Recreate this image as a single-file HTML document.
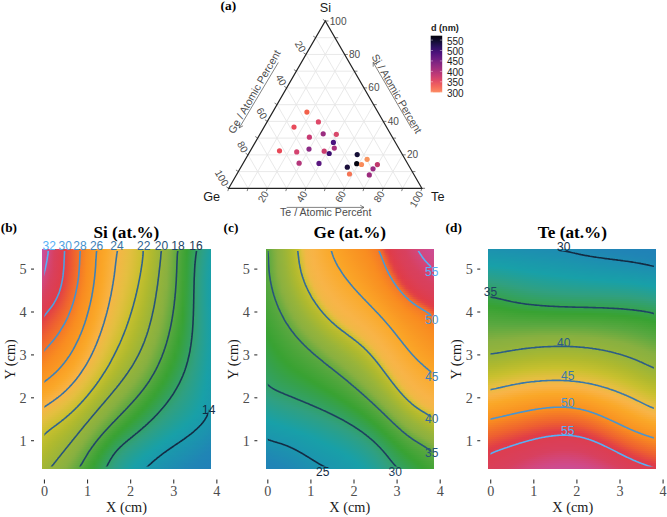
<!DOCTYPE html>
<html><head><meta charset="utf-8"><style>
html,body{margin:0;padding:0;background:#fff}
body{width:667px;height:517px;position:relative;overflow:hidden;font-family:"Liberation Sans",sans-serif}
.hm{position:absolute;overflow:hidden}
.hm div{position:absolute;left:0;right:0}
svg{position:absolute;left:0;top:0}
.tk{font-family:"Liberation Serif",serif;font-size:14.2px;fill:#4d4d4d}
.ax{font-family:"Liberation Serif",serif;font-size:14.3px;fill:#1a1a1a}
.ti{font-family:"Liberation Serif",serif;font-size:17.2px;font-weight:bold;fill:#000}
.pl{font-family:"Liberation Serif",serif;font-size:13.3px;font-weight:bold;fill:#000}
</style></head><body>
<div class="hm" style="left:42.20px;top:249.0px;width:168.60px;height:219.50px"><div style="top:0.00px;height:2.60px;background:linear-gradient(90deg,#c850a0,#ce4b8e,#d34678,#d84160,#db3f56,#de3d4d,#e34344,#e95339,#ef622f,#f26f2a,#f57c26,#f88921,#f99121,#f99723,#fa9e25,#faa327,#faa92a,#f9ad37,#f8b242,#f5b547,#efb944,#e9bc42,#e3bf40,#dbbf3a,#d2c034,#c8c02e,#bebd2e,#b4ba2e,#a9b831,#9eb537,#95b33b,#8db13e,#80af40,#6aab40,#56a73e,#47a538,#38a232,#36a149,#33a15f,#31a075,#2ca087,#23a095,#1ba0a3)"></div><div style="top:2.00px;height:2.60px;background:linear-gradient(90deg,#c8509f,#ce4b8d,#d34677,#d8405f,#db3f56,#de3d4d,#e34343,#e95339,#ef632f,#f2702a,#f57c26,#f88921,#f99121,#f99823,#fa9e25,#faa427,#faa92b,#f9ae38,#f8b243,#f5b647,#efb944,#e9bc42,#e3bf3f,#dabf3a,#d1c034,#c8c02e,#bebd2e,#b3ba2e,#a9b831,#9eb537,#95b33b,#8db13e,#7fae40,#69ab40,#55a73e,#46a438,#38a233,#36a14a,#33a160,#31a076,#2ba088,#23a096,#1aa0a4)"></div><div style="top:3.99px;height:2.60px;background:linear-gradient(90deg,#c9509e,#cf4b8b,#d34676,#d8405e,#db3e56,#de3d4d,#e34443,#e95438,#ef632f,#f2702a,#f57d25,#f88a21,#f99122,#f99823,#fa9e25,#faa427,#faaa2c,#f9ae38,#f8b244,#f4b646,#eeb944,#e9bc42,#e2bf3f,#dabf3a,#d1c034,#c7c02e,#bebd2e,#b3ba2e,#a8b831,#9eb537,#94b33b,#8cb13e,#7eae40,#68aa40,#54a73e,#45a437,#38a234,#35a14c,#33a162,#31a078,#2ba089,#22a097,#1aa0a5)"></div><div style="top:5.99px;height:2.60px;background:linear-gradient(90deg,#c94f9d,#cf4a8a,#d44574,#d8405e,#db3e55,#de3d4d,#e34443,#e95438,#ef632f,#f2702a,#f57d25,#f88a21,#f99222,#f99824,#fa9f25,#faa527,#faaa2d,#f9ae39,#f8b345,#f4b646,#eeba44,#e8bd42,#e2bf3f,#dabf39,#d1c034,#c7c02e,#bdbd2e,#b3ba2e,#a8b732,#9db537,#94b33c,#8cb13e,#7dae40,#67aa40,#54a73d,#45a437,#38a236,#35a14d,#33a163,#31a079,#2aa08a,#22a098,#19a0a6)"></div><div style="top:7.98px;height:2.60px;background:linear-gradient(90deg,#ca4f9b,#d04a88,#d44573,#d8405d,#db3e55,#de3d4c,#e34443,#e95438,#ef632f,#f2712a,#f57e25,#f98a21,#f99222,#f99924,#fa9f25,#faa527,#faaa2e,#f9af3a,#f8b345,#f3b746,#edba44,#e8bd42,#e2bf3e,#d9bf39,#d0c033,#c7c02e,#bdbd2e,#b2ba2e,#a7b732,#9db538,#94b33c,#8cb13f,#7dae40,#67aa40,#53a73d,#44a437,#38a237,#35a14e,#33a165,#31a07a,#2aa08b,#21a099,#19a0a7)"></div><div style="top:9.98px;height:2.60px;background:linear-gradient(90deg,#ca4e99,#d04a87,#d44571,#d8405d,#db3e55,#df3d4c,#e34442,#e95438,#ef642f,#f2712a,#f57e25,#f98b21,#f99222,#f99924,#fa9f25,#faa527,#faaa2e,#f9af3b,#f8b346,#f3b746,#edba44,#e7bd41,#e1bf3e,#d9bf39,#d0c033,#c6c02e,#bcbd2e,#b2ba2e,#a7b732,#9cb538,#93b33c,#8bb13f,#7cae40,#66aa40,#53a73d,#44a437,#37a237,#35a14f,#33a166,#30a07c,#29a08c,#20a09a,#18a0a8)"></div><div style="top:11.97px;height:2.60px;background:linear-gradient(90deg,#cb4e97,#d14985,#d54470,#d9405c,#dc3e54,#df3d4c,#e34542,#ea5538,#ef642f,#f2712a,#f67e25,#f98b20,#f99222,#f99924,#fa9f26,#faa527,#faab2f,#f9af3b,#f8b347,#f3b746,#edba43,#e7bd41,#e0bf3e,#d8bf38,#cfc033,#c6bf2e,#bcbd2e,#b1ba2e,#a6b733,#9bb538,#93b33c,#8bb13f,#7bae40,#65aa40,#53a73d,#43a437,#37a238,#35a150,#33a167,#30a07d,#29a08c,#20a09b,#18a0a8)"></div><div style="top:13.97px;height:2.60px;background:linear-gradient(90deg,#cc4d95,#d14983,#d5446e,#d9405c,#dc3e54,#df3d4c,#e44542,#ea5537,#ef642e,#f2712a,#f67e25,#f98b20,#f99222,#f99924,#fa9f26,#faa627,#faab30,#f9af3c,#f8b447,#f2b746,#ecba43,#e7be41,#e0bf3d,#d8bf38,#cfc032,#c5bf2e,#bbbc2e,#b0b92e,#a6b733,#9bb538,#92b33c,#8bb13f,#7bae40,#65aa40,#52a73d,#43a436,#37a239,#35a151,#32a168,#30a07e,#28a08d,#20a09b,#18a0a8)"></div><div style="top:15.96px;height:2.60px;background:linear-gradient(90deg,#cc4d93,#d14881,#d5436c,#d9405c,#dc3e54,#df3d4b,#e44542,#ea5537,#ef642e,#f2722a,#f67f25,#f98c20,#f99322,#f99924,#faa026,#faa627,#f9ab30,#f9b03c,#f8b448,#f2b746,#ecbb43,#e6be41,#dfbf3d,#d7bf38,#cec032,#c4bf2e,#babc2e,#b0b92e,#a5b733,#9ab439,#92b33c,#8bb13f,#7aae40,#65aa40,#52a73d,#43a436,#37a239,#35a151,#32a168,#30a07f,#28a08e,#1fa09c,#189fa8)"></div><div style="top:17.96px;height:2.60px;background:linear-gradient(90deg,#cd4c91,#d2487f,#d6436b,#d93f5b,#dc3e53,#df3d4b,#e44641,#ea5637,#ef652e,#f37229,#f67f25,#f98c20,#f99322,#f99924,#faa026,#faa627,#f9ab31,#f9b03d,#f8b448,#f1b845,#ecbb43,#e6be41,#dfbf3d,#d6bf37,#cdc031,#c4bf2e,#babc2e,#afb92e,#a4b734,#9ab439,#92b23c,#8ab13f,#79ad40,#64aa40,#52a73d,#42a436,#37a23a,#35a152,#32a169,#30a07f,#27a08e,#1fa09d,#189fa8)"></div><div style="top:19.95px;height:2.60px;background:linear-gradient(90deg,#ce4c8f,#d2477d,#d64369,#d93f5b,#dc3e53,#df3c4b,#e44641,#ea5636,#ef652e,#f37229,#f68025,#f98c20,#f99322,#f99a24,#faa026,#faa628,#f9ac31,#f9b03e,#f7b448,#f1b845,#ebbb43,#e5be41,#debf3c,#d6c037,#ccc031,#c3bf2e,#b9bc2e,#aeb92e,#a4b734,#99b439,#91b23c,#8ab13f,#79ad40,#64aa40,#52a73d,#42a436,#37a23b,#35a153,#32a16a,#30a080,#27a08f,#1fa09d,#189fa9)"></div><div style="top:21.95px;height:2.60px;background:linear-gradient(90deg,#ce4b8d,#d3477a,#d64267,#d93f5a,#dc3e52,#df3c4a,#e44741,#eb5736,#ef662e,#f37329,#f68024,#f98c20,#f99322,#f99a24,#faa026,#faa728,#f9ac32,#f9b03e,#f7b548,#f1b845,#ebbb43,#e5be40,#ddbf3c,#d5c036,#ccc030,#c2be2e,#b8bc2e,#adb92f,#a3b634,#98b43a,#91b23d,#8ab03f,#78ad40,#63aa40,#51a63c,#42a436,#37a23b,#35a153,#32a16b,#30a081,#27a08f,#1ea09e,#189fa9)"></div><div style="top:23.95px;height:2.60px;background:linear-gradient(90deg,#cf4b8a,#d34678,#d74265,#da3f59,#dc3e52,#df3c4a,#e54840,#eb5835,#f0662e,#f37429,#f68124,#f98d20,#f99422,#fa9a24,#faa126,#faa728,#f9ac33,#f9b13f,#f7b547,#f0b845,#eabc43,#e5bf40,#ddbf3b,#d4c036,#cbc030,#c1be2e,#b7bb2e,#adb82f,#a2b635,#98b43a,#91b23d,#89b03f,#77ad40,#63aa40,#51a63c,#41a436,#37a23b,#35a154,#32a16b,#2fa081,#27a090,#1ea09e,#189fa9)"></div><div style="top:25.94px;height:2.60px;background:linear-gradient(90deg,#d04a88,#d34676,#d74163,#da3f59,#dd3e51,#e03c49,#e5493f,#eb5935,#f0672d,#f37429,#f68124,#f98d20,#f99422,#fa9b24,#faa126,#faa728,#f9ac33,#f9b140,#f6b547,#f0b945,#eabc42,#e4bf40,#dcbf3b,#d3c035,#cac02f,#c0be2e,#b6bb2e,#acb830,#a2b635,#97b43a,#90b23d,#89b040,#77ad40,#62a940,#51a63c,#41a436,#37a23c,#34a154,#32a16c,#2fa081,#26a090,#1ea09e,#189fa9)"></div><div style="top:27.94px;height:2.60px;background:linear-gradient(90deg,#d14985,#d44573,#d84160,#da3f58,#dd3e51,#e03c49,#e54a3f,#ec5a34,#f0682d,#f37528,#f78224,#f98e20,#f99422,#fa9b24,#faa126,#faa828,#f9ad34,#f8b140,#f6b547,#efb945,#e9bc42,#e3bf40,#dbbf3a,#d2c035,#c9c02f,#c0be2e,#b6bb2e,#abb830,#a1b635,#97b43a,#90b23d,#89b040,#76ad40,#62a940,#50a63c,#41a436,#37a23c,#34a155,#32a16c,#2fa082,#26a090,#1ea09f,#189ea9)"></div><div style="top:29.93px;height:2.60px;background:linear-gradient(90deg,#d14982,#d54470,#d8405e,#da3f57,#dd3d50,#e03c48,#e64b3e,#ec5b33,#f0692d,#f37628,#f78323,#f98e21,#f99522,#fa9b24,#faa226,#faa828,#f9ad35,#f8b141,#f5b647,#efb944,#e9bc42,#e3bf3f,#dabf3a,#d2c034,#c8c02e,#bfbd2e,#b5bb2e,#aab830,#a0b636,#97b43b,#8fb23d,#88b040,#75ad40,#61a940,#50a63c,#41a436,#37a23d,#34a155,#32a16c,#2fa082,#26a091,#1da09f,#189ea9)"></div><div style="top:31.93px;height:2.60px;background:linear-gradient(90deg,#d2487f,#d5446d,#d8405d,#db3f56,#dd3d4f,#e03d47,#e64c3d,#ec5c33,#f06a2c,#f47728,#f78423,#f98e21,#f99523,#fa9c24,#faa226,#faa829,#f9ad36,#f8b242,#f5b647,#eeb944,#e8bd42,#e2bf3f,#d9bf39,#d1c034,#c7c02e,#bebd2e,#b4ba2e,#aab831,#9fb636,#96b43b,#8fb23d,#88b040,#75ad40,#60a940,#50a63c,#40a335,#37a23d,#34a155,#32a06d,#2fa082,#26a091,#1da09f,#199ea9)"></div><div style="top:33.92px;height:2.60px;background:linear-gradient(90deg,#d2477b,#d6436a,#d9405c,#db3e55,#de3d4e,#e13f46,#e74e3c,#ed5d32,#f16b2c,#f47827,#f78523,#f98f21,#f99623,#fa9c25,#faa326,#faa92a,#f9ae37,#f8b243,#f4b646,#eeba44,#e8bd41,#e1bf3e,#d9bf39,#d0c033,#c6c02e,#bdbd2e,#b3ba2e,#a9b831,#9fb537,#96b33b,#8fb23d,#88b040,#74ac40,#60a940,#4fa63c,#40a335,#37a23e,#34a156,#32a06d,#2fa082,#26a091,#1da09f,#199ea9)"></div><div style="top:35.92px;height:2.60px;background:linear-gradient(90deg,#d34678,#d64267,#d93f5b,#dc3e54,#de3d4d,#e24045,#e74f3b,#ee5f31,#f16c2c,#f47927,#f78622,#f98f21,#f99623,#fa9d25,#faa327,#faa92b,#f9ae38,#f8b244,#f4b646,#edba44,#e7bd41,#e0bf3d,#d8bf38,#cfc032,#c5bf2e,#bcbd2e,#b2ba2e,#a8b732,#9eb537,#95b33b,#8eb23e,#87b040,#73ac40,#5fa940,#4fa63b,#40a335,#37a23e,#34a156,#32a06d,#2fa082,#26a091,#1da09f,#199ea9)"></div><div style="top:37.91px;height:2.60px;background:linear-gradient(90deg,#d44574,#d74163,#da3f5a,#dc3e53,#de3d4c,#e24244,#e8513a,#ee6030,#f16d2b,#f57a26,#f88722,#f99021,#f99723,#fa9d25,#faa327,#faa92c,#f9ae39,#f8b345,#f3b746,#edba43,#e7be41,#dfbf3d,#d7bf37,#cec032,#c4bf2e,#bbbc2e,#b1ba2e,#a7b732,#9db537,#95b33b,#8eb13e,#86b040,#72ac40,#5ea940,#4ea63b,#3fa335,#37a23f,#34a157,#32a06e,#2ea083,#26a091,#1da09f,#199ea9)"></div><div style="top:39.91px;height:2.60px;background:linear-gradient(90deg,#d5446f,#d8405f,#da3f58,#dc3e52,#df3d4b,#e34443,#e95339,#ee622f,#f26f2b,#f57b26,#f88822,#f99021,#f99723,#fa9e25,#faa427,#faaa2d,#f9af3a,#f8b346,#f2b746,#ecbb43,#e6be41,#debf3c,#d6c037,#cdc031,#c3bf2e,#babc2e,#b0b92e,#a6b733,#9cb538,#94b33b,#8eb13e,#85af40,#71ac40,#5ea940,#4ea63b,#3fa335,#37a23f,#34a157,#32a06e,#2ea083,#26a091,#1da09f,#199ea9)"></div><div style="top:41.90px;height:2.60px;background:linear-gradient(90deg,#d6436b,#d8405d,#db3f57,#dd3e51,#df3c4a,#e44641,#ea5537,#ef632f,#f2702a,#f57d26,#f88921,#f99121,#f99823,#fa9e25,#faa427,#faaa2e,#f9af3b,#f8b447,#f2b745,#ebbb43,#e5be40,#ddbf3c,#d5c036,#cbc030,#c2be2e,#b9bc2e,#afb92e,#a5b733,#9cb538,#94b33c,#8db13e,#83af40,#70ac40,#5da840,#4da63b,#3ea335,#37a240,#34a157,#32a06e,#2ea083,#26a091,#1da09f,#199ea9)"></div><div style="top:43.90px;height:2.60px;background:linear-gradient(90deg,#d64266,#d9405b,#db3e56,#dd3d4f,#e03c49,#e54940,#eb5736,#ef652e,#f2722a,#f57e25,#f98a21,#f99222,#f99824,#fa9f25,#faa527,#faab2f,#f9b03c,#f8b448,#f1b845,#ebbb43,#e5bf40,#dcbf3b,#d4c035,#cac030,#c1be2e,#b8bc2e,#aeb92e,#a5b733,#9bb538,#93b33c,#8db13e,#82af40,#6fac40,#5ca840,#4da63b,#3ea334,#37a240,#34a158,#32a06e,#2ea083,#26a091,#1da09f,#199ea9)"></div><div style="top:45.90px;height:2.60px;background:linear-gradient(90deg,#d74162,#da3f5a,#dc3e54,#de3d4e,#e13e47,#e64b3e,#eb5934,#f0672e,#f37329,#f67f25,#f98b20,#f99222,#f99924,#fa9f26,#faa627,#f9ab30,#f9b03d,#f7b448,#f0b845,#eabc42,#e4bf40,#dbbf3a,#d2c035,#c9c02f,#c0be2e,#b7bb2e,#adb92f,#a4b734,#9ab439,#93b33c,#8cb13e,#81af40,#6eac40,#5ba840,#4ca63a,#3ea334,#36a241,#34a158,#32a06e,#2ea083,#26a091,#1da09f,#199ea9)"></div><div style="top:47.89px;height:2.60px;background:linear-gradient(90deg,#d8405d,#da3f58,#dc3e52,#de3d4c,#e24045,#e74e3c,#ec5c33,#f0692d,#f37528,#f68124,#f98c20,#f99322,#f99924,#faa026,#faa627,#f9ac31,#f9b03e,#f6b547,#f0b945,#e9bc42,#e3bf3f,#dabf3a,#d1c034,#c8c02e,#bfbe2e,#b6bb2e,#acb82f,#a3b634,#99b439,#92b33c,#8cb13f,#80af40,#6dab40,#5aa840,#4ca53a,#3da334,#36a241,#34a158,#32a06f,#2ea083,#26a091,#1da09f,#199ea9)"></div><div style="top:49.89px;height:2.60px;background:linear-gradient(90deg,#d9405c,#db3f56,#dd3e51,#df3c4b,#e34343,#e8503a,#ed5e31,#f16a2c,#f47628,#f78224,#f98d20,#f99422,#fa9a24,#faa126,#faa728,#f9ac33,#f9b140,#f6b547,#efb944,#e8bd42,#e2bf3e,#d9bf39,#d0c033,#c7c02e,#bebd2e,#b5bb2e,#abb830,#a2b635,#98b43a,#92b23c,#8bb13f,#7fae40,#6cab40,#59a840,#4ba53a,#3da334,#36a242,#34a159,#32a06f,#2ea083,#26a091,#1da09f,#189ea9)"></div><div style="top:51.88px;height:2.60px;background:linear-gradient(90deg,#da3f5a,#dc3e54,#de3d4f,#e03c49,#e44641,#e95339,#ee6130,#f16c2c,#f47827,#f78423,#f98e21,#f99422,#fa9b24,#faa126,#faa728,#f9ad34,#f8b141,#f5b647,#eeb944,#e8bd41,#e0bf3e,#d8bf38,#cfc032,#c6bf2e,#bdbd2e,#b4ba2e,#aab830,#a1b635,#98b43a,#91b23d,#8bb13f,#7eae40,#6bab40,#59a83f,#4aa53a,#3ca334,#36a242,#34a159,#32a06f,#2ea083,#26a091,#1da09f,#189ea9)"></div><div style="top:53.88px;height:2.60px;background:linear-gradient(90deg,#da3f58,#dc3e52,#de3d4d,#e13e47,#e54a3f,#ea5637,#ef632f,#f26e2b,#f47a27,#f78522,#f98f21,#f99523,#fa9c24,#faa226,#faa828,#f9ad36,#f8b242,#f4b646,#edba44,#e7bd41,#dfbf3d,#d7bf37,#cec032,#c5bf2e,#bcbd2e,#b3ba2e,#a9b831,#a0b636,#97b43a,#91b23d,#8ab13f,#7cae40,#6aab40,#58a83f,#4aa539,#3ca333,#36a243,#34a159,#32a06f,#2ea083,#26a091,#1da09f,#189ea9)"></div><div style="top:55.87px;height:2.60px;background:linear-gradient(90deg,#db3e55,#dd3d50,#df3c4b,#e24244,#e74d3d,#eb5935,#ef652e,#f2702a,#f57c26,#f88722,#f99021,#f99623,#fa9c25,#faa326,#faa92a,#f9ae37,#f8b244,#f3b746,#ecba43,#e6be41,#debf3c,#d5c037,#ccc031,#c4bf2e,#bbbc2e,#b1ba2e,#a8b832,#9fb636,#97b43b,#90b23d,#8ab03f,#7bae40,#68ab40,#57a73f,#49a539,#3ba333,#36a244,#34a15a,#32a06f,#2ea083,#26a091,#1da09f,#189ea9)"></div><div style="top:57.87px;height:2.60px;background:linear-gradient(90deg,#dc3e53,#de3d4e,#e03c49,#e44542,#e8503b,#ed5c32,#f0672d,#f37229,#f57d25,#f88921,#f99021,#f99723,#fa9d25,#faa327,#faa92b,#f9ae39,#f8b345,#f2b746,#ecbb43,#e5be40,#ddbf3b,#d4c036,#cbc030,#c2be2e,#b9bc2e,#b0b92e,#a7b732,#9eb537,#96b33b,#90b23d,#89b040,#79ad40,#67aa40,#56a73e,#48a539,#3aa233,#36a244,#34a15a,#32a06f,#2ea083,#26a091,#1ea09f,#189fa9)"></div><div style="top:59.86px;height:2.60px;background:linear-gradient(90deg,#dd3e51,#df3d4c,#e13f46,#e54940,#e95438,#ee5f30,#f06a2c,#f37429,#f67f25,#f98a21,#f99122,#f99823,#fa9e25,#faa427,#faaa2d,#f9af3a,#f8b447,#f2b845,#ebbb43,#e4bf40,#dcbf3b,#d3c035,#cac02f,#c1be2e,#b8bc2e,#afb92e,#a6b733,#9db537,#95b33b,#8fb23d,#89b040,#78ad40,#66aa40,#55a73e,#48a538,#3aa233,#36a245,#34a15b,#32a070,#2ea083,#26a091,#1ea09f,#189fa9)"></div><div style="top:61.86px;height:2.60px;background:linear-gradient(90deg,#dd3d4f,#df3c4a,#e34244,#e64c3d,#ea5736,#ee622f,#f16c2c,#f47628,#f68124,#f98c20,#f99222,#f99824,#fa9f25,#faa527,#faaa2f,#f9af3c,#f8b448,#f1b845,#eabc42,#e3bf40,#dabf3a,#d1c034,#c8c02e,#c0be2e,#b7bb2e,#aeb92f,#a5b733,#9cb538,#95b33b,#8eb23e,#88b040,#76ad40,#64aa40,#54a73e,#47a538,#39a233,#36a146,#34a15b,#32a070,#2ea083,#26a091,#1ea09e,#189fa9)"></div><div style="top:63.85px;height:2.60px;background:linear-gradient(90deg,#de3d4d,#e03d48,#e44641,#e8503b,#ec5a34,#ef642e,#f26e2b,#f47827,#f78323,#f98d20,#f99322,#f99924,#fa9f26,#faa627,#f9ab30,#f9b03d,#f7b548,#f0b945,#e9bc42,#e2bf3f,#d9bf39,#d0c033,#c7c02e,#bfbd2e,#b6bb2e,#adb92f,#a4b734,#9bb538,#94b33b,#8eb13e,#87b040,#75ad40,#63aa40,#53a73d,#46a438,#39a232,#36a146,#34a15b,#32a070,#2ea083,#26a091,#1ea09e,#189fa9)"></div><div style="top:65.85px;height:2.60px;background:linear-gradient(90deg,#df3d4b,#e24045,#e54a3f,#e95338,#ed5e32,#f0672d,#f2712a,#f57b26,#f78523,#f98e21,#f99422,#fa9a24,#faa026,#faa628,#f9ac32,#f9b13f,#f6b547,#efb944,#e8bd42,#e1bf3e,#d8bf38,#cfc032,#c6bf2e,#bdbd2e,#b4bb2e,#acb830,#a3b634,#9ab439,#93b33c,#8db13e,#85af40,#73ac40,#61a940,#52a73d,#45a437,#38a232,#36a147,#34a15c,#32a070,#2ea083,#26a091,#1ea09e,#189fa9)"></div><div style="top:67.85px;height:2.60px;background:linear-gradient(90deg,#e03c49,#e34443,#e74d3d,#ea5736,#ee6130,#f0692d,#f37329,#f57d26,#f88722,#f98f21,#f99523,#fa9b24,#faa126,#faa728,#f9ac34,#f8b141,#f5b647,#eeba44,#e7bd41,#dfbf3d,#d6bf37,#cdc031,#c4bf2e,#bcbd2e,#b3ba2e,#aab830,#a2b635,#99b439,#93b33c,#8db13e,#83af40,#72ac40,#60a940,#51a63c,#44a437,#38a233,#36a148,#34a15d,#32a071,#2ea083,#26a091,#1ea09e,#189fa9)"></div><div style="top:69.84px;height:2.60px;background:linear-gradient(90deg,#e13e47,#e44740,#e8513a,#ec5a34,#ef632f,#f16c2c,#f37528,#f67f25,#f88921,#f99021,#f99623,#fa9c25,#faa226,#faa828,#f9ad36,#f8b243,#f4b646,#edba43,#e6be41,#debf3c,#d5c036,#ccc030,#c3bf2e,#bbbc2e,#b2ba2e,#a9b831,#a1b635,#98b43a,#92b23c,#8cb13f,#81af40,#70ac40,#5ea940,#50a63c,#43a437,#38a234,#36a149,#34a15d,#32a071,#2ea083,#26a091,#1ea09e,#189fa9)"></div><div style="top:71.84px;height:2.60px;background:linear-gradient(90deg,#e24244,#e64b3e,#e95438,#ed5d32,#ef662e,#f26e2b,#f47727,#f68124,#f98b20,#f99121,#f99723,#fa9d25,#faa327,#faa92a,#f9ae38,#f8b345,#f3b746,#ecbb43,#e5be40,#dcbf3b,#d3c035,#cac02f,#c2be2e,#b9bc2e,#b0b92e,#a8b732,#a0b636,#97b43a,#91b23d,#8bb13f,#80af40,#6eac40,#5da840,#4fa63c,#43a436,#38a235,#36a14a,#34a15e,#31a072,#2ea083,#26a091,#1ea09e,#189fa8)"></div><div style="top:73.83px;height:2.60px;background:linear-gradient(90deg,#e44542,#e74e3c,#eb5736,#ee6130,#f0682d,#f2712a,#f47a27,#f78323,#f98d20,#f99222,#f99823,#fa9e25,#faa427,#faaa2c,#f9af3a,#f8b346,#f2b845,#ebbb43,#e4bf40,#dbbf3a,#d2c034,#c8c02e,#c0be2e,#b8bb2e,#afb92e,#a7b732,#9eb537,#97b43b,#90b23d,#8ab13f,#7eae40,#6cab40,#5ba840,#4ea63b,#42a436,#38a237,#35a14b,#33a15e,#31a072,#2ea084,#26a091,#1ea09e,#189fa8)"></div><div style="top:75.83px;height:2.60px;background:linear-gradient(90deg,#e54940,#e8523a,#ec5b34,#ef632f,#f16b2c,#f37329,#f57c26,#f78522,#f98e20,#f99322,#f99924,#fa9f25,#faa527,#faaa2f,#f9af3c,#f8b448,#f0b845,#e9bc42,#e2bf3f,#d9bf39,#d0c033,#c7c02e,#bfbd2e,#b6bb2e,#aeb92f,#a6b733,#9db537,#96b33b,#90b23d,#8ab03f,#7cae40,#6aab40,#5aa840,#4da63b,#41a436,#37a238,#35a14c,#33a15f,#31a072,#2ea084,#26a091,#1ea09e,#189fa8)"></div><div style="top:77.82px;height:2.60px;background:linear-gradient(90deg,#e64c3d,#ea5537,#ed5e31,#ef662e,#f16e2b,#f37628,#f67e25,#f88822,#f98f21,#f99422,#fa9a24,#faa026,#faa627,#f9ab31,#f9b03e,#f7b547,#efb944,#e8bd42,#e1bf3e,#d7bf38,#cec032,#c6bf2e,#bdbd2e,#b5bb2e,#acb82f,#a4b734,#9cb538,#95b33b,#8fb23d,#89b040,#7aad40,#69ab40,#58a83f,#4ca63a,#40a335,#37a239,#35a14d,#33a160,#31a073,#2ea084,#26a091,#1ea09e,#189fa8)"></div><div style="top:79.82px;height:2.60px;background:linear-gradient(90deg,#e8503b,#eb5935,#ee6130,#f0692d,#f2702a,#f47827,#f68124,#f88a21,#f99021,#f99623,#fa9b24,#faa126,#faa728,#f9ac33,#f9b140,#f5b547,#eeb944,#e7bd41,#dfbf3d,#d6c037,#cdc031,#c4bf2e,#bcbd2e,#b3ba2e,#abb830,#a3b634,#9bb539,#94b33b,#8eb23e,#88b040,#77ad40,#67aa40,#57a73f,#4ba53a,#3fa335,#37a23a,#35a14e,#33a161,#31a074,#2da084,#26a091,#1ea09e,#189fa8)"></div><div style="top:81.81px;height:2.60px;background:linear-gradient(90deg,#e95338,#ec5c33,#ef642f,#f16b2c,#f37329,#f57b26,#f78323,#f98c20,#f99122,#f99723,#fa9c25,#faa226,#faa828,#f9ad35,#f8b242,#f4b646,#edba44,#e6be41,#ddbf3c,#d4c036,#cbc030,#c2be2e,#babc2e,#b2ba2e,#aab831,#a2b635,#99b439,#93b33c,#8db13e,#86b040,#75ad40,#65aa40,#56a73e,#4aa539,#3ea334,#37a23c,#35a14f,#33a162,#31a074,#2da085,#26a091,#1ea09e,#189fa8)"></div><div style="top:83.81px;height:2.60px;background:linear-gradient(90deg,#ea5736,#ee6030,#f0672e,#f16e2b,#f37528,#f57d25,#f78622,#f98d20,#f99222,#f99823,#fa9d25,#faa327,#faa92a,#f9ae38,#f8b344,#f3b746,#ecbb43,#e5bf40,#dcbf3b,#d2c035,#c9c02f,#c1be2e,#b9bc2e,#b0b92e,#a8b832,#a0b636,#98b43a,#92b33c,#8cb13e,#84af40,#73ac40,#63a940,#54a73e,#48a539,#3da334,#37a23d,#35a150,#33a162,#31a075,#2da085,#25a092,#1ea09e,#189fa8)"></div><div style="top:85.80px;height:2.60px;background:linear-gradient(90deg,#ec5b34,#ef632f,#f06a2d,#f2712a,#f47827,#f68024,#f88821,#f98f21,#f99422,#f99924,#fa9f25,#faa427,#faaa2d,#f9af3a,#f8b346,#f1b845,#eabc43,#e3bf40,#dabf39,#d1c033,#c7c02e,#bfbe2e,#b7bb2e,#afb92e,#a7b732,#9fb536,#97b43a,#91b23d,#8cb13f,#81af40,#71ac40,#60a940,#53a73d,#47a538,#3ca333,#37a23f,#35a151,#33a163,#31a076,#2da085,#25a092,#1ea09e,#189fa8)"></div><div style="top:87.80px;height:2.60px;background:linear-gradient(90deg,#ed5e31,#ef662e,#f16c2b,#f37329,#f57b26,#f78224,#f98a21,#f99021,#f99523,#fa9a24,#faa026,#faa627,#faab2f,#f9b03c,#f8b448,#f0b845,#e9bc42,#e1bf3e,#d8bf38,#cfc032,#c6bf2e,#bebd2e,#b5bb2e,#adb92f,#a5b733,#9db537,#96b43b,#90b23d,#8bb13f,#7fae40,#6eac40,#5ea940,#51a63c,#46a438,#3aa233,#37a240,#35a152,#33a164,#31a076,#2da086,#25a092,#1ea09e,#189fa8)"></div><div style="top:89.80px;height:2.60px;background:linear-gradient(90deg,#ee622f,#f0682d,#f26f2a,#f47628,#f57d25,#f78523,#f98d20,#f99121,#f99623,#fa9b24,#faa126,#faa728,#f9ac32,#f9b13f,#f6b547,#efb944,#e8bd41,#dfbf3d,#d6bf37,#cdc031,#c4bf2e,#bcbd2e,#b4ba2e,#acb830,#a4b734,#9cb538,#95b33b,#8fb23d,#8ab03f,#7cae40,#6cab40,#5ca840,#50a63c,#45a437,#39a233,#36a242,#35a154,#33a165,#31a077,#2ca086,#25a092,#1ea09f,#189fa8)"></div><div style="top:91.79px;height:2.60px;background:linear-gradient(90deg,#ef652e,#f16b2c,#f37229,#f47927,#f68024,#f88722,#f98e21,#f99322,#f99723,#fa9d25,#faa226,#faa828,#f9ad35,#f8b141,#f5b647,#edba44,#e6be41,#debf3c,#d4c036,#cbc030,#c2be2e,#babc2e,#b2ba2e,#aab831,#a2b635,#9ab539,#94b33b,#8eb23e,#89b040,#7aae40,#6aab40,#5aa840,#4ea63b,#43a437,#38a232,#36a244,#34a155,#33a167,#31a078,#2ca087,#25a093,#1ea09f,#189fa8)"></div><div style="top:93.79px;height:2.60px;background:linear-gradient(90deg,#f0682d,#f26e2b,#f37528,#f57c26,#f78323,#f98a21,#f98f21,#f99422,#f99924,#fa9e25,#faa427,#faa92a,#f9ae37,#f8b244,#f3b746,#ecbb43,#e5bf40,#dcbf3b,#d2c034,#c9c02e,#c0be2e,#b8bc2e,#b0b92e,#a8b831,#a1b635,#99b43a,#93b33c,#8db13e,#87b040,#77ad40,#67aa40,#58a83f,#4da63b,#42a436,#38a234,#36a245,#34a157,#32a168,#31a079,#2ca087,#25a093,#1da09f,#189fa8)"></div><div style="top:95.78px;height:2.60px;background:linear-gradient(90deg,#f16b2c,#f2712a,#f47827,#f67f25,#f78522,#f98c20,#f99121,#f99523,#fa9a24,#fa9f26,#faa527,#faaa2d,#f9af3a,#f8b346,#f2b845,#eabc43,#e3bf3f,#d9bf39,#d0c033,#c7c02e,#bfbd2e,#b6bb2e,#aeb92e,#a7b732,#9fb636,#97b43a,#92b23c,#8cb13e,#84af40,#74ad40,#65aa40,#56a73f,#4ba53a,#40a335,#38a236,#36a147,#34a158,#32a169,#31a07a,#2ba088,#24a093,#1da09f,#189fa9)"></div><div style="top:97.78px;height:2.60px;background:linear-gradient(90deg,#f16e2b,#f37429,#f57b26,#f68124,#f88821,#f98e21,#f99222,#f99723,#fa9b24,#faa126,#faa627,#f9ab30,#f9b03d,#f7b448,#f0b845,#e9bc42,#e1bf3e,#d7bf38,#cec032,#c5bf2e,#bdbd2e,#b5bb2e,#adb82f,#a5b733,#9db537,#96b43b,#91b23d,#8bb13f,#81af40,#72ac40,#62a940,#55a73e,#4aa539,#3fa335,#37a238,#36a149,#34a15a,#32a16a,#31a07b,#2ba088,#24a094,#1da0a0,#189fa9)"></div><div style="top:99.77px;height:2.60px;background:linear-gradient(90deg,#f2712a,#f47728,#f57e25,#f78423,#f98b20,#f98f21,#f99322,#f99823,#fa9d25,#faa226,#faa728,#f9ac33,#f9b140,#f6b547,#eeb944,#e7bd41,#dfbf3d,#d5c036,#ccc030,#c3bf2e,#bbbc2e,#b3ba2e,#abb830,#a3b634,#9cb538,#95b33b,#90b23d,#8ab13f,#7eae40,#6fac40,#5fa940,#53a73d,#48a539,#3da334,#37a23a,#35a14b,#34a15b,#32a16c,#30a07c,#2ba089,#24a094,#1da0a0,#189fa9)"></div><div style="top:101.77px;height:2.60px;background:linear-gradient(90deg,#f37329,#f47a27,#f68024,#f88722,#f98d20,#f99121,#f99523,#f99924,#fa9e25,#faa327,#faa92a,#f9ad36,#f8b242,#f4b646,#edba43,#e6be41,#ddbf3b,#d3c035,#c9c02f,#c1be2e,#b9bc2e,#b1b92e,#a9b831,#a1b635,#9ab439,#94b33c,#8eb23e,#89b040,#7bae40,#6cab40,#5da840,#51a63c,#46a538,#3ca334,#37a23c,#35a14d,#34a15d,#32a06d,#30a07d,#2aa08a,#23a095,#1da0a0,#189fa9)"></div><div style="top:103.76px;height:2.60px;background:linear-gradient(90deg,#f47628,#f57d26,#f78323,#f88921,#f98e21,#f99222,#f99623,#fa9b24,#faa026,#faa527,#faaa2d,#f9ae39,#f8b345,#f2b746,#ebbb43,#e4bf40,#dabf3a,#d1c034,#c7c02e,#bfbd2e,#b7bb2e,#aeb92e,#a7b732,#9fb636,#98b43a,#93b33c,#8db13e,#88b040,#78ad40,#69ab40,#5aa840,#4fa63c,#45a437,#3aa233,#37a23e,#35a14f,#33a15f,#32a06f,#30a07f,#2aa08a,#23a096,#1ca0a1,#189fa9)"></div><div style="top:105.76px;height:2.60px;background:linear-gradient(90deg,#f47927,#f68025,#f78622,#f98c20,#f99021,#f99422,#f99823,#fa9c25,#faa126,#faa628,#f9ab30,#f9b03c,#f8b448,#f0b845,#e9bc42,#e2bf3f,#d8bf38,#cec032,#c5bf2e,#bdbd2e,#b4bb2e,#acb82f,#a5b733,#9db537,#97b43b,#91b23d,#8cb13e,#84af40,#75ad40,#66aa40,#58a83f,#4da63b,#43a437,#39a232,#36a241,#35a151,#33a160,#32a070,#30a080,#29a08b,#23a096,#1ca0a1,#189ea9)"></div><div style="top:107.75px;height:2.60px;background:linear-gradient(90deg,#f57c26,#f78223,#f88921,#f98e20,#f99122,#f99523,#f99924,#fa9e25,#faa326,#faa828,#f9ac33,#f9b13f,#f6b547,#efb944,#e8bd41,#dfbf3d,#d5c037,#ccc030,#c3bf2e,#bbbc2e,#b2ba2e,#aab830,#a3b634,#9bb538,#95b33b,#90b23d,#8bb13f,#81af40,#72ac40,#63aa40,#56a73e,#4ba53a,#41a436,#38a233,#36a243,#35a153,#33a162,#31a072,#2fa081,#29a08c,#22a097,#1ca0a2,#189ea9)"></div><div style="top:109.75px;height:2.60px;background:linear-gradient(90deg,#f67f25,#f78522,#f98b20,#f98f21,#f99322,#f99723,#fa9b24,#fa9f26,#faa427,#faa92b,#f9ae37,#f8b243,#f4b646,#edba44,#e6be41,#ddbf3b,#d3c035,#c9c02f,#c1be2e,#b8bc2e,#b0b92e,#a8b831,#a1b635,#99b439,#94b33c,#8fb23e,#89b03f,#7dae40,#6eac40,#60a940,#54a73d,#49a539,#3fa335,#38a236,#36a146,#34a155,#33a164,#31a074,#2fa082,#28a08d,#22a097,#1ba0a2,#199ea9)"></div><div style="top:111.75px;height:2.60px;background:linear-gradient(90deg,#f78224,#f88821,#f98d20,#f99121,#f99422,#f99824,#fa9c25,#faa126,#faa627,#faaa2f,#f9af3a,#f8b346,#f2b746,#ebbb43,#e4bf40,#dabf3a,#d0c033,#c7c02e,#bebd2e,#b6bb2e,#aeb92f,#a6b733,#9fb536,#98b43a,#92b33c,#8db13e,#88b040,#7aae40,#6bab40,#5da840,#52a73d,#47a538,#3ea334,#37a239,#36a148,#34a157,#33a166,#31a075,#2ea083,#28a08e,#22a098,#1ba0a3,#199ea9)"></div><div style="top:113.74px;height:2.60px;background:linear-gradient(90deg,#f78522,#f98b20,#f98f21,#f99222,#f99623,#f99a24,#fa9e25,#faa326,#faa728,#f9ac32,#f9b03e,#f7b448,#f0b845,#e9bc42,#e1bf3e,#d7bf38,#cec032,#c4bf2e,#bcbd2e,#b3ba2e,#abb830,#a4b734,#9db538,#96b43b,#91b23d,#8cb13f,#85af40,#76ad40,#68aa40,#5aa840,#4fa63c,#45a438,#3ca333,#37a23c,#35a14b,#34a15a,#32a168,#31a077,#2ea084,#27a08e,#21a099,#1ba0a3,#199ea9)"></div><div style="top:115.74px;height:2.60px;background:linear-gradient(90deg,#f88821,#f98d20,#f99121,#f99422,#f99823,#fa9c24,#faa026,#faa427,#faa92b,#f9ad36,#f8b141,#f5b647,#eeb944,#e7bd41,#dfbf3d,#d5c036,#cbc030,#c2be2e,#b9bc2e,#b1ba2e,#a9b831,#a2b635,#9ab439,#95b33b,#8fb23d,#8ab13f,#81af40,#72ac40,#64aa40,#57a83f,#4da63b,#43a437,#3aa233,#37a23e,#35a14d,#34a15c,#32a16a,#31a079,#2da085,#27a08f,#21a09a,#1aa0a4,#199ea9)"></div><div style="top:117.73px;height:2.60px;background:linear-gradient(90deg,#f98c20,#f98f21,#f99222,#f99623,#f99924,#fa9d25,#faa226,#faa627,#faaa2e,#f9af39,#f8b345,#f3b746,#ecbb43,#e5be40,#dcbf3b,#d2c034,#c8c02e,#bfbe2e,#b7bb2e,#aeb92e,#a7b732,#9fb636,#98b43a,#93b33c,#8eb13e,#89b040,#7dae40,#6fac40,#61a940,#55a73e,#4ba53a,#41a436,#38a233,#36a241,#35a150,#33a15e,#32a06d,#31a07b,#2ca086,#26a090,#20a09a,#1aa0a5,#199ea9)"></div><div style="top:119.73px;height:2.60px;background:linear-gradient(90deg,#f98e20,#f99121,#f99422,#f99823,#fa9b24,#fa9f25,#faa327,#faa828,#f9ac32,#f9b03d,#f8b448,#f1b845,#eabc42,#e3bf3f,#d9bf39,#cfc033,#c5bf2e,#bdbd2e,#b4ba2e,#acb830,#a4b734,#9db537,#96b43b,#91b23c,#8cb13e,#87b040,#79ad40,#6bab40,#5da940,#52a73d,#49a539,#3fa335,#38a236,#36a245,#35a153,#33a161,#32a06f,#30a07d,#2ca087,#26a091,#20a09b,#1aa0a5,#199da9)"></div><div style="top:121.72px;height:2.60px;background:linear-gradient(90deg,#f98f21,#f99322,#f99623,#f99924,#fa9d25,#faa126,#faa527,#faa92c,#f9ad36,#f8b141,#f6b547,#efb944,#e8bd42,#e0bf3d,#d6c037,#ccc031,#c3bf2e,#babc2e,#b1ba2e,#a9b831,#a2b635,#9ab539,#95b33b,#90b23d,#8bb13f,#83af40,#75ad40,#67aa40,#5aa840,#50a63c,#46a438,#3da334,#37a239,#36a148,#34a156,#33a164,#32a071,#30a07f,#2ba089,#25a092,#1fa09c,#19a0a6,#199da9)"></div><div style="top:123.72px;height:2.60px;background:linear-gradient(90deg,#f99122,#f99522,#f99823,#fa9b24,#fa9f25,#faa327,#faa728,#faab30,#f9af3a,#f8b345,#f3b746,#ecba43,#e6be41,#ddbf3b,#d3c035,#c9c02f,#c0be2e,#b7bb2e,#afb92e,#a7b732,#9fb636,#98b43a,#93b33c,#8eb23e,#89b03f,#7eae40,#71ac40,#63aa40,#57a73f,#4da63b,#44a437,#3aa233,#37a23d,#35a14b,#34a159,#33a166,#31a074,#30a081,#2aa08a,#24a093,#1fa09d,#19a0a7,#199da9)"></div><div style="top:125.71px;height:2.60px;background:linear-gradient(90deg,#f99322,#f99723,#f99a24,#fa9d25,#faa126,#faa527,#faa92a,#f9ac34,#f9b03e,#f8b448,#f1b845,#eabc42,#e3bf40,#dabf39,#d0c033,#c6bf2e,#bdbd2e,#b4ba2e,#acb830,#a4b734,#9db538,#96b43b,#91b23d,#8db13e,#87b040,#7aae40,#6dab40,#5fa940,#54a73e,#4ba53a,#41a436,#38a232,#37a240,#35a14e,#34a15c,#32a169,#31a076,#2fa082,#29a08b,#24a094,#1ea09e,#18a0a7,#199daa)"></div><div style="top:127.71px;height:2.60px;background:linear-gradient(90deg,#f99523,#f99924,#fa9c25,#fa9f25,#faa327,#faa728,#faaa2e,#f9ae38,#f8b242,#f5b647,#efb944,#e8bd42,#e0bf3d,#d6bf37,#ccc031,#c3bf2e,#babc2e,#b1ba2e,#a9b831,#a1b635,#9ab439,#94b33b,#90b23d,#8bb13f,#83af40,#76ad40,#68ab40,#5ba840,#51a63c,#48a539,#3fa335,#38a236,#36a244,#35a151,#33a15f,#32a16c,#31a078,#2ea083,#29a08c,#23a095,#1ea09f,#18a0a8,#199daa)"></div><div style="top:129.70px;height:2.60px;background:linear-gradient(90deg,#f99723,#fa9b24,#fa9e25,#faa126,#faa527,#faa929,#f9ac33,#f9b03c,#f8b346,#f3b746,#ecba43,#e6be41,#ddbf3b,#d3c035,#c9c02f,#c0be2e,#b7bb2e,#aeb92e,#a6b733,#9fb537,#98b43a,#93b33c,#8eb13e,#89b040,#7eae40,#71ac40,#64aa40,#58a83f,#4fa63b,#45a437,#3ca334,#37a239,#36a147,#34a155,#33a162,#32a06e,#31a07b,#2da085,#28a08e,#23a096,#1da09f,#18a0a8,#199caa)"></div><div style="top:131.70px;height:2.60px;background:linear-gradient(90deg,#f99924,#fa9d25,#faa026,#faa327,#faa728,#faaa2e,#f9ae37,#f8b141,#f6b547,#f0b845,#eabc42,#e3bf3f,#d9bf39,#d0c033,#c6bf2e,#bdbd2e,#b4ba2e,#abb830,#a3b634,#9cb538,#96b33b,#91b23d,#8cb13e,#87b040,#7aad40,#6dab40,#60a940,#55a73e,#4ca53a,#43a436,#3aa233,#37a23d,#35a14b,#34a158,#33a165,#32a071,#30a07d,#2ca086,#27a08f,#22a098,#1da0a0,#189fa8,#199caa)"></div><div style="top:133.70px;height:2.60px;background:linear-gradient(90deg,#fa9c24,#fa9f25,#faa226,#faa527,#faa92a,#f9ac33,#f9af3c,#f8b345,#f4b646,#eeba44,#e7bd41,#dfbf3d,#d6c037,#ccc031,#c3bf2e,#babc2e,#b1b92e,#a8b831,#a1b636,#99b439,#94b33c,#8fb23d,#8ab13f,#82af40,#75ad40,#68aa40,#5ca840,#52a73d,#49a539,#40a335,#38a234,#36a241,#35a14f,#34a15c,#32a168,#31a074,#30a080,#2ba088,#26a090,#21a099,#1ca0a1,#189fa8,#199caa)"></div><div style="top:135.69px;height:2.60px;background:linear-gradient(90deg,#fa9e25,#faa126,#faa427,#faa728,#faab2f,#f9ae37,#f9b140,#f7b448,#f1b845,#ebbb43,#e5bf40,#dcbf3b,#d2c035,#c8c02e,#bfbe2e,#b6bb2e,#adb92f,#a5b733,#9eb537,#97b43a,#92b23c,#8db13e,#89b040,#7dae40,#70ac40,#64aa40,#58a83f,#4fa63b,#46a438,#3da334,#37a238,#36a245,#35a152,#33a15f,#32a16b,#31a077,#2fa081,#2aa089,#26a091,#21a09a,#1ba0a2,#189fa9,#199caa)"></div><div style="top:137.69px;height:2.60px;background:linear-gradient(90deg,#faa026,#faa327,#faa627,#faa92c,#f9ac33,#f9af3c,#f8b344,#f5b647,#efb944,#e9bd42,#e2bf3e,#d8bf38,#cfc032,#c5bf2e,#bcbd2e,#b3ba2e,#aab830,#a2b635,#9bb539,#95b33b,#90b23d,#8bb13f,#84af40,#78ad40,#6bab40,#5fa940,#55a73e,#4ca53a,#43a436,#3aa233,#37a23c,#36a149,#34a156,#33a162,#32a06e,#31a079,#2ea083,#29a08b,#25a093,#20a09b,#1ba0a3,#189fa9,#199baa)"></div><div style="top:139.68px;height:2.60px;background:linear-gradient(90deg,#faa226,#faa527,#faa829,#f9ab30,#f9ae38,#f8b140,#f7b448,#f2b746,#ecbb43,#e6be41,#debf3c,#d5c036,#cbc030,#c2be2e,#b9bc2e,#afb92e,#a7b732,#9fb636,#98b43a,#93b33c,#8eb13e,#89b03f,#7fae40,#73ac40,#67aa40,#5aa840,#51a63c,#49a539,#40a335,#38a233,#37a241,#35a14e,#34a15a,#33a166,#32a071,#30a07c,#2da085,#29a08c,#24a094,#1fa09c,#1aa0a4,#189ea9,#199baa)"></div><div style="top:141.68px;height:2.60px;background:linear-gradient(90deg,#faa427,#faa728,#faaa2e,#f9ad35,#f9b03d,#f8b345,#f5b647,#efb944,#e9bc42,#e3bf3f,#dabf3a,#d1c034,#c7c02e,#bebd2e,#b5bb2e,#acb82f,#a4b734,#9cb538,#96b33b,#91b23d,#8cb13e,#87b040,#7aae40,#6eab40,#62a940,#57a73f,#4ea63b,#45a437,#3da334,#37a238,#36a245,#35a152,#34a15e,#32a169,#31a074,#30a07f,#2ca087,#28a08e,#23a095,#1fa09d,#1aa0a5,#199ea9,#1a9baa)"></div><div style="top:143.67px;height:2.60px;background:linear-gradient(90deg,#faa628,#faa92b,#f9ac33,#f9af3a,#f8b242,#f7b548,#f2b745,#ecba43,#e7be41,#dfbf3d,#d6bf37,#cdc031,#c4bf2e,#bbbc2e,#b1ba2e,#a9b831,#a1b635,#99b439,#94b33c,#8fb23d,#8ab13f,#81af40,#75ad40,#69ab40,#5da840,#53a73d,#4ba53a,#42a436,#3aa233,#37a23d,#36a149,#34a156,#33a162,#32a06d,#31a077,#2fa081,#2ba088,#27a08f,#22a097,#1ea09e,#19a0a6,#199ea9,#1a9bab)"></div><div style="top:145.67px;height:2.60px;background:linear-gradient(90deg,#faa829,#f9ab31,#f9ae38,#f9b13f,#f8b347,#f4b646,#efb944,#e9bc42,#e4bf40,#dbbf3a,#d2c035,#c9c02e,#c0be2e,#b7bb2e,#aeb92f,#a6b733,#9eb537,#97b43b,#91b23c,#8db13e,#88b040,#7cae40,#70ac40,#64aa40,#58a83f,#50a63c,#47a538,#3fa335,#38a234,#36a241,#35a14e,#34a15a,#33a165,#32a070,#31a07a,#2ea083,#2aa08a,#26a091,#22a098,#1da09f,#19a0a7,#199da9,#1a9aab)"></div><div style="top:147.66px;height:2.60px;background:linear-gradient(90deg,#faaa2e,#f9ad36,#f9b03d,#f8b244,#f6b547,#f1b845,#ecbb43,#e7be41,#e0bf3d,#d7bf38,#cec032,#c5bf2e,#bcbd2e,#b3ba2e,#aab830,#a2b635,#9ab439,#94b33b,#8fb23d,#8bb13f,#83af40,#77ad40,#6aab40,#5fa940,#55a73e,#4ca63a,#44a437,#3ca334,#37a239,#36a146,#35a152,#33a15e,#32a169,#31a074,#30a07e,#2da085,#29a08c,#25a092,#21a099,#1da0a0,#18a0a8,#199da9,#1a9aab)"></div><div style="top:149.66px;height:2.60px;background:linear-gradient(90deg,#f9ac33,#f9af3b,#f8b242,#f7b448,#f3b746,#eeb944,#e9bc42,#e4bf40,#dcbf3b,#d3c035,#cac02f,#c1be2e,#b8bc2e,#afb92e,#a7b732,#9fb536,#97b43a,#92b33c,#8db13e,#89b040,#7dae40,#71ac40,#65aa40,#5aa840,#51a63c,#49a539,#41a436,#38a232,#37a23e,#35a14b,#34a157,#33a162,#32a06d,#31a077,#30a080,#2ca087,#28a08d,#24a094,#20a09b,#1ca0a2,#18a0a8,#199daa,#1a9aab)"></div><div style="top:151.65px;height:2.60px;background:linear-gradient(90deg,#f9ae39,#f9b140,#f8b447,#f4b647,#f0b945,#ebbb43,#e6be41,#dfbf3d,#d7bf38,#cfc032,#c6bf2e,#bebd2e,#b5bb2e,#acb830,#a4b734,#9cb538,#95b33b,#90b23d,#8bb13f,#84af40,#78ad40,#6cab40,#60a940,#56a73e,#4ea63b,#45a437,#3da334,#38a237,#36a243,#35a14f,#34a15b,#33a166,#32a071,#31a07a,#2ea083,#2ba089,#27a08f,#23a096,#1fa09c,#1ba0a3,#189fa8,#199caa,#1a99ab)"></div><div style="top:153.65px;height:2.60px;background:linear-gradient(90deg,#f9b03e,#f8b345,#f6b547,#f1b845,#edba43,#e8bd42,#e3bf3f,#dbbf3a,#d3c035,#cbc030,#c2be2e,#babc2e,#b1ba2e,#a8b831,#a0b636,#98b43a,#93b33c,#8eb13e,#89b040,#7fae40,#72ac40,#66aa40,#5ba840,#52a73d,#4aa539,#42a436,#3aa233,#37a23c,#36a148,#35a154,#33a15f,#32a16a,#31a074,#30a07e,#2da085,#29a08b,#26a091,#22a097,#1ea09e,#1aa0a4,#189fa9,#199caa,#1a99ab)"></div><div style="top:155.65px;height:2.60px;background:linear-gradient(90deg,#f8b243,#f7b547,#f2b746,#eeb944,#eabc42,#e5be40,#debf3c,#d7bf38,#cfc032,#c7c02e,#bebd2e,#b6bb2e,#adb92f,#a5b733,#9db538,#96b33b,#91b23d,#8cb13f,#86b040,#79ad40,#6dab40,#61a940,#57a73f,#4ea63b,#46a538,#3ea335,#38a235,#36a241,#35a14d,#34a159,#33a164,#32a06e,#31a078,#2fa081,#2ca087,#28a08d,#25a093,#21a099,#1da09f,#19a0a6,#189ea9,#199caa,#1a99ac)"></div><div style="top:157.64px;height:2.60px;background:linear-gradient(90deg,#f8b448,#f4b646,#efb945,#ebbb43,#e7be41,#e1bf3e,#dabf3a,#d3c035,#cbc030,#c3bf2e,#bbbc2e,#b2ba2e,#aab831,#a1b635,#99b439,#94b33c,#8fb23e,#8ab03f,#80af40,#73ac40,#67aa40,#5ca840,#53a73d,#4ba53a,#43a436,#3ba233,#37a23a,#36a146,#35a152,#34a15d,#32a168,#31a072,#30a07c,#2ea083,#2aa089,#27a08f,#23a095,#20a09b,#1ca0a1,#19a0a7,#199ea9,#199baa,#1a98ac)"></div><div style="top:159.64px;height:2.60px;background:linear-gradient(90deg,#f5b647,#f1b845,#ecba43,#e8bd42,#e3bf40,#ddbf3b,#d6c037,#cec032,#c7c02e,#bfbd2e,#b7bb2e,#aeb92e,#a6b733,#9eb537,#97b43a,#91b23c,#8cb13e,#87b040,#7aae40,#6eab40,#62a940,#57a83f,#4fa63b,#47a538,#3fa335,#38a233,#37a240,#35a14c,#34a157,#33a162,#32a06d,#31a076,#30a080,#2da086,#29a08c,#26a091,#22a097,#1fa09c,#1ba0a2,#18a0a8,#199da9,#1a9bab,#1a98ac)"></div><div style="top:161.63px;height:2.60px;background:linear-gradient(90deg,#f2b746,#edba44,#e9bc42,#e5bf40,#dfbf3d,#d9bf39,#d2c034,#cac02f,#c3bf2e,#bbbc2e,#b3ba2e,#abb830,#a3b634,#9bb539,#94b33b,#8fb23d,#8ab13f,#81af40,#74ad40,#68aa40,#5ca840,#53a73d,#4ba53a,#43a437,#3ba333,#37a239,#36a245,#35a151,#34a15c,#33a167,#32a071,#31a07b,#2fa082,#2ba088,#28a08e,#24a093,#21a099,#1ea09e,#1aa0a4,#189fa8,#199da9,#1a9aab,#1b97ac)"></div><div style="top:163.63px;height:2.60px;background:linear-gradient(90deg,#efb944,#eabb43,#e6be41,#e1bf3e,#dbbf3a,#d4c036,#cdc032,#c6bf2e,#bfbd2e,#b7bb2e,#afb92e,#a7b732,#9fb636,#98b43a,#92b33c,#8db13e,#88b040,#7bae40,#6fac40,#63a940,#58a83f,#4fa63c,#47a538,#3fa335,#38a233,#37a23f,#35a14b,#34a156,#33a161,#32a16c,#31a075,#30a07f,#2da085,#29a08b,#26a090,#23a096,#20a09b,#1da0a0,#19a0a6,#189fa9,#199caa,#1a9aab,#1b97ac)"></div><div style="top:165.62px;height:2.60px;background:linear-gradient(90deg,#ecbb43,#e7bd41,#e3bf3f,#ddbf3b,#d7bf37,#d0c033,#c9c02f,#c2be2e,#bbbc2e,#b4ba2e,#acb830,#a4b734,#9cb538,#95b33b,#90b23d,#8bb13f,#83af40,#76ad40,#69ab40,#5da840,#53a73d,#4ba53a,#43a437,#3ba333,#37a239,#36a245,#35a150,#34a15b,#33a166,#32a070,#31a07a,#2fa082,#2ba088,#28a08e,#25a093,#22a098,#1ea09d,#1ba0a3,#18a0a8,#199ea9,#199caa,#1a99ab,#1b96ad)"></div><div style="top:167.62px;height:2.60px;background:linear-gradient(90deg,#e9bc42,#e4bf40,#debf3c,#d8bf39,#d2c035,#ccc031,#c5bf2e,#bfbd2e,#b8bb2e,#b0b92e,#a8b832,#a0b636,#99b43a,#93b33c,#8eb13e,#89b040,#7dae40,#70ac40,#63aa40,#58a83f,#4fa63c,#47a538,#3fa335,#38a233,#37a23f,#35a14b,#34a156,#33a161,#32a16b,#31a075,#30a07e,#2da085,#2aa08b,#26a090,#23a095,#20a09b,#1da0a0,#1aa0a5,#189fa8,#199da9,#199baa,#1a98ac,#1b96ad)"></div><div style="top:169.61px;height:2.60px;background:linear-gradient(90deg,#e6be41,#e0bf3e,#dabf3a,#d4c036,#cec032,#c8c02e,#c2be2e,#bbbc2e,#b4ba2e,#acb82f,#a5b733,#9db537,#96b43b,#91b23d,#8cb13f,#84af40,#77ad40,#6aab40,#5da940,#54a73d,#4ba53a,#43a437,#3ba333,#37a239,#36a245,#35a150,#34a15b,#33a166,#32a070,#31a07a,#2fa082,#2ba088,#28a08e,#25a093,#22a098,#1fa09d,#1ca0a2,#18a0a7,#189ea9,#199caa,#1a9aab,#1a98ac,#1b95ad)"></div><div style="top:171.61px;height:2.60px;background:linear-gradient(90deg,#e3bf3f,#dcbf3b,#d6c037,#d0c033,#cac02f,#c4bf2e,#bebd2e,#b7bb2e,#b0b92e,#a9b831,#a2b635,#9ab439,#94b33c,#8fb23d,#8ab03f,#7eae40,#71ac40,#64aa40,#58a83f,#4fa63c,#47a538,#3fa335,#38a233,#37a23f,#35a14b,#34a156,#33a161,#32a16b,#31a075,#30a07e,#2da085,#29a08b,#26a090,#23a096,#20a09b,#1da0a0,#1aa0a5,#189fa8,#199ea9,#199caa,#1a99ab,#1b97ac,#1c94ae)"></div><div style="top:173.60px;height:2.60px;background:linear-gradient(90deg,#dfbf3d,#d8bf38,#d2c034,#ccc031,#c6bf2e,#c1be2e,#babc2e,#b4ba2e,#adb92f,#a6b733,#9eb537,#97b43a,#92b23c,#8db13e,#86b040,#78ad40,#6bab40,#5ea940,#54a73d,#4ba53a,#43a436,#3ba233,#37a23a,#36a146,#35a151,#34a15c,#33a166,#32a070,#31a07a,#2fa082,#2ba088,#28a08e,#24a093,#21a099,#1ea09e,#1ba0a3,#18a0a7,#189ea9,#199daa,#1a9bab,#1a98ac,#1b96ad,#1c93ae)"></div><div style="top:175.60px;height:2.60px;background:linear-gradient(90deg,#dbbf3a,#d4c036,#cec032,#c8c02e,#c3be2e,#bdbd2e,#b7bb2e,#b0b92e,#aab831,#a3b634,#9bb538,#95b33b,#90b23d,#8ab13f,#80af40,#72ac40,#65aa40,#59a83f,#4fa63c,#47a538,#3ea335,#38a234,#37a240,#35a14c,#34a157,#33a162,#32a16c,#31a076,#30a07f,#2da086,#29a08c,#26a091,#23a096,#1fa09c,#1ca0a1,#1aa0a5,#189fa8,#199da9,#199caa,#1a9aab,#1b97ac,#1b95ad,#1c92af)"></div><div style="top:177.60px;height:2.60px;background:linear-gradient(90deg,#d7bf37,#d0c033,#cac02f,#c4bf2e,#bfbe2e,#babc2e,#b4ba2e,#adb92f,#a6b732,#9fb636,#98b43a,#93b33c,#8eb13e,#88b040,#7aae40,#6dab40,#5fa940,#54a73e,#4ba53a,#42a436,#3aa233,#37a23b,#36a147,#35a152,#34a15d,#33a167,#32a071,#31a07b,#2ea083,#2ba089,#27a08f,#24a094,#21a09a,#1ea09f,#1ba0a3,#18a0a8,#199ea9,#199caa,#1a9bab,#1a99ac,#1b96ad,#1c94ae,#1c91af)"></div><div style="top:179.59px;height:2.60px;background:linear-gradient(90deg,#d3c035,#ccc031,#c6bf2e,#c1be2e,#bcbd2e,#b6bb2e,#b0b92e,#aab831,#a3b634,#9cb538,#96b33b,#91b23d,#8bb13f,#83af40,#74ad40,#67aa40,#59a840,#50a63c,#47a538,#3ea334,#38a235,#36a242,#35a14d,#34a158,#33a163,#32a06d,#31a077,#30a080,#2ca087,#28a08d,#25a092,#22a098,#1fa09d,#1ca0a2,#19a0a7,#189fa9,#199da9,#199baa,#1a99ab,#1b97ac,#1b95ad,#1c93ae,#1d90b0)"></div><div style="top:181.59px;height:2.60px;background:linear-gradient(90deg,#cfc033,#c8c02e,#c3bf2e,#bebd2e,#b9bc2e,#b3ba2e,#adb92f,#a7b732,#a0b636,#99b439,#94b33c,#8fb23e,#89b040,#7dae40,#6eac40,#61a940,#55a73e,#4ba53a,#42a436,#3aa233,#37a23c,#36a148,#35a154,#33a15f,#32a169,#31a073,#30a07c,#2ea084,#2aa08a,#26a090,#23a096,#20a09b,#1da0a0,#1aa0a5,#189fa8,#199ea9,#199caa,#1a9aab,#1a98ac,#1b96ad,#1c94ae,#1c92af,#1d8fb0)"></div><div style="top:183.58px;height:2.60px;background:linear-gradient(90deg,#ccc030,#c5bf2e,#c0be2e,#bbbc2e,#b5bb2e,#b0b92e,#aab831,#a4b734,#9db537,#97b43a,#92b23c,#8cb13e,#86b040,#77ad40,#69ab40,#5ba840,#50a63c,#47a538,#3ea334,#38a236,#36a243,#35a14f,#34a15a,#33a165,#32a06f,#31a079,#2fa081,#2ba088,#28a08e,#24a093,#21a099,#1ea09e,#1ba0a3,#18a0a8,#199ea9,#199daa,#1a9baa,#1a99ab,#1b97ac,#1b95ad,#1c93ae,#1d91af,#1d8eb1)"></div><div style="top:185.58px;height:2.60px;background:linear-gradient(90deg,#c8c02e,#c2be2e,#bdbd2e,#b8bb2e,#b2ba2e,#adb92f,#a7b732,#a1b635,#9bb539,#95b33b,#90b23d,#8ab13f,#80af40,#71ac40,#63a940,#56a73e,#4ca63a,#42a436,#39a233,#37a23d,#36a14a,#34a156,#33a161,#32a16b,#31a075,#30a07e,#2da085,#29a08b,#26a091,#22a097,#1fa09c,#1ca0a2,#19a0a7,#189fa9,#199da9,#199baa,#1a9aab,#1a98ac,#1b96ad,#1c94ae,#1c92af,#1d8fb0,#1e8db1)"></div><div style="top:187.57px;height:2.60px;background:linear-gradient(90deg,#c6bf2e,#c0be2e,#babc2e,#b5bb2e,#afb92e,#aab831,#a5b733,#9eb537,#98b43a,#93b33c,#8eb13e,#88b040,#7aae40,#6bab40,#5da840,#52a73d,#48a538,#3ea335,#38a237,#36a244,#35a151,#34a15c,#33a167,#32a071,#31a07b,#2ea083,#2ba089,#27a08f,#23a095,#20a09b,#1da0a0,#1aa0a5,#189fa8,#199ea9,#199caa,#1a9aab,#1a99ac,#1b97ac,#1b95ad,#1c93ae,#1d91af,#1d8eb1,#1e8cb2)"></div><div style="top:189.57px;height:2.60px;background:linear-gradient(90deg,#c3bf2e,#bdbd2e,#b8bb2e,#b2ba2e,#adb92f,#a8b732,#a2b635,#9cb538,#96b33b,#91b23d,#8cb13f,#83af40,#74ad40,#65aa40,#58a83f,#4da63b,#43a437,#3aa233,#37a23e,#35a14b,#34a158,#33a163,#32a06d,#31a077,#30a081,#2ca087,#28a08d,#25a093,#21a099,#1ea09e,#1ba0a3,#18a0a8,#199ea9,#199caa,#1a9bab,#1a99ab,#1b97ac,#1b96ad,#1c94ae,#1c92af,#1d8fb0,#1e8db1,#1e8ab2)"></div><div style="top:191.56px;height:2.60px;background:linear-gradient(90deg,#c1be2e,#bbbc2e,#b5bb2e,#afb92e,#aab830,#a5b733,#9fb636,#99b439,#94b33c,#8fb23d,#8ab03f,#7eae40,#6fac40,#60a940,#53a73d,#49a539,#3fa335,#38a236,#36a245,#35a152,#33a15e,#32a169,#31a074,#30a07d,#2da085,#2aa08b,#26a091,#22a097,#1fa09c,#1ca0a2,#19a0a7,#189fa9,#199da9,#199baa,#1a9aab,#1a98ac,#1b96ad,#1b94ae,#1c92af,#1d90b0,#1d8eb1,#1e8cb2,#1f89b3)"></div><div style="top:193.56px;height:2.60px;background:linear-gradient(90deg,#bebd2e,#b8bc2e,#b2ba2e,#adb92f,#a8b732,#a2b635,#9db538,#97b43a,#92b33c,#8db13e,#87b040,#78ad40,#69ab40,#5aa840,#4fa63c,#45a437,#3ba333,#37a23d,#35a14b,#34a159,#33a165,#32a070,#31a07a,#2fa082,#2ba089,#27a08f,#24a095,#20a09a,#1da0a0,#1aa0a5,#189fa8,#199da9,#199caa,#1a9aab,#1a98ac,#1b97ac,#1b95ad,#1c93ae,#1c91af,#1d8fb0,#1e8db1,#1e8ab2,#1f88b4)"></div><div style="top:195.55px;height:2.60px;background:linear-gradient(90deg,#bcbd2e,#b6bb2e,#b0b92e,#abb830,#a6b733,#a0b636,#9ab439,#95b33b,#90b23d,#8bb13f,#82af40,#73ac40,#63aa40,#56a73e,#4ba53a,#41a436,#38a234,#36a243,#35a152,#33a15f,#32a16b,#31a076,#30a080,#2ca086,#29a08c,#25a092,#21a098,#1ea09e,#1ba0a3,#18a0a8,#199ea9,#199caa,#1a9aab,#1a99ab,#1b97ac,#1b95ad,#1c94ae,#1c92af,#1d90b0,#1d8eb1,#1e8cb2,#1f89b3,#2087b4)"></div><div style="top:197.55px;height:2.60px;background:linear-gradient(90deg,#b9bc2e,#b3ba2e,#aeb92f,#a8b831,#a3b634,#9eb537,#98b43a,#93b33c,#8eb23e,#89b040,#7dae40,#6dab40,#5ea940,#52a73d,#47a538,#3da334,#37a23a,#36a14a,#34a158,#33a165,#32a071,#30a07c,#2ea084,#2aa08a,#26a090,#23a096,#1fa09c,#1ca0a1,#19a0a7,#189fa9,#199daa,#199baa,#1a99ab,#1a98ac,#1b96ad,#1b94ae,#1c92af,#1d91af,#1d8fb0,#1e8db1,#1e8ab2,#1f88b4,#2085b5)"></div><div style="top:199.55px;height:2.60px;background:linear-gradient(90deg,#b7bb2e,#b1ba2e,#acb830,#a6b733,#a1b635,#9bb538,#96b43b,#91b23c,#8db13e,#87b040,#77ad40,#68aa40,#59a840,#4ea63b,#44a437,#39a233,#37a240,#35a150,#33a15e,#32a16b,#31a077,#30a081,#2ca087,#28a08e,#24a094,#21a09a,#1da09f,#1aa0a5,#189fa8,#199da9,#199baa,#1a9aab,#1a98ac,#1b96ad,#1b95ad,#1c93ae,#1c91af,#1d8fb0,#1e8db1,#1e8bb2,#1f89b3,#2087b4,#2085b5)"></div><div style="top:201.54px;height:2.60px;background:linear-gradient(90deg,#b5bb2e,#afb92e,#a9b831,#a4b734,#9fb537,#99b43a,#94b33b,#90b23d,#8bb13f,#81af40,#72ac40,#63aa40,#55a73e,#4ba53a,#40a335,#38a236,#36a146,#34a156,#33a164,#32a071,#30a07c,#2da084,#29a08b,#26a091,#22a097,#1ea09d,#1ba0a3,#18a0a8,#199ea9,#199caa,#1a9aab,#1a99ac,#1b97ac,#1b95ad,#1c93ae,#1c92af,#1d90b0,#1d8eb1,#1e8cb2,#1f8ab3,#1f88b4,#2085b5,#2084b6)"></div><div style="top:203.54px;height:2.60px;background:linear-gradient(90deg,#b3ba2e,#adb82f,#a7b732,#a2b635,#9cb538,#97b43a,#93b33c,#8eb13e,#89b040,#7cae40,#6dab40,#5ea940,#52a73d,#47a538,#3da334,#37a23b,#35a14c,#34a15b,#32a169,#31a076,#30a081,#2ba088,#27a08f,#23a095,#20a09b,#1ca0a1,#19a0a6,#189fa9,#199daa,#1a9baa,#1a99ab,#1b97ac,#1b96ad,#1c94ae,#1c92af,#1d90af,#1d8fb0,#1e8db1,#1e8bb2,#1f89b3,#2086b4,#2085b5,#2084b6)"></div><div style="top:205.53px;height:2.60px;background:linear-gradient(90deg,#b0b92e,#abb830,#a5b733,#a0b636,#9ab439,#95b33b,#91b23d,#8cb13e,#86b040,#78ad40,#69ab40,#5aa840,#4fa63b,#44a437,#39a233,#37a241,#35a151,#33a160,#32a06e,#31a07b,#2da084,#29a08b,#25a092,#21a098,#1ea09e,#1aa0a4,#189fa8,#199ea9,#199caa,#1a9aab,#1a98ac,#1b96ad,#1b94ae,#1c93ae,#1c91af,#1d8fb0,#1e8db1,#1e8bb2,#1f89b3,#1f87b4,#2085b5,#2084b6,#2083b6)"></div><div style="top:207.53px;height:2.60px;background:linear-gradient(90deg,#aeb92e,#a8b831,#a3b634,#9db537,#98b43a,#94b33c,#8fb23d,#8bb13f,#81af40,#73ac40,#64aa40,#56a73e,#4ba53a,#41a436,#38a235,#36a146,#34a156,#33a165,#31a073,#30a07f,#2ca087,#27a08f,#23a095,#1fa09c,#1ca0a1,#18a0a7,#199ea9,#199caa,#1a9aab,#1a99ac,#1b97ac,#1b95ad,#1c93ae,#1c91af,#1d90b0,#1d8eb1,#1e8cb2,#1e8ab2,#1f88b3,#2086b4,#2085b5,#2084b6,#2083b6)"></div><div style="top:209.52px;height:2.60px;background:linear-gradient(90deg,#acb830,#a6b733,#a1b635,#9bb538,#96b43b,#92b23c,#8eb13e,#89b040,#7dae40,#6eac40,#60a940,#53a73d,#48a539,#3ea334,#37a23a,#36a14a,#34a15a,#32a169,#31a077,#2ea083,#2aa08a,#25a092,#21a098,#1ea09f,#1aa0a5,#189fa8,#199da9,#199baa,#1a99ab,#1b97ac,#1b96ad,#1c94ae,#1c92af,#1d90b0,#1d8fb0,#1e8db1,#1e8bb2,#1f89b3,#1f87b4,#2085b5,#2084b6,#2083b6,#2182b7)"></div><div style="top:211.52px;height:2.60px;background:linear-gradient(90deg,#aab831,#a4b734,#9eb537,#99b43a,#95b33b,#90b23d,#8cb13f,#86b040,#78ad40,#6aab40,#5ba840,#50a63c,#45a437,#3ba233,#37a23e,#35a14f,#33a15e,#32a06d,#30a07b,#2da085,#28a08d,#24a095,#20a09b,#1ca0a2,#18a0a8,#199ea9,#199caa,#1a9aab,#1a98ac,#1b96ad,#1b94ae,#1c93ae,#1c91af,#1d8fb0,#1e8db1,#1e8bb2,#1f8ab3,#1f88b4,#2086b5,#2084b5,#2084b6,#2083b6,#2182b7)"></div><div style="top:213.51px;height:2.60px;background:linear-gradient(90deg,#a8b732,#a2b635,#9cb538,#97b43a,#93b33c,#8fb23d,#8ab13f,#81af40,#74ac40,#66aa40,#58a83f,#4da63b,#42a436,#38a232,#36a243,#35a153,#33a162,#32a071,#30a07f,#2ba088,#26a090,#22a098,#1ea09e,#1aa0a5,#189fa8,#199da9,#199baa,#1a99ab,#1b97ac,#1b95ad,#1c93ae,#1c91af,#1d90b0,#1d8eb1,#1e8cb2,#1e8ab2,#1f88b3,#2086b4,#2085b5,#2084b6,#2083b6,#2182b7,#2181b7)"></div><div style="top:215.51px;height:2.60px;background:linear-gradient(90deg,#a6b733,#a0b636,#9ab439,#95b33b,#91b23d,#8db13e,#89b040,#7dae40,#6fac40,#61a940,#55a73e,#4aa539,#3fa335,#38a237,#36a147,#34a157,#33a166,#31a075,#2fa082,#2aa08b,#25a093,#20a09a,#1ca0a1,#18a0a8,#199ea9,#199caa,#1a9aab,#1a98ac,#1b96ad,#1c94ae,#1c92af,#1d90b0,#1d8eb0,#1e8db1,#1e8bb2,#1f89b3,#1f87b4,#2085b5,#2084b5,#2083b6,#2083b6,#2182b7,#2181b8)"></div><div style="top:217.50px;height:2.60px;background:linear-gradient(90deg,#a4b734,#9eb537,#98b43a,#94b33c,#90b23d,#8bb13f,#85b040,#78ad40,#6bab40,#5da940,#52a73d,#47a538,#3da334,#37a23b,#35a14b,#34a15b,#32a16a,#31a079,#2da085,#28a08d,#23a096,#1fa09d,#1aa0a4,#189fa8,#199da9,#1a9baa,#1a99ab,#1b97ac,#1b95ad,#1c93ae,#1c91af,#1d8fb0,#1e8db1,#1e8bb2,#1f8ab3,#1f88b4,#2086b5,#2085b5,#2084b6,#2083b6,#2182b7,#2181b7,#2180b8)"></div></div><div class="hm" style="left:265.60px;top:249.0px;width:168.20px;height:219.50px"><div style="top:0.00px;height:2.60px;background:linear-gradient(90deg,#59a840,#68aa40,#7eae40,#8db13e,#95b33b,#9fb636,#abb830,#b7bb2e,#c4bf2e,#e5bf40,#f2b746,#f6b547,#f8b344,#f9b03e,#f9ae37,#f9ab31,#faa92b,#faa627,#faa226,#fa9f25,#fa9c24,#f99824,#f99523,#f99222,#f98f21,#f98c20,#f78622,#f68025,#f47927,#ef622f,#e34443,#df3c4b,#dd3e51,#da3f58,#d9405c,#d74162,#d6436b,#d44574,#d2477d,#d14983,#d04a89,#ce4c8e,#cc4d93)"></div><div style="top:2.00px;height:2.60px;background:linear-gradient(90deg,#58a83f,#67aa40,#7dae40,#8cb13f,#94b33b,#9eb537,#aab831,#b6bb2e,#c3bf2e,#e3bf3f,#f2b746,#f6b547,#f8b345,#f9b13f,#f9ae38,#f9ac32,#faa92c,#faa628,#faa327,#faa026,#fa9c25,#f99924,#f99623,#f99322,#f99021,#f98d20,#f88722,#f68124,#f57b26,#f0682d,#e44741,#e03c49,#dd3d50,#db3f57,#d93f5b,#d8405f,#d64369,#d44572,#d3477b,#d14882,#d04a87,#ce4b8d,#cd4c91)"></div><div style="top:3.99px;height:2.60px;background:linear-gradient(90deg,#58a83f,#66aa40,#7bae40,#8cb13f,#94b33c,#9eb537,#a9b831,#b6bb2e,#c2be2e,#e1bf3e,#f2b746,#f6b547,#f8b345,#f9b13f,#f9ae39,#f9ac32,#faaa2c,#faa728,#faa427,#faa026,#fa9d25,#f99a24,#f99723,#f99422,#f99121,#f98e20,#f88921,#f78323,#f57c26,#f16e2b,#e74e3c,#e03c48,#de3d4f,#db3e55,#d93f5a,#d8405e,#d64267,#d54470,#d34678,#d24880,#d04986,#cf4b8b,#ce4c8f)"></div><div style="top:5.99px;height:2.60px;background:linear-gradient(90deg,#57a83f,#65aa40,#7aae40,#8bb13f,#93b33c,#9db537,#a9b831,#b5bb2e,#c2be2e,#dfbf3d,#f2b845,#f5b547,#f8b346,#f8b140,#f9af3a,#f9ac33,#faaa2d,#faa828,#faa427,#faa126,#fa9e25,#fa9b24,#f99823,#f99522,#f99222,#f98e21,#f98a21,#f78423,#f57e25,#f37429,#ea5537,#e13f46,#de3d4d,#dc3e54,#da3f5a,#d8405d,#d74264,#d5446d,#d34676,#d2487e,#d14983,#d04a89,#ce4b8d)"></div><div style="top:7.98px;height:2.60px;background:linear-gradient(90deg,#57a73f,#64aa40,#7aae40,#8bb13f,#93b33c,#9cb538,#a8b832,#b4ba2e,#c1be2e,#dcbf3b,#f1b845,#f5b647,#f8b347,#f8b141,#f9af3b,#f9ad34,#faaa2e,#faa829,#faa527,#faa226,#fa9f25,#fa9c24,#f99824,#f99523,#f99222,#f98f21,#f98c20,#f78622,#f67f25,#f47827,#ec5c33,#e24145,#df3d4c,#dc3e53,#da3f59,#d9405c,#d74162,#d6436b,#d44573,#d2477b,#d14881,#d04a87,#cf4b8b)"></div><div style="top:9.98px;height:2.60px;background:linear-gradient(90deg,#57a73f,#64aa40,#79ad40,#8bb13f,#93b33c,#9cb538,#a8b732,#b4ba2e,#c0be2e,#dabf3a,#f1b845,#f5b647,#f8b447,#f8b242,#f9af3b,#f9ad35,#faab30,#faa92a,#faa627,#faa326,#fa9f26,#fa9c25,#f99924,#f99623,#f99322,#f99021,#f98d20,#f88722,#f68024,#f47a27,#ef622f,#e34343,#df3c4b,#dd3e51,#da3f58,#d9405b,#d84060,#d64268,#d44471,#d34679,#d2487f,#d14984,#d04a89)"></div><div style="top:11.97px;height:2.60px;background:linear-gradient(90deg,#57a73f,#63aa40,#79ad40,#8ab13f,#92b33c,#9bb538,#a7b732,#b3ba2e,#bfbe2e,#d8bf38,#f1b845,#f4b647,#f8b448,#f8b242,#f9b03c,#f9ad36,#f9ab31,#faa92b,#faa728,#faa327,#faa026,#fa9d25,#fa9a24,#f99723,#f99422,#f99121,#f98e20,#f88921,#f68224,#f57b26,#f0682d,#e44641,#e03c49,#dd3d50,#db3f56,#d93f5b,#d8405e,#d74266,#d5446e,#d44676,#d2477d,#d14982,#d04a87)"></div><div style="top:13.97px;height:2.60px;background:linear-gradient(90deg,#57a73f,#63aa40,#78ad40,#8ab13f,#92b23c,#9bb539,#a6b733,#b2ba2e,#bebd2e,#d5c036,#efb944,#f4b646,#f8b448,#f8b243,#f9b03e,#f9ae38,#f9ac32,#faaa2c,#faa728,#faa427,#faa126,#fa9e25,#fa9b24,#f99823,#f99523,#f99222,#f98e21,#f98a21,#f78323,#f57c26,#f16d2b,#e74d3d,#e03d48,#de3d4e,#db3e55,#da3f5a,#d8405d,#d74163,#d6436b,#d44573,#d3477a,#d2487f,#d14984)"></div><div style="top:15.96px;height:2.60px;background:linear-gradient(90deg,#56a73e,#62a940,#77ad40,#8ab03f,#92b23c,#9ab439,#a6b733,#b1ba2e,#bdbd2e,#d2c034,#edba44,#f4b646,#f7b548,#f8b344,#f9b03f,#f9ae39,#f9ac33,#faaa2e,#faa829,#faa527,#faa226,#fa9f25,#fa9c25,#f99924,#f99623,#f99322,#f98f21,#f98c20,#f78523,#f57e25,#f37329,#ea5538,#e13f46,#de3d4d,#dc3e53,#da3f59,#d9405c,#d84160,#d64268,#d54470,#d34676,#d2477d,#d14982)"></div><div style="top:17.96px;height:2.60px;background:linear-gradient(90deg,#56a73e,#62a940,#77ad40,#89b03f,#91b23d,#99b439,#a5b733,#b0b92e,#bcbd2e,#cfc032,#eabc43,#f3b746,#f7b547,#f8b345,#f9b140,#f9af3a,#f9ad34,#faab2f,#faa92a,#faa627,#faa327,#faa026,#fa9d25,#f99a24,#f99723,#f99422,#f99021,#f98d20,#f88622,#f67f25,#f47827,#ed5c32,#e24244,#df3d4b,#dd3e51,#da3f57,#d93f5b,#d8405e,#d74265,#d5436c,#d44573,#d3477a,#d2487f)"></div><div style="top:19.95px;height:2.60px;background:linear-gradient(90deg,#56a73e,#61a940,#76ad40,#89b040,#91b23d,#99b43a,#a4b734,#afb92e,#bbbc2e,#cbc030,#e8bd41,#f3b746,#f6b547,#f8b346,#f8b141,#f9af3b,#f9ad36,#f9ab31,#faa92c,#faa728,#faa427,#faa126,#fa9e25,#fa9b24,#f99823,#f99522,#f99121,#f98e20,#f88821,#f68124,#f47a27,#ef642f,#e34542,#df3c4a,#dd3d50,#db3e56,#d93f5a,#d8405d,#d74162,#d64369,#d54470,#d34676,#d2477c)"></div><div style="top:21.95px;height:2.60px;background:linear-gradient(90deg,#55a73e,#60a940,#75ad40,#89b040,#90b23d,#98b43a,#a3b634,#aeb92f,#babc2e,#c7c02e,#e5bf40,#f2b746,#f5b547,#f8b447,#f8b242,#f9b03d,#f9ae37,#f9ac32,#faaa2d,#faa828,#faa527,#faa226,#fa9f25,#fa9c25,#f99924,#f99623,#f99222,#f98f21,#f88a21,#f78323,#f57c26,#f16a2c,#e64b3e,#e03c48,#de3d4e,#dc3e54,#da3f59,#d9405c,#d8405f,#d64266,#d5436d,#d44573,#d34679)"></div><div style="top:23.95px;height:2.60px;background:linear-gradient(90deg,#55a73e,#5fa940,#73ac40,#88b040,#90b23d,#97b43a,#a2b635,#adb92f,#b8bc2e,#c4bf2e,#e1bf3e,#f1b845,#f5b647,#f8b448,#f8b243,#f9b03e,#f9ae39,#f9ac33,#faaa2f,#faa92a,#faa627,#faa327,#faa026,#fa9d25,#f99a24,#f99723,#f99322,#f99021,#f98c20,#f78523,#f57d25,#f2722a,#e95438,#e13f46,#de3d4c,#dc3e52,#da3f58,#d93f5b,#d8405d,#d74163,#d64369,#d5446f,#d34676)"></div><div style="top:25.94px;height:2.60px;background:linear-gradient(90deg,#55a73e,#5ea940,#72ac40,#87b040,#8fb23d,#96b43b,#a1b635,#acb830,#b7bb2e,#c2be2e,#dcbf3b,#f1b845,#f4b646,#f7b448,#f8b344,#f9b13f,#f9af3a,#f9ad35,#f9ab30,#faa92b,#faa728,#faa427,#faa126,#fa9e25,#fa9b24,#f99823,#f99422,#f99121,#f98d20,#f88722,#f67f25,#f47827,#ed5d32,#e34244,#df3c4a,#dd3d50,#db3e56,#da3f5a,#d9405c,#d8405f,#d74266,#d5436c,#d44572)"></div><div style="top:27.94px;height:2.60px;background:linear-gradient(90deg,#54a73e,#5da940,#70ac40,#85af40,#8eb23e,#96b33b,#9fb636,#aab831,#b5bb2e,#c0be2e,#d7bf38,#efb944,#f3b646,#f7b547,#f8b345,#f8b141,#f9af3c,#f9ad37,#f9ac32,#faaa2d,#faa829,#faa527,#faa226,#fa9f25,#fa9c25,#f99924,#f99523,#f99222,#f98e21,#f88921,#f68124,#f57a26,#ef652e,#e44641,#e03c48,#de3d4e,#dc3e53,#da3f59,#d93f5b,#d8405d,#d74162,#d64268,#d5446f)"></div><div style="top:29.93px;height:2.60px;background:linear-gradient(90deg,#53a73d,#5ca840,#6fac40,#83af40,#8eb13e,#95b33b,#9eb537,#a9b831,#b4ba2e,#bfbd2e,#d2c034,#ebbb43,#f3b746,#f6b547,#f8b346,#f8b242,#f9b03d,#f9ae38,#f9ac33,#faab2f,#faa92a,#faa628,#faa327,#faa026,#fa9d25,#f99a24,#f99723,#f99322,#f98f21,#f98b20,#f78423,#f57c26,#f16e2b,#e8503b,#e13f46,#df3d4c,#dd3e51,#db3f56,#da3f5a,#d9405c,#d8405f,#d74265,#d6436b)"></div><div style="top:31.93px;height:2.60px;background:linear-gradient(90deg,#53a73d,#5ba840,#6dab40,#81af40,#8db13e,#94b33b,#9db538,#a7b732,#b2ba2e,#bdbd2e,#cdc031,#e7bd41,#f2b746,#f5b647,#f8b448,#f8b243,#f9b03f,#f9af3a,#f9ad35,#f9ab30,#faaa2c,#faa828,#faa527,#faa226,#fa9e25,#fa9b24,#f99823,#f99422,#f99121,#f98d20,#f78622,#f67f25,#f47628,#ec5b33,#e24244,#df3c4a,#dd3d4f,#dc3e54,#da3f59,#d93f5b,#d8405d,#d74161,#d64267)"></div><div style="top:33.92px;height:2.60px;background:linear-gradient(90deg,#52a73d,#5aa840,#6bab40,#7fae40,#8cb13f,#93b33c,#9bb538,#a6b733,#b0b92e,#bbbc2e,#c7c02e,#e2bf3f,#f1b845,#f4b647,#f7b448,#f8b345,#f8b140,#f9af3b,#f9ae37,#f9ac32,#faaa2e,#faa929,#faa627,#faa327,#faa026,#fa9c25,#f99924,#f99523,#f99222,#f98e21,#f88821,#f68124,#f47a27,#ef652e,#e44741,#e03c48,#de3d4d,#dc3e52,#db3f56,#da3f5a,#d9405c,#d8405e,#d74163)"></div><div style="top:35.92px;height:2.60px;background:linear-gradient(90deg,#51a63c,#59a840,#69ab40,#7cae40,#8bb13f,#92b33c,#9ab439,#a4b734,#aeb92e,#b9bc2e,#c3bf2e,#dcbf3b,#f1b845,#f4b646,#f7b547,#f8b346,#f8b242,#f9b03d,#f9ae38,#f9ac34,#faab30,#faa92b,#faa728,#faa427,#faa126,#fa9e25,#fa9a24,#f99723,#f99322,#f98f21,#f98b20,#f78323,#f57c26,#f26e2b,#e95239,#e24045,#df3c4b,#dd3d50,#dc3e54,#da3f58,#d93f5a,#d9405d,#d84060)"></div><div style="top:37.91px;height:2.60px;background:linear-gradient(90deg,#51a63c,#58a83f,#66aa40,#7aae40,#8ab13f,#91b23d,#98b43a,#a2b635,#acb82f,#b7bb2e,#c1be2e,#d6bf37,#ecba43,#f3b746,#f6b547,#f8b447,#f8b243,#f9b13f,#f9af3a,#f9ad36,#f9ac31,#faaa2d,#faa829,#faa527,#faa226,#fa9f25,#fa9c24,#f99823,#f99422,#f99121,#f98d20,#f78622,#f67f25,#f47827,#ed5e31,#e34442,#e03c48,#de3d4d,#dd3e52,#db3e56,#da3f59,#d93f5b,#d8405d)"></div><div style="top:39.91px;height:2.60px;background:linear-gradient(90deg,#50a63c,#57a83f,#64aa40,#77ad40,#89b040,#90b23d,#97b43a,#a0b636,#aab830,#b4ba2e,#bfbd2e,#d0c033,#e8bd41,#f2b746,#f5b647,#f8b448,#f8b344,#f8b140,#f9af3c,#f9ae38,#f9ac33,#faab2f,#faa92b,#faa728,#faa427,#faa026,#fa9d25,#f99924,#f99623,#f99222,#f98e21,#f88921,#f68124,#f57b26,#f0692d,#e74e3c,#e14046,#df3c4b,#dd3d4f,#dc3e53,#db3f57,#da3f5a,#d9405c)"></div><div style="top:41.90px;height:2.60px;background:linear-gradient(90deg,#4fa63b,#56a73f,#61a940,#74ad40,#88b040,#8fb23d,#96b33b,#9eb537,#a8b832,#b2ba2e,#bcbd2e,#c9c02f,#e2bf3f,#f1b845,#f4b646,#f7b547,#f8b346,#f8b242,#f9b03e,#f9af39,#f9ad35,#f9ab31,#faaa2d,#faa828,#faa527,#faa226,#fa9e25,#fa9b24,#f99723,#f99322,#f99021,#f98b20,#f78423,#f57d25,#f37329,#ec5b33,#e34443,#e03c48,#de3d4c,#dd3e51,#db3e54,#da3f58,#d93f5a)"></div><div style="top:43.90px;height:2.60px;background:linear-gradient(90deg,#4ea63b,#55a73e,#5fa940,#71ac40,#85af40,#8eb13e,#94b33b,#9db538,#a6b733,#b0b92e,#babc2e,#c3bf2e,#dbbf3a,#efb944,#f3b746,#f6b547,#f8b447,#f8b244,#f9b140,#f9af3b,#f9ae37,#f9ac33,#faaa2f,#faa92a,#faa628,#faa327,#faa026,#fa9c25,#f99924,#f99523,#f99121,#f98d20,#f88722,#f68024,#f47a27,#f0672e,#e74d3c,#e24045,#df3c4a,#de3d4e,#dc3e52,#db3e56,#da3f59)"></div><div style="top:45.90px;height:2.60px;background:linear-gradient(90deg,#4da63b,#54a73e,#5da840,#6eac40,#81af40,#8cb13e,#93b33c,#9ab539,#a4b734,#adb92f,#b7bb2e,#c1be2e,#d4c036,#eabc42,#f2b746,#f5b647,#f7b448,#f8b345,#f8b141,#f9b03d,#f9ae39,#f9ad35,#f9ab31,#faaa2c,#faa828,#faa527,#faa126,#fa9e25,#fa9a24,#f99723,#f99322,#f98f21,#f88a21,#f78323,#f57c26,#f2722a,#ec5b33,#e34542,#e13d47,#df3d4b,#dd3d4f,#dc3e53,#db3f57)"></div><div style="top:47.89px;height:2.60px;background:linear-gradient(90deg,#4ca63a,#53a73d,#5ba840,#6bab40,#7eae40,#8bb13f,#92b23c,#98b43a,#a2b635,#abb830,#b5bb2e,#bebd2e,#cdc031,#e4bf40,#f1b845,#f4b646,#f6b547,#f8b347,#f8b243,#f9b13f,#f9af3b,#f9ae37,#f9ac33,#faaa2e,#faa92a,#faa627,#faa327,#fa9f26,#fa9c25,#f99823,#f99422,#f99021,#f98d20,#f88622,#f67f25,#f47927,#f0682d,#e8513a,#e24244,#e03c48,#df3d4c,#dd3d50,#dc3e54)"></div><div style="top:49.89px;height:2.60px;background:linear-gradient(90deg,#4ba53a,#52a73d,#5aa840,#68aa40,#7aae40,#8ab03f,#90b23d,#97b43a,#9fb636,#a9b831,#b2ba2e,#bbbc2e,#c6bf2e,#ddbf3b,#efb944,#f3b746,#f5b547,#f8b448,#f8b345,#f8b141,#f9b03d,#f9ae39,#f9ad35,#f9ab31,#faaa2c,#faa828,#faa427,#faa126,#fa9d25,#f99a24,#f99623,#f99222,#f98e21,#f88921,#f78323,#f57c26,#f37329,#ee6030,#e54a3f,#e24045,#e03c49,#de3d4d,#dd3e51)"></div><div style="top:51.88px;height:2.60px;background:linear-gradient(90deg,#4aa539,#51a63c,#58a83f,#65aa40,#77ad40,#88b040,#8fb23d,#95b33b,#9db537,#a6b733,#afb92e,#b9bc2e,#c2be2e,#d5c036,#e9bc42,#f2b746,#f4b647,#f7b548,#f8b346,#f8b243,#f9b13f,#f9af3b,#f9ae37,#f9ac33,#faaa2e,#faa92a,#faa627,#faa326,#fa9f25,#fa9b24,#f99823,#f99422,#f99021,#f98c20,#f78622,#f67f25,#f47a27,#f16c2c,#eb5935,#e44642,#e13f46,#df3c4a,#de3d4e)"></div><div style="top:53.88px;height:2.60px;background:linear-gradient(90deg,#49a539,#50a63c,#57a73f,#61a940,#73ac40,#85af40,#8db13e,#94b33c,#9bb539,#a4b734,#adb82f,#b6bb2e,#bfbd2e,#cdc031,#e3bf40,#f1b845,#f3b746,#f6b547,#f8b448,#f8b344,#f8b141,#f9b03d,#f9ae39,#f9ad35,#f9ab31,#faaa2c,#faa728,#faa427,#faa126,#fa9d25,#f99924,#f99523,#f99222,#f98e21,#f88921,#f78323,#f57d25,#f47827,#f0672e,#e95438,#e34442,#e13e47,#df3d4b)"></div><div style="top:55.87px;height:2.60px;background:linear-gradient(90deg,#48a538,#4fa63b,#56a73e,#5ea940,#6fac40,#81af40,#8cb13f,#92b33c,#98b43a,#a1b635,#aab831,#b3ba2e,#bcbd2e,#c5bf2e,#dbbf3a,#edba43,#f2b746,#f5b647,#f7b548,#f8b346,#f8b243,#f9b13f,#f9af3b,#f9ae37,#f9ac33,#faaa2e,#faa92a,#faa627,#faa226,#fa9f25,#fa9b24,#f99723,#f99322,#f99021,#f98c20,#f78622,#f68024,#f57b26,#f37329,#ef632f,#e8513a,#e34343,#e03c48)"></div><div style="top:57.87px;height:2.60px;background:linear-gradient(90deg,#47a538,#4da63b,#54a73e,#5ca840,#6bab40,#7dae40,#8ab13f,#90b23d,#96b43b,#9fb537,#a7b732,#b0b92e,#b9bc2e,#c1be2e,#d3c035,#e7be41,#f1b845,#f4b646,#f6b547,#f8b448,#f8b344,#f8b141,#f9b03d,#f9ae39,#f9ad35,#f9ab31,#faaa2c,#faa728,#faa427,#faa026,#fa9d25,#f99924,#f99523,#f99122,#f98e21,#f88921,#f78423,#f67f25,#f47a27,#f2702a,#ee6130,#e74d3c,#e24145)"></div><div style="top:59.86px;height:2.60px;background:linear-gradient(90deg,#45a438,#4ca63a,#53a73d,#5aa840,#67aa40,#78ad40,#89b040,#8fb23e,#95b33b,#9cb538,#a4b734,#adb92f,#b5bb2e,#bebd2e,#cac02f,#dfbf3d,#efb944,#f3b746,#f5b647,#f7b548,#f8b346,#f8b243,#f9b13f,#f9af3b,#f9ae37,#f9ac33,#faaa2e,#faa92a,#faa527,#faa226,#fa9e25,#fa9a24,#f99723,#f99322,#f99021,#f98c20,#f88722,#f68224,#f57d25,#f47927,#f16e2b,#ed5d32,#e44740)"></div><div style="top:61.86px;height:2.60px;background:linear-gradient(90deg,#44a437,#4ba53a,#52a73d,#58a83f,#63aa40,#74ad40,#85b040,#8db13e,#93b33c,#99b439,#a2b635,#aab831,#b2ba2e,#bbbc2e,#c3bf2e,#d6bf37,#e8bd42,#f1b845,#f4b646,#f6b547,#f8b448,#f8b345,#f8b241,#f9b03e,#f9af3a,#f9ad35,#f9ab31,#faa92c,#faa728,#faa427,#faa026,#fa9c25,#f99824,#f99523,#f99122,#f98e21,#f98a21,#f78523,#f68124,#f57c26,#f47827,#f16a2c,#ea5636)"></div><div style="top:63.85px;height:2.60px;background:linear-gradient(90deg,#43a437,#4aa539,#50a63c,#57a73f,#5fa940,#70ac40,#80af40,#8bb13f,#91b23d,#97b43a,#9fb537,#a7b732,#afb92e,#b7bb2e,#c0be2e,#cdc031,#e1bf3e,#efb944,#f3b746,#f5b647,#f7b547,#f8b447,#f8b243,#f9b140,#f9af3c,#f9ae38,#f9ac33,#faaa2e,#faa929,#faa527,#faa226,#fa9e25,#fa9a24,#f99723,#f99322,#f99021,#f98d20,#f88821,#f78423,#f67f25,#f57b26,#f37628,#ef642f)"></div><div style="top:65.85px;height:2.60px;background:linear-gradient(90deg,#42a436,#48a539,#4fa63b,#55a73e,#5ca840,#6bab40,#7cae40,#89b03f,#8fb23d,#95b33b,#9cb538,#a4b734,#acb830,#b4ba2e,#bcbd2e,#c4bf2e,#d8bf38,#e9bc42,#f1b845,#f3b646,#f6b547,#f8b448,#f8b345,#f8b242,#f9b03e,#f9af3a,#f9ad35,#f9ab31,#faa92c,#faa728,#faa327,#faa026,#fa9c25,#f99824,#f99523,#f99222,#f98f21,#f98b20,#f88722,#f78323,#f67e25,#f57a26,#f26f2b)"></div><div style="top:67.85px;height:2.60px;background:linear-gradient(90deg,#41a436,#47a538,#4da63b,#54a73d,#5aa840,#67aa40,#77ad40,#87b040,#8db13e,#93b33c,#99b43a,#a1b635,#a9b831,#b1b92e,#b9bc2e,#c0be2e,#cec032,#e1bf3e,#eeb944,#f2b746,#f4b647,#f6b547,#f8b447,#f8b244,#f8b140,#f9b03c,#f9ae38,#f9ac33,#faaa2e,#faa829,#faa527,#faa126,#fa9e25,#f99a24,#f99623,#f99322,#f99021,#f98d20,#f88a21,#f78622,#f68124,#f57d25,#f47827)"></div><div style="top:69.84px;height:2.60px;background:linear-gradient(90deg,#3fa335,#46a438,#4ca53a,#52a73d,#58a83f,#62a940,#72ac40,#82af40,#8bb13f,#91b23d,#96b43b,#9eb537,#a5b733,#adb92f,#b5bb2e,#bdbd2e,#c5bf2e,#d7bf38,#e8bd41,#f1b845,#f3b746,#f5b647,#f7b448,#f8b346,#f8b242,#f9b03f,#f9af3a,#f9ad35,#f9ab31,#faa92b,#faa628,#faa327,#fa9f25,#fa9c24,#f99823,#f99523,#f99222,#f98f21,#f98c20,#f88821,#f78423,#f68024,#f57b26)"></div><div style="top:71.84px;height:2.60px;background:linear-gradient(90deg,#3ea335,#44a437,#4aa53a,#50a63c,#57a73f,#5ea940,#6dab40,#7cae40,#89b03f,#8fb23d,#94b33b,#9ab539,#a2b635,#aab831,#b1ba2e,#b9bc2e,#c0be2e,#cdc031,#dfbf3d,#edba43,#f2b746,#f4b646,#f6b547,#f8b448,#f8b344,#f8b141,#f9b03c,#f9ae38,#f9ac33,#faaa2e,#faa828,#faa427,#faa126,#fa9d25,#f99a24,#f99623,#f99322,#f99121,#f98e21,#f98b20,#f88722,#f78224,#f57e25)"></div><div style="top:73.83px;height:2.60px;background:linear-gradient(90deg,#3da334,#43a436,#49a539,#4fa63b,#55a73e,#5ba840,#68aa40,#77ad40,#86b040,#8db13e,#92b33c,#97b43a,#9fb536,#a6b733,#aeb92f,#b5bb2e,#bdbd2e,#c4bf2e,#d5c036,#e5be41,#f1b845,#f3b746,#f5b647,#f7b548,#f8b346,#f8b243,#f9b13f,#f9af3a,#f9ad35,#f9ab30,#faa92b,#faa627,#faa226,#fa9f25,#fa9b24,#f99823,#f99523,#f99222,#f99021,#f98d20,#f88921,#f78523,#f68024)"></div><div style="top:75.83px;height:2.60px;background:linear-gradient(90deg,#3ca334,#42a436,#47a538,#4da63b,#53a73d,#59a840,#63aa40,#72ac40,#81af40,#8bb13f,#90b23d,#95b33b,#9cb538,#a3b634,#aab831,#b1ba2e,#b9bc2e,#c0be2e,#cac030,#dcbf3b,#eabc42,#f1b845,#f3b746,#f5b547,#f8b448,#f8b345,#f8b141,#f9b03c,#f9ae38,#f9ac32,#faaa2d,#faa828,#faa427,#faa026,#fa9d25,#f99a24,#f99723,#f99422,#f99121,#f98e21,#f98c20,#f88722,#f78323)"></div><div style="top:77.82px;height:2.60px;background:linear-gradient(90deg,#3aa233,#40a335,#46a438,#4ca53a,#51a63c,#57a73f,#5ea940,#6dab40,#7bae40,#89b040,#8eb13e,#93b33c,#98b43a,#9fb636,#a7b732,#aeb92f,#b5bb2e,#bcbd2e,#c3be2e,#d1c034,#e2bf3f,#eeba44,#f2b746,#f4b646,#f6b547,#f8b447,#f8b243,#f9b13f,#f9af3a,#f9ad35,#faab2f,#faa92a,#faa527,#faa226,#fa9e25,#fa9b24,#f99823,#f99523,#f99222,#f99021,#f98d20,#f88a21,#f78523)"></div><div style="top:79.82px;height:2.60px;background:linear-gradient(90deg,#39a233,#3fa335,#44a437,#4aa539,#50a63c,#55a73e,#5ba840,#67aa40,#75ad40,#84af40,#8cb13f,#91b23d,#96b33b,#9cb538,#a3b634,#aab831,#b1b92e,#b8bb2e,#bfbd2e,#c6c02e,#d7bf38,#e6be41,#f1b845,#f3b746,#f5b647,#f7b448,#f8b345,#f8b141,#f9b03c,#f9ae37,#f9ac32,#faaa2c,#faa728,#faa327,#faa026,#fa9d25,#f99924,#f99723,#f99422,#f99122,#f98f21,#f98c20,#f88822)"></div><div style="top:81.81px;height:2.60px;background:linear-gradient(90deg,#38a232,#3ea334,#43a437,#48a539,#4ea63b,#53a73d,#59a840,#62a940,#70ac40,#7eae40,#89b03f,#8eb23e,#93b33c,#98b43a,#9fb636,#a6b733,#adb92f,#b4ba2e,#babc2e,#c1be2e,#ccc031,#dcbf3b,#eabb43,#f2b845,#f4b646,#f6b547,#f8b447,#f8b243,#f9b03e,#f9ae39,#f9ac34,#faaa2e,#faa829,#faa527,#faa126,#fa9e25,#fa9b24,#f99823,#f99523,#f99322,#f99021,#f98d20,#f88a21)"></div><div style="top:83.81px;height:2.60px;background:linear-gradient(90deg,#38a234,#3ca334,#42a436,#47a538,#4ca63a,#52a73d,#57a73f,#5da940,#6aab40,#78ad40,#86b040,#8cb13e,#91b23d,#96b33b,#9cb538,#a3b635,#a9b831,#b0b92e,#b6bb2e,#bdbd2e,#c3bf2e,#d1c034,#e2bf3f,#efb944,#f2b746,#f5b647,#f7b448,#f8b345,#f8b141,#f9af3c,#f9ad36,#f9ab31,#faa92b,#faa627,#faa326,#fa9f26,#fa9c25,#f99924,#f99723,#f99422,#f99122,#f98f21,#f98c20)"></div><div style="top:85.80px;height:2.60px;background:linear-gradient(90deg,#38a236,#3ba233,#40a335,#45a437,#4aa53a,#50a63c,#55a73e,#5aa840,#64aa40,#72ac40,#7fae40,#8ab03f,#8fb23e,#93b33c,#98b43a,#9fb536,#a5b733,#acb830,#b2ba2e,#b9bc2e,#bfbd2e,#c6c02e,#d7bf38,#e7bd41,#f1b845,#f3b746,#f6b547,#f8b447,#f8b243,#f9b03e,#f9ae38,#f9ac33,#faaa2d,#faa828,#faa427,#faa126,#fa9e25,#fa9b24,#f99823,#f99523,#f99322,#f99021,#f98e20)"></div><div style="top:87.80px;height:2.60px;background:linear-gradient(90deg,#37a238,#39a233,#3fa335,#44a437,#49a539,#4ea63b,#53a73d,#58a83f,#5fa940,#6cab40,#79ad40,#86b040,#8cb13e,#91b23d,#95b33b,#9bb538,#a1b635,#a8b732,#aeb92f,#b4ba2e,#bbbc2e,#c1be2e,#ccc031,#ddbf3c,#ecbb43,#f2b746,#f5b647,#f7b448,#f8b345,#f8b140,#f9af3b,#f9ad35,#faab2f,#faa92a,#faa527,#faa226,#fa9f25,#fa9c25,#f99924,#f99723,#f99422,#f99122,#f98f21)"></div><div style="top:89.80px;height:2.60px;background:linear-gradient(90deg,#37a23a,#38a232,#3da334,#42a436,#47a538,#4ca63a,#51a63c,#56a73e,#5ba840,#66aa40,#73ac40,#80af40,#8ab03f,#8eb23e,#93b33c,#97b43a,#9eb537,#a4b734,#aab831,#b0b92e,#b6bb2e,#bdbd2e,#c3bf2e,#d2c035,#e4bf40,#f1b845,#f3b746,#f6b547,#f8b447,#f8b242,#f9b03d,#f9ae37,#f9ac31,#faa92c,#faa728,#faa327,#faa026,#fa9d25,#fa9b24,#f99823,#f99523,#f99322,#f99021)"></div><div style="top:91.79px;height:2.60px;background:linear-gradient(90deg,#37a23c,#38a234,#3ca334,#41a436,#45a438,#4aa539,#4fa63b,#54a73d,#59a83f,#60a940,#6cab40,#79ad40,#86b040,#8cb13f,#90b23d,#95b33b,#9ab439,#a0b636,#a6b733,#acb830,#b2ba2e,#b8bc2e,#bfbd2e,#c7c02e,#dabf39,#eabb43,#f2b746,#f5b647,#f8b448,#f8b344,#f9b13f,#f9ae39,#f9ac34,#faaa2e,#faa829,#faa527,#faa226,#fa9f25,#fa9c25,#f99924,#f99723,#f99422,#f99122)"></div><div style="top:93.79px;height:2.60px;background:linear-gradient(90deg,#37a23e,#38a236,#3aa233,#3fa335,#44a437,#48a539,#4da63b,#52a73d,#56a73f,#5ca840,#66aa40,#73ac40,#7fae40,#89b03f,#8eb13e,#92b33c,#97b43b,#9cb538,#a2b635,#a8b832,#aeb92e,#b4ba2e,#bbbc2e,#c1be2e,#cfc032,#e2bf3f,#f1b845,#f3b746,#f6b547,#f8b346,#f8b141,#f9af3c,#f9ad36,#f9ab30,#faa92b,#faa627,#faa327,#faa026,#fa9d25,#fa9a24,#f99823,#f99523,#f99322)"></div><div style="top:95.78px;height:2.60px;background:linear-gradient(90deg,#37a240,#37a238,#39a232,#3da334,#42a436,#47a538,#4ba53a,#50a63c,#54a73e,#59a840,#60a940,#6cab40,#79ad40,#85af40,#8bb13f,#90b23d,#94b33b,#98b43a,#9eb537,#a4b734,#aab830,#b0b92e,#b7bb2e,#bdbd2e,#c4bf2e,#d8bf38,#eabc42,#f2b746,#f5b647,#f8b448,#f8b243,#f9b03e,#f9ae38,#f9ac32,#faaa2d,#faa828,#faa427,#faa126,#fa9e25,#fa9c24,#f99924,#f99723,#f99422)"></div><div style="top:97.78px;height:2.60px;background:linear-gradient(90deg,#36a242,#37a23b,#38a233,#3ca334,#40a335,#45a437,#49a539,#4ea63b,#52a73d,#57a73f,#5ca840,#66aa40,#72ac40,#7eae40,#89b040,#8db13e,#91b23c,#96b33b,#9bb539,#a1b636,#a6b732,#acb82f,#b3ba2e,#b9bc2e,#c0be2e,#cdc031,#e2bf3f,#f1b845,#f4b646,#f7b548,#f8b345,#f9b140,#f9af3a,#f9ad34,#faab2f,#faa92a,#faa627,#faa326,#faa026,#fa9d25,#fa9a24,#f99823,#f99523)"></div><div style="top:99.77px;height:2.60px;background:linear-gradient(90deg,#36a244,#37a23d,#38a235,#3aa233,#3fa335,#43a437,#47a538,#4ca53a,#50a63c,#54a73e,#59a840,#5fa940,#6bab40,#77ad40,#83af40,#8bb13f,#8fb23d,#93b33c,#97b43a,#9db538,#a3b634,#a9b831,#afb92e,#b5bb2e,#bcbd2e,#c4bf2e,#d8bf38,#ebbb43,#f3b746,#f6b547,#f8b447,#f8b242,#f9b03c,#f9ad37,#f9ab31,#faa92c,#faa728,#faa427,#faa126,#fa9e25,#fa9c24,#f99924,#f99723)"></div><div style="top:101.77px;height:2.60px;background:linear-gradient(90deg,#36a146,#37a23f,#37a238,#39a232,#3da334,#41a436,#45a438,#4aa539,#4ea63b,#52a73d,#56a73f,#5ba840,#65aa40,#70ac40,#7cae40,#88b040,#8cb13e,#90b23d,#95b33b,#99b439,#9fb636,#a5b733,#abb830,#b1ba2e,#b8bc2e,#c0be2e,#cec032,#e4bf40,#f1b845,#f4b647,#f7b448,#f8b244,#f9b03f,#f9ae39,#f9ac33,#faaa2e,#faa829,#faa527,#faa226,#faa026,#fa9d25,#fa9b24,#f99823)"></div><div style="top:103.76px;height:2.60px;background:linear-gradient(90deg,#36a148,#36a241,#37a23a,#38a233,#3ba333,#40a335,#44a437,#48a538,#4ca53a,#50a63c,#54a73e,#58a83f,#5ea940,#6aab40,#75ad40,#81af40,#8ab03f,#8eb13e,#92b23c,#96b43b,#9bb538,#a1b635,#a7b732,#adb92f,#b4bb2e,#bcbd2e,#c4bf2e,#dabf3a,#eeba44,#f3b746,#f6b547,#f8b346,#f8b141,#f9af3b,#f9ad35,#faab30,#faa92b,#faa728,#faa427,#faa126,#fa9e25,#fa9c25,#f99924)"></div><div style="top:105.76px;height:2.60px;background:linear-gradient(90deg,#35a14a,#36a243,#37a23c,#38a236,#3aa233,#3ea334,#42a436,#46a438,#4aa539,#4ea63b,#52a73d,#56a73e,#5aa840,#63aa40,#6eac40,#7aae40,#86b040,#8bb13f,#8fb23d,#94b33c,#98b43a,#9eb537,#a4b734,#aab831,#b1b92e,#b8bc2e,#c0be2e,#d0c033,#e7bd41,#f2b746,#f5b647,#f8b448,#f8b243,#f9b03d,#f9ae37,#f9ac32,#faaa2d,#faa828,#faa527,#faa226,#faa026,#fa9d25,#fa9b24)"></div><div style="top:107.75px;height:2.60px;background:linear-gradient(90deg,#35a14c,#36a245,#37a23f,#37a238,#38a232,#3ca334,#40a335,#44a437,#47a538,#4ba53a,#4fa63c,#53a73d,#58a83f,#5da940,#67aa40,#73ac40,#7fae40,#89b040,#8db13e,#91b23d,#95b33b,#9ab439,#a0b636,#a6b732,#adb92f,#b4bb2e,#bcbd2e,#c6c02e,#debf3c,#f1b845,#f4b646,#f7b548,#f8b344,#f9b13f,#f9af3a,#f9ad34,#faab2f,#faa92a,#faa628,#faa427,#faa126,#fa9f25,#fa9c25)"></div><div style="top:109.75px;height:2.60px;background:linear-gradient(90deg,#35a14f,#36a148,#36a241,#37a23a,#38a234,#3aa233,#3ea334,#42a436,#45a437,#49a539,#4da63b,#51a63c,#55a73e,#5aa840,#61a940,#6cab40,#77ad40,#83af40,#8ab13f,#8eb23e,#93b33c,#97b43a,#9db538,#a3b634,#aab831,#b1b92e,#b9bc2e,#c1be2e,#d4c036,#ebbb43,#f3b746,#f6b547,#f8b346,#f8b141,#f9af3c,#f9ad36,#f9ab31,#faaa2c,#faa828,#faa527,#faa326,#faa026,#fa9e25)"></div><div style="top:111.75px;height:2.60px;background:linear-gradient(90deg,#35a151,#36a14a,#36a243,#37a23d,#37a237,#39a232,#3ca334,#40a335,#43a437,#47a538,#4ba53a,#4fa63b,#53a73d,#57a73f,#5ca840,#65aa40,#70ac40,#7cae40,#87b040,#8cb13f,#90b23d,#94b33b,#99b439,#9fb636,#a6b733,#adb92f,#b5bb2e,#bebd2e,#cbc030,#e4bf40,#f1b845,#f5b647,#f8b448,#f8b243,#f9b03e,#f9ae39,#f9ac33,#faab2f,#faa92a,#faa728,#faa427,#faa226,#fa9f25)"></div><div style="top:113.74px;height:2.60px;background:linear-gradient(90deg,#35a153,#35a14c,#36a146,#37a240,#37a23a,#38a234,#3aa233,#3ea334,#41a436,#45a437,#48a539,#4ca63a,#50a63c,#54a73e,#59a83f,#5ea940,#69ab40,#75ad40,#80af40,#89b03f,#8eb13e,#92b23c,#96b43b,#9cb538,#a3b634,#aab831,#b1ba2e,#babc2e,#c3bf2e,#dabf3a,#efb944,#f3b646,#f7b547,#f8b345,#f8b140,#f9af3b,#f9ad36,#f9ab31,#faaa2c,#faa828,#faa527,#faa327,#faa126)"></div><div style="top:115.74px;height:2.60px;background:linear-gradient(90deg,#34a155,#35a14e,#36a148,#36a242,#37a23c,#37a237,#38a232,#3ca333,#3fa335,#42a436,#46a438,#4aa539,#4ea63b,#52a73d,#56a73e,#5aa840,#62a940,#6eab40,#79ad40,#85af40,#8bb13f,#8fb23d,#94b33c,#98b43a,#9fb636,#a6b732,#aeb92f,#b6bb2e,#bfbe2e,#d0c033,#e8bd42,#f2b746,#f6b547,#f8b447,#f8b242,#f9b03d,#f9ae38,#f9ac33,#faaa2f,#faa92a,#faa728,#faa427,#faa226)"></div><div style="top:117.73px;height:2.60px;background:linear-gradient(90deg,#34a157,#35a151,#35a14a,#36a245,#37a23f,#37a23a,#38a235,#3aa233,#3da334,#40a335,#44a437,#47a538,#4ba53a,#4fa63b,#53a73d,#57a83f,#5ca840,#67aa40,#72ac40,#7eae40,#89b040,#8db13e,#91b23d,#96b33b,#9cb538,#a3b634,#abb830,#b3ba2e,#bcbd2e,#c7c02e,#e1bf3e,#f1b845,#f4b647,#f7b448,#f8b244,#f9b13f,#f9af3a,#f9ad35,#f9ab31,#faaa2d,#faa829,#faa627,#faa327)"></div><div style="top:119.73px;height:2.60px;background:linear-gradient(90deg,#34a159,#35a153,#35a14d,#36a147,#36a242,#37a23d,#37a238,#38a233,#3ba233,#3ea334,#41a436,#45a437,#48a539,#4ca63a,#50a63c,#55a73e,#59a840,#5fa940,#6bab40,#77ad40,#83af40,#8ab13f,#8fb23d,#93b33c,#98b43a,#a0b636,#a7b732,#afb92e,#b8bc2e,#c2be2e,#d7bf38,#edba44,#f3b746,#f6b547,#f8b346,#f8b141,#f9b03c,#f9ae38,#f9ac33,#faab2f,#faa92b,#faa728,#faa527)"></div><div style="top:121.72px;height:2.60px;background:linear-gradient(90deg,#34a15c,#34a155,#35a14f,#36a14a,#36a245,#37a240,#37a23b,#38a236,#38a232,#3ca333,#3fa335,#42a436,#46a438,#4aa539,#4ea63b,#52a73d,#56a73e,#5ba840,#64aa40,#6fac40,#7bae40,#88b040,#8cb13e,#91b23d,#96b33b,#9cb538,#a4b734,#acb830,#b5bb2e,#bebd2e,#cdc031,#e6be41,#f2b746,#f5b647,#f8b448,#f8b243,#f9b03f,#f9af3a,#f9ad35,#f9ab31,#faaa2d,#faa92a,#faa628)"></div><div style="top:123.72px;height:2.60px;background:linear-gradient(90deg,#33a15e,#34a158,#35a152,#35a14d,#36a148,#36a243,#37a23e,#37a23a,#38a235,#39a233,#3ca334,#40a335,#43a437,#47a538,#4ba53a,#4fa63b,#53a73d,#58a83f,#5da940,#68aa40,#74ad40,#81af40,#8ab03f,#8fb23e,#93b33c,#99b43a,#a0b636,#a8b831,#b1ba2e,#babc2e,#c4bf2e,#debf3c,#f1b845,#f4b646,#f7b548,#f8b345,#f8b141,#f9af3c,#f9ae37,#f9ac33,#faab2f,#faa92c,#faa828)"></div><div style="top:125.71px;height:2.60px;background:linear-gradient(90deg,#33a160,#34a15a,#34a155,#35a150,#35a14b,#36a146,#36a242,#37a23d,#37a239,#38a234,#3aa233,#3da334,#41a436,#44a437,#48a539,#4ca63a,#50a63c,#55a73e,#59a840,#61a940,#6dab40,#79ad40,#86b040,#8cb13e,#91b23d,#96b43b,#9db537,#a5b733,#adb92f,#b7bb2e,#c0be2e,#d4c036,#ebbb43,#f3b746,#f6b547,#f8b447,#f8b243,#f9b03e,#f9af3a,#f9ad36,#f9ac32,#faaa2e,#faa92a)"></div><div style="top:127.71px;height:2.60px;background:linear-gradient(90deg,#33a163,#34a15d,#34a157,#35a152,#35a14e,#36a14a,#36a245,#36a241,#37a23c,#37a238,#38a233,#3ba233,#3ea334,#42a436,#45a437,#49a539,#4da63b,#52a73d,#56a73e,#5ba840,#66aa40,#72ac40,#7fae40,#8ab03f,#8eb23e,#94b33c,#99b439,#a2b635,#aab831,#b3ba2e,#bdbd2e,#cac02f,#e4bf40,#f2b845,#f5b647,#f7b448,#f8b344,#f8b140,#f9af3c,#f9ae38,#f9ac34,#f9ab30,#faaa2c)"></div><div style="top:129.70px;height:2.60px;background:linear-gradient(90deg,#33a165,#33a15f,#34a15a,#34a155,#35a151,#35a14d,#36a149,#36a245,#37a240,#37a23c,#38a237,#38a232,#3ba333,#3fa335,#43a436,#46a538,#4aa53a,#4fa63b,#53a73d,#58a83f,#5ea940,#6bab40,#78ad40,#85b040,#8cb13f,#91b23d,#97b43b,#9eb537,#a6b732,#afb92e,#b9bc2e,#c3bf2e,#dbbf3a,#f0b945,#f3b746,#f6b547,#f8b346,#f8b242,#f9b03e,#f9af3a,#f9ad36,#f9ac32,#faaa2f)"></div><div style="top:131.70px;height:2.60px;background:linear-gradient(90deg,#32a168,#33a162,#34a15d,#34a159,#34a154,#35a150,#35a14c,#36a148,#36a244,#37a240,#37a23b,#38a236,#39a232,#3ca334,#40a335,#44a437,#48a538,#4ca53a,#50a63c,#55a73e,#5aa840,#63aa40,#70ac40,#7eae40,#89b03f,#8fb23e,#94b33b,#9ab539,#a3b634,#acb830,#b5bb2e,#bfbd2e,#d1c034,#e9bc42,#f2b746,#f5b647,#f8b448,#f8b344,#f8b140,#f9b03c,#f9ae38,#f9ad35,#f9ab31)"></div><div style="top:133.70px;height:2.60px;background:linear-gradient(90deg,#32a16b,#33a165,#33a160,#34a15c,#34a158,#35a154,#35a150,#35a14c,#36a148,#36a244,#37a23f,#37a23a,#38a235,#39a233,#3da334,#41a436,#45a437,#49a539,#4da63b,#52a73d,#57a73f,#5da840,#69ab40,#76ad40,#85af40,#8cb13f,#91b23c,#97b43a,#9fb636,#a8b832,#b1ba2e,#bbbc2e,#c7c02e,#e1bf3e,#f1b845,#f4b646,#f7b547,#f8b346,#f8b242,#f9b03f,#f9af3b,#f9ae37,#f9ac33)"></div><div style="top:135.69px;height:2.60px;background:linear-gradient(90deg,#32a06e,#32a168,#33a163,#33a15f,#34a15b,#34a158,#35a154,#35a150,#35a14c,#36a148,#36a243,#37a23f,#37a23a,#38a234,#3aa233,#3ea334,#42a436,#46a438,#4aa539,#4fa63b,#54a73d,#59a83f,#61a940,#6fac40,#7dae40,#89b03f,#8fb23d,#95b33b,#9cb538,#a4b734,#aeb92f,#b7bb2e,#c1be2e,#d6bf37,#ecbb43,#f3b746,#f5b547,#f8b448,#f8b344,#f8b141,#f9b03d,#f9ae39,#f9ad36)"></div><div style="top:137.69px;height:2.60px;background:linear-gradient(90deg,#31a072,#32a16c,#33a167,#33a163,#33a15f,#34a15b,#34a158,#35a154,#35a150,#35a14c,#36a148,#36a243,#37a23e,#37a239,#38a233,#3ba233,#3fa335,#43a436,#47a538,#4ca53a,#50a63c,#55a73e,#5ba840,#67aa40,#75ad40,#84af40,#8cb13e,#92b23c,#98b43a,#a1b635,#aab831,#b3ba2e,#bdbd2e,#ccc031,#e5bf40,#f1b845,#f4b646,#f7b547,#f8b346,#f8b243,#f9b13f,#f9af3b,#f9ae38)"></div><div style="top:139.68px;height:2.60px;background:linear-gradient(90deg,#31a076,#32a06f,#32a16a,#33a166,#33a163,#33a15f,#34a15c,#34a158,#34a154,#35a150,#35a14c,#36a147,#36a243,#37a23e,#37a238,#38a232,#3ba333,#3fa335,#44a437,#48a539,#4da63b,#52a73d,#58a83f,#5fa940,#6dab40,#7cae40,#89b03f,#8fb23d,#95b33b,#9db537,#a6b733,#afb92e,#b9bc2e,#c3bf2e,#dbbf3a,#eeb944,#f3b746,#f5b547,#f8b448,#f8b345,#f8b241,#f9b03e,#f9af3a)"></div><div style="top:141.68px;height:2.60px;background:linear-gradient(90deg,#31a07a,#31a074,#32a06f,#32a16a,#33a167,#33a163,#33a160,#34a15c,#34a158,#34a154,#35a150,#35a14c,#36a147,#36a242,#37a23d,#37a237,#38a232,#3ca334,#41a436,#45a437,#4aa539,#4fa63b,#54a73e,#5aa840,#65aa40,#74ad40,#84af40,#8cb13e,#92b33c,#99b43a,#a2b635,#abb830,#b5bb2e,#bfbd2e,#d0c033,#e7bd41,#f2b845,#f4b646,#f7b547,#f8b447,#f8b243,#f8b140,#f9b03d)"></div><div style="top:143.67px;height:2.60px;background:linear-gradient(90deg,#30a07e,#31a078,#31a073,#32a06f,#32a16b,#33a167,#33a164,#33a160,#34a15d,#34a159,#34a155,#35a150,#35a14c,#36a147,#36a242,#37a23c,#38a236,#39a232,#3da334,#42a436,#46a538,#4ca53a,#51a63c,#56a73f,#5da940,#6cab40,#7cae40,#8ab03f,#90b23d,#96b33b,#9eb537,#a7b732,#b1ba2e,#bbbc2e,#c5bf2e,#ddbf3c,#efb944,#f3b746,#f5b647,#f7b448,#f8b346,#f8b242,#f9b13f)"></div><div style="top:145.67px;height:2.60px;background:linear-gradient(90deg,#2fa081,#30a07c,#31a077,#31a073,#32a06f,#32a16c,#32a168,#33a165,#33a161,#34a15d,#34a159,#34a155,#35a150,#35a14c,#36a147,#36a241,#37a23b,#38a235,#3aa233,#3ea335,#43a437,#48a539,#4da63b,#53a73d,#59a840,#63aa40,#73ac40,#84af40,#8db13e,#93b33c,#9ab439,#a3b634,#adb92f,#b7bb2e,#c0be2e,#d2c034,#e7bd41,#f1b845,#f4b646,#f6b547,#f8b448,#f8b345,#f8b242)"></div><div style="top:147.66px;height:2.60px;background:linear-gradient(90deg,#2da085,#30a081,#30a07c,#31a078,#31a074,#32a070,#32a06d,#32a169,#33a165,#33a162,#34a15e,#34a159,#34a155,#35a150,#35a14c,#36a146,#37a241,#37a23b,#38a234,#3ba333,#40a335,#45a437,#4aa539,#4fa63c,#55a73e,#5ca840,#6bab40,#7bae40,#8ab03f,#90b23d,#96b43b,#9fb636,#a9b831,#b2ba2e,#bcbd2e,#c7c02e,#debf3c,#eeb944,#f2b746,#f5b647,#f7b548,#f8b447,#f8b244)"></div><div style="top:149.66px;height:2.60px;background:linear-gradient(90deg,#2ba088,#2ea084,#30a080,#30a07c,#31a079,#31a075,#32a071,#32a06e,#32a16a,#33a166,#33a162,#33a15e,#34a15a,#34a155,#35a150,#35a14b,#36a146,#37a240,#37a239,#38a232,#3ca334,#41a436,#46a538,#4ca63a,#52a73d,#58a83f,#62a940,#73ac40,#84af40,#8db13e,#93b33c,#9bb538,#a4b734,#aeb92f,#b7bb2e,#c1be2e,#d2c034,#e6be41,#f1b845,#f3b746,#f5b547,#f7b448,#f8b346)"></div><div style="top:151.65px;height:2.60px;background:linear-gradient(90deg,#2aa08b,#2ca087,#2ea084,#2fa081,#30a07d,#31a07a,#31a076,#31a072,#32a06f,#32a16b,#33a167,#33a163,#33a15e,#34a15a,#34a155,#35a150,#35a14b,#36a245,#37a23f,#37a238,#39a232,#3ea334,#43a436,#48a539,#4ea63b,#54a73e,#5ba840,#6aab40,#7bae40,#8ab03f,#90b23d,#97b43a,#a0b636,#a9b831,#b3ba2e,#bcbd2e,#c6bf2e,#dbbf3a,#ebbb43,#f2b746,#f4b646,#f6b547,#f8b448)"></div><div style="top:153.65px;height:2.60px;background:linear-gradient(90deg,#28a08e,#2aa08a,#2ca087,#2ea084,#2fa081,#30a07e,#31a07b,#31a077,#31a073,#32a070,#32a16b,#33a167,#33a163,#33a15f,#34a15a,#34a155,#35a150,#36a14a,#36a244,#37a23e,#38a236,#3aa233,#3fa335,#45a437,#4aa53a,#51a63c,#57a83f,#61a940,#72ac40,#85af40,#8db13e,#94b33c,#9cb538,#a5b733,#aeb92f,#b7bb2e,#c0be2e,#cfc032,#e2bf3f,#efb945,#f2b746,#f4b647,#f6b547)"></div><div style="top:155.65px;height:2.60px;background:linear-gradient(90deg,#26a091,#28a08e,#2aa08a,#2ba088,#2da085,#2fa082,#30a080,#30a07c,#31a078,#31a075,#32a071,#32a16c,#32a168,#33a164,#33a15f,#34a15a,#34a155,#35a150,#36a14a,#36a243,#37a23c,#38a234,#3ca333,#41a436,#47a538,#4da63b,#53a73d,#5aa840,#69ab40,#7bae40,#8ab13f,#91b23d,#97b43a,#a0b636,#aab831,#b2ba2e,#bbbc2e,#c3bf2e,#d6c037,#e6be41,#f1b845,#f3b746,#f5b647)"></div><div style="top:157.64px;height:2.60px;background:linear-gradient(90deg,#24a095,#26a091,#28a08e,#29a08b,#2ba088,#2da086,#2ea083,#30a081,#30a07d,#31a07a,#31a076,#31a071,#32a06d,#32a169,#33a164,#33a15f,#34a15a,#34a155,#35a14f,#36a149,#36a242,#37a23a,#38a232,#3da334,#43a437,#49a539,#50a63c,#56a73f,#60a940,#72ac40,#85af40,#8eb13e,#94b33b,#9cb538,#a5b733,#aeb92f,#b6bb2e,#bebd2e,#c9c02e,#dbbf3a,#e9bc42,#f1b845,#f3b746)"></div><div style="top:159.64px;height:2.60px;background:linear-gradient(90deg,#22a098,#24a094,#26a091,#27a08e,#29a08c,#2ba089,#2ca087,#2da084,#2fa082,#30a07f,#31a07b,#31a077,#31a072,#32a06e,#32a169,#33a164,#33a160,#34a15a,#34a154,#35a14e,#36a147,#37a240,#37a238,#3aa233,#3fa335,#45a437,#4ca53a,#53a73d,#5aa840,#69ab40,#7bae40,#8ab13f,#91b23d,#97b43a,#a0b636,#a9b831,#b1ba2e,#b9bc2e,#c1be2e,#cdc031,#debf3c,#ebbb43,#f1b845)"></div><div style="top:161.63px;height:2.60px;background:linear-gradient(90deg,#20a09b,#22a098,#24a095,#25a092,#27a08f,#28a08d,#2aa08a,#2ba088,#2da085,#2ea083,#30a080,#30a07c,#31a078,#31a073,#32a06f,#32a16a,#33a165,#33a15f,#34a15a,#35a154,#35a14d,#36a146,#37a23e,#38a236,#3ba333,#41a436,#48a539,#4fa63b,#56a73e,#5fa940,#72ac40,#85af40,#8eb13e,#94b33b,#9bb538,#a4b734,#acb82f,#b4ba2e,#bcbd2e,#c2be2e,#d0c033,#e0bf3e,#ecba43)"></div><div style="top:163.63px;height:2.60px;background:linear-gradient(90deg,#1ea09e,#20a09b,#22a098,#23a095,#25a093,#26a090,#28a08e,#29a08b,#2ba089,#2ca086,#2ea083,#30a081,#30a07d,#31a078,#31a074,#32a06f,#32a16a,#33a165,#33a15f,#34a159,#35a153,#35a14c,#36a244,#37a23c,#38a233,#3ea334,#44a437,#4ba53a,#52a73d,#59a840,#68aa40,#7bae40,#8ab13f,#91b23d,#97b43a,#9fb636,#a7b732,#afb92e,#b6bb2e,#bdbd2e,#c3bf2e,#d2c035,#e2bf3f)"></div><div style="top:165.62px;height:2.60px;background:linear-gradient(90deg,#1ca0a2,#1ea09e,#20a09b,#21a099,#23a096,#24a094,#26a091,#27a08f,#29a08c,#2aa08a,#2ca087,#2da084,#2fa081,#30a07e,#31a079,#31a074,#32a06f,#32a16a,#33a165,#33a15f,#34a158,#35a151,#36a14a,#36a242,#37a239,#3aa233,#40a335,#47a538,#4ea63b,#55a73e,#5fa940,#72ac40,#85af40,#8db13e,#94b33c,#9ab539,#a2b635,#aab831,#b1ba2e,#b8bb2e,#bebd2e,#c5bf2e,#d4c036)"></div><div style="top:167.62px;height:2.60px;background:linear-gradient(90deg,#1aa0a5,#1ca0a2,#1ea09f,#1fa09c,#21a09a,#22a097,#24a095,#25a092,#27a090,#28a08d,#2aa08b,#2ba088,#2da085,#2fa082,#30a07f,#31a07a,#31a075,#32a070,#32a16a,#33a164,#33a15e,#34a157,#35a150,#36a148,#37a23f,#38a235,#3ca334,#43a436,#4aa539,#51a63c,#59a840,#68aa40,#7bae40,#8ab03f,#90b23d,#96b43b,#9db537,#a5b733,#acb830,#b2ba2e,#b9bc2e,#bfbd2e,#c6c02e)"></div><div style="top:169.61px;height:2.60px;background:linear-gradient(90deg,#18a0a8,#1aa0a5,#1ba0a2,#1da0a0,#1fa09d,#20a09b,#21a098,#23a096,#24a093,#26a091,#28a08e,#29a08b,#2ba089,#2da086,#2ea083,#30a07f,#31a07a,#31a075,#32a070,#32a16a,#33a164,#34a15d,#34a156,#35a14e,#36a245,#37a23c,#38a232,#3fa335,#46a438,#4da63b,#55a73e,#5ea940,#71ac40,#84af40,#8db13e,#93b33c,#98b43a,#a0b636,#a7b732,#adb92f,#b3ba2e,#babc2e,#c0be2e)"></div><div style="top:171.61px;height:2.60px;background:linear-gradient(90deg,#189fa9,#18a0a8,#19a0a6,#1ba0a3,#1ca0a1,#1ea09e,#1fa09c,#21a099,#22a097,#24a094,#25a092,#27a08f,#29a08c,#2aa089,#2ca086,#2ea083,#30a080,#31a07b,#31a075,#32a06f,#32a169,#33a163,#34a15b,#35a154,#35a14b,#36a242,#37a238,#3ba333,#42a436,#49a539,#51a63c,#59a840,#67aa40,#7aae40,#89b040,#8fb23d,#95b33b,#9bb539,#a2b635,#a8b732,#aeb92f,#b4ba2e,#babc2e)"></div><div style="top:173.60px;height:2.60px;background:linear-gradient(90deg,#199da9,#189fa9,#18a0a8,#19a0a7,#1aa0a4,#1ca0a2,#1da09f,#1fa09d,#20a09a,#22a098,#23a095,#25a092,#27a090,#28a08d,#2aa08a,#2ca087,#2ea083,#30a080,#31a07b,#31a075,#32a06f,#32a168,#33a161,#34a15a,#35a151,#36a148,#37a23e,#38a234,#3ea334,#45a438,#4da63b,#55a73e,#5ea940,#70ac40,#82af40,#8cb13f,#91b23d,#96b43b,#9cb538,#a3b634,#a9b831,#afb92e,#b5bb2e)"></div><div style="top:175.60px;height:2.60px;background:linear-gradient(90deg,#199caa,#199da9,#189ea9,#189fa8,#18a0a8,#1aa0a5,#1ba0a3,#1da0a0,#1ea09e,#20a09b,#21a099,#23a096,#25a093,#26a090,#28a08d,#2aa08a,#2ca087,#2ea084,#30a080,#31a07b,#31a074,#32a06e,#33a167,#33a15f,#34a157,#35a14e,#36a244,#37a23a,#3aa233,#41a436,#49a539,#51a63c,#59a83f,#66aa40,#78ad40,#88b040,#8eb13e,#93b33c,#97b43a,#9eb537,#a4b734,#aab831,#afb92e)"></div><div style="top:177.60px;height:2.60px;background:linear-gradient(90deg,#199baa,#199caa,#199da9,#199ea9,#189fa9,#18a0a8,#19a0a6,#1aa0a4,#1ca0a1,#1da09f,#1fa09c,#21a099,#22a097,#24a094,#26a091,#28a08e,#2aa08b,#2ca087,#2ea084,#30a080,#31a07a,#31a074,#32a16c,#33a165,#34a15d,#34a154,#35a14b,#37a240,#38a235,#3da334,#45a437,#4da63b,#54a73e,#5da840,#6eab40,#7fae40,#8ab13f,#8fb23d,#94b33c,#98b43a,#9fb537,#a4b733,#aab830)"></div><div style="top:179.59px;height:2.60px;background:linear-gradient(90deg,#1a9aab,#199baa,#199caa,#199daa,#199ea9,#189ea9,#189fa8,#18a0a8,#1aa0a5,#1ba0a2,#1da0a0,#1fa09d,#20a09a,#22a097,#24a094,#26a091,#28a08e,#2aa08b,#2ca087,#2ea084,#30a080,#31a079,#31a072,#32a16b,#33a163,#34a15a,#35a151,#36a146,#37a23b,#39a233,#41a436,#49a539,#50a63c,#58a83f,#64aa40,#75ad40,#84af40,#8cb13f,#90b23d,#95b33b,#99b439,#9fb636,#a5b733)"></div><div style="top:181.59px;height:2.60px;background:linear-gradient(90deg,#1a99ab,#1a9aab,#1a9bab,#199caa,#199caa,#199da9,#199ea9,#189fa9,#18a0a8,#19a0a6,#1ba0a3,#1da0a0,#1ea09d,#20a09a,#22a098,#24a095,#26a091,#27a08e,#29a08b,#2ca087,#2ea083,#30a07f,#31a078,#32a071,#32a168,#33a160,#34a157,#35a14d,#36a242,#38a236,#3da334,#45a437,#4ca63a,#54a73d,#5ca840,#6bab40,#7aae40,#88b040,#8db13e,#91b23d,#95b33b,#9ab439,#a0b636)"></div><div style="top:183.58px;height:2.60px;background:linear-gradient(90deg,#1b98ac,#1a99ac,#1a99ab,#1a9aab,#199baa,#199caa,#199daa,#199ea9,#189fa9,#18a0a8,#19a0a6,#1ba0a4,#1ca0a1,#1ea09e,#20a09b,#22a098,#24a095,#25a092,#27a08e,#2aa08b,#2ca087,#2ea083,#30a07e,#31a076,#32a06e,#33a166,#34a15d,#35a153,#36a148,#37a23c,#39a232,#41a436,#48a539,#50a63c,#57a73f,#61a940,#70ac40,#7eae40,#89b040,#8eb13e,#92b23c,#96b33b,#9bb538)"></div><div style="top:185.58px;height:2.60px;background:linear-gradient(90deg,#1b96ad,#1b97ac,#1a98ac,#1a99ab,#1a9aab,#1a9bab,#199caa,#199caa,#199da9,#189ea9,#189fa8,#19a0a7,#1aa0a4,#1ca0a1,#1ea09e,#20a09b,#22a098,#23a095,#25a092,#27a08e,#2aa08b,#2ca086,#2fa082,#30a07c,#31a074,#32a16b,#33a162,#34a159,#35a14e,#36a242,#38a237,#3da334,#44a437,#4ca53a,#53a73d,#5aa840,#66aa40,#74ad40,#81af40,#8ab03f,#8eb23e,#92b33c,#97b43a)"></div><div style="top:187.57px;height:2.60px;background:linear-gradient(90deg,#1b95ad,#1b96ad,#1b97ac,#1a98ac,#1a99ac,#1a99ab,#1a9aab,#199baa,#199caa,#199da9,#199ea9,#189fa8,#19a0a7,#1aa0a4,#1ca0a1,#1ea09e,#20a09b,#21a098,#23a095,#25a092,#28a08e,#2aa08a,#2da086,#30a081,#31a07a,#32a071,#32a168,#33a15e,#35a154,#36a149,#37a23d,#39a232,#40a335,#48a539,#4fa63b,#56a73e,#5da840,#6aab40,#77ad40,#83af40,#8bb13f,#8fb23d,#93b33c)"></div><div style="top:189.57px;height:2.60px;background:linear-gradient(90deg,#1c94ae,#1b95ad,#1b96ad,#1b97ad,#1b97ac,#1a98ac,#1a99ab,#1a9aab,#199baa,#199caa,#199da9,#199ea9,#189fa8,#18a0a7,#1aa0a4,#1ca0a1,#1ea09e,#20a09b,#21a098,#23a095,#26a091,#28a08d,#2ba089,#2da084,#30a07f,#31a077,#32a06e,#33a164,#34a15a,#35a14e,#36a243,#38a237,#3da334,#44a437,#4ba53a,#52a73d,#58a83f,#60a940,#6dab40,#79ad40,#85af40,#8bb13f,#90b23d)"></div><div style="top:191.56px;height:2.60px;background:linear-gradient(90deg,#1c92af,#1c94ae,#1b95ae,#1b95ad,#1b96ad,#1b97ac,#1a98ac,#1a99ab,#1a9aab,#1a9baa,#199caa,#199da9,#199ea9,#189fa8,#18a0a7,#1aa0a4,#1ca0a1,#1ea09e,#20a09b,#22a098,#24a095,#26a091,#28a08d,#2ba088,#2ea083,#30a07c,#31a073,#32a169,#33a15f,#34a154,#36a149,#37a23d,#39a232,#40a335,#47a538,#4ea63b,#54a73d,#5aa840,#63aa40,#6fac40,#7bae40,#87b040,#8cb13e)"></div><div style="top:193.56px;height:2.60px;background:linear-gradient(90deg,#1d91af,#1c92af,#1c93ae,#1c94ae,#1b95ad,#1b96ad,#1b97ad,#1a98ac,#1a99ac,#1a9aab,#1a9baa,#199caa,#199da9,#199ea9,#189fa8,#18a0a7,#1aa0a4,#1ca0a1,#1ea09e,#20a09b,#22a098,#24a094,#27a090,#29a08b,#2ca086,#2fa081,#31a078,#32a06f,#33a164,#34a15a,#35a14e,#36a243,#38a237,#3ca334,#43a437,#4aa539,#50a63c,#56a73e,#5ba840,#65aa40,#71ac40,#7dae40,#89b040)"></div><div style="top:195.55px;height:2.60px;background:linear-gradient(90deg,#1d8fb0,#1d91af,#1c92af,#1c92af,#1c93ae,#1b94ae,#1b95ad,#1b96ad,#1b98ac,#1a99ac,#1a9aab,#1a9baa,#199caa,#199da9,#199ea9,#189fa8,#18a0a7,#1aa0a4,#1ca0a1,#1ea09e,#20a09b,#22a097,#25a093,#27a08f,#2aa08a,#2da084,#30a07e,#31a074,#32a16a,#33a15f,#35a154,#36a148,#37a23d,#39a232,#3fa335,#46a438,#4ca63a,#52a73d,#57a73f,#5ca840,#67aa40,#74ac40,#81af40)"></div><div style="top:197.55px;height:2.60px;background:linear-gradient(90deg,#1d8eb1,#1d8fb0,#1d90b0,#1c91af,#1c92af,#1c93ae,#1b94ae,#1b95ad,#1b96ad,#1a98ac,#1a99ab,#1a9aab,#199baa,#199caa,#199da9,#199ea9,#189fa8,#18a0a7,#1aa0a4,#1ca0a1,#1ea09e,#20a09a,#23a096,#25a092,#28a08d,#2ba088,#2fa082,#31a079,#32a06f,#33a164,#34a159,#35a14e,#36a242,#38a237,#3ca334,#42a436,#48a539,#4ea63b,#53a73d,#58a83f,#5ea940,#6bab40,#78ad40)"></div><div style="top:199.55px;height:2.60px;background:linear-gradient(90deg,#1e8cb2,#1d8db1,#1d8fb0,#1d90b0,#1d91af,#1c92af,#1c93ae,#1c94ae,#1b95ad,#1b97ad,#1a98ac,#1a99ab,#1a9aab,#199baa,#199caa,#199da9,#199ea9,#189fa8,#18a0a7,#1aa0a4,#1ca0a1,#1fa09d,#21a099,#24a095,#26a090,#2aa08b,#2da085,#30a07e,#31a074,#32a169,#33a15e,#35a153,#36a148,#37a23c,#38a232,#3ea335,#44a437,#4aa539,#4fa63b,#54a73e,#59a840,#62a940,#6fac40)"></div><div style="top:201.54px;height:2.60px;background:linear-gradient(90deg,#1e8bb2,#1e8cb2,#1e8db1,#1d8eb1,#1d8fb0,#1d90b0,#1c92af,#1c93ae,#1b94ae,#1b95ad,#1b97ac,#1a98ac,#1a99ab,#1a9aab,#199baa,#199caa,#199da9,#199ea9,#189fa8,#19a0a7,#1ba0a4,#1da0a0,#1fa09c,#22a098,#25a093,#28a08e,#2ba088,#2fa082,#31a079,#32a06e,#33a163,#34a158,#35a14d,#36a242,#37a237,#3ba333,#41a436,#46a538,#4ba53a,#50a63c,#55a73e,#5ba840,#66aa40)"></div><div style="top:203.54px;height:2.60px;background:linear-gradient(90deg,#1f89b3,#1e8ab2,#1e8cb2,#1e8db1,#1d8eb1,#1d8fb0,#1d90b0,#1c92af,#1c93ae,#1b94ae,#1b96ad,#1b97ac,#1a98ac,#1a99ab,#1a9aab,#199baa,#199caa,#199da9,#199ea9,#189fa8,#19a0a6,#1ba0a3,#1da09f,#20a09b,#23a096,#26a091,#29a08b,#2da085,#30a07d,#31a073,#32a168,#34a15d,#35a152,#36a147,#37a23d,#38a233,#3da334,#43a436,#48a539,#4da63b,#52a73d,#57a83f,#5ea940)"></div><div style="top:205.53px;height:2.60px;background:linear-gradient(90deg,#1f88b4,#1f89b3,#1e8ab2,#1e8bb2,#1e8db1,#1d8eb1,#1d8fb0,#1d90b0,#1c92af,#1c93ae,#1b95ad,#1b96ad,#1b97ac,#1a98ac,#1a99ab,#1a9aab,#199baa,#199caa,#199da9,#189ea9,#18a0a8,#19a0a6,#1ca0a2,#1ea09e,#21a099,#24a094,#28a08e,#2ba088,#2fa081,#31a077,#32a16c,#33a161,#34a156,#35a14c,#36a242,#37a238,#3aa233,#3fa335,#44a437,#4aa539,#4fa63b,#54a73e,#5aa840)"></div><div style="top:207.53px;height:2.60px;background:linear-gradient(90deg,#2086b4,#1f88b4,#1f89b3,#1f8ab3,#1e8bb2,#1e8cb1,#1d8eb1,#1d8fb0,#1d90af,#1c92af,#1c93ae,#1b95ad,#1b96ad,#1b97ac,#1a98ac,#1a99ab,#1a9aab,#199baa,#199caa,#199da9,#189fa9,#18a0a8,#1aa0a4,#1da0a0,#1fa09c,#22a097,#26a091,#29a08b,#2da084,#30a07c,#32a071,#33a166,#34a15b,#35a151,#36a147,#37a23d,#38a234,#3ca334,#41a436,#46a538,#4ba53a,#51a63c,#56a73e)"></div><div style="top:209.52px;height:2.60px;background:linear-gradient(90deg,#2085b5,#2086b4,#1f87b4,#1f89b3,#1f8ab3,#1e8bb2,#1e8cb1,#1d8eb1,#1d8fb0,#1d91af,#1c92af,#1c94ae,#1b95ad,#1b96ad,#1b97ac,#1a98ac,#1a99ab,#1a9aab,#199baa,#199daa,#199ea9,#189fa9,#19a0a7,#1ba0a3,#1ea09e,#21a099,#24a094,#28a08e,#2ca087,#30a080,#31a075,#32a16a,#33a15f,#34a155,#35a14c,#36a243,#37a23a,#39a232,#3ea334,#43a437,#48a539,#4ea63b,#53a73d)"></div><div style="top:211.52px;height:2.60px;background:linear-gradient(90deg,#2084b5,#2085b5,#2086b5,#1f87b4,#1f89b3,#1f8ab3,#1e8bb2,#1e8db1,#1d8eb1,#1d8fb0,#1c91af,#1c93ae,#1c94ae,#1b95ad,#1b96ad,#1b97ac,#1a98ac,#1a99ab,#1a9aab,#199caa,#199daa,#199ea9,#189fa8,#19a0a6,#1ca0a1,#1fa09c,#23a096,#26a090,#2aa08a,#2ea083,#31a07a,#32a06e,#33a164,#34a15a,#35a151,#36a148,#37a23f,#38a236,#3ba233,#40a335,#45a437,#4aa53a,#50a63c)"></div><div style="top:213.51px;height:2.60px;background:linear-gradient(90deg,#2084b6,#2084b5,#2085b5,#2086b5,#1f87b4,#1f89b3,#1f8ab3,#1e8bb2,#1e8db1,#1d8eb1,#1d90b0,#1c91af,#1c93ae,#1b94ae,#1b95ad,#1b96ad,#1b97ac,#1a98ac,#1a9aab,#1a9bab,#199caa,#199da9,#189ea9,#18a0a8,#1ba0a4,#1ea09f,#21a099,#24a093,#28a08d,#2da086,#30a07e,#31a073,#32a168,#33a15f,#34a155,#35a14c,#36a244,#37a23b,#38a233,#3da334,#42a436,#47a538,#4da63b)"></div><div style="top:215.51px;height:2.60px;background:linear-gradient(90deg,#2083b6,#2084b6,#2084b5,#2085b5,#2086b5,#1f87b4,#1f89b3,#1f8ab3,#1e8cb2,#1e8db1,#1d8fb0,#1d90b0,#1c92af,#1c93ae,#1b94ae,#1b96ad,#1b97ad,#1b98ac,#1a99ac,#1a9aab,#1a9baa,#199caa,#199ea9,#189fa8,#19a0a6,#1ca0a1,#1fa09c,#23a096,#27a08f,#2ba089,#2fa081,#31a077,#32a06d,#33a163,#34a15a,#35a151,#36a149,#37a240,#37a238,#3aa233,#3fa335,#44a437,#4aa539)"></div><div style="top:217.50px;height:2.60px;background:linear-gradient(90deg,#2083b6,#2083b6,#2084b6,#2084b5,#2085b5,#2086b5,#1f87b4,#1f89b3,#1e8ab2,#1e8cb2,#1e8db1,#1d8fb0,#1d90b0,#1c92af,#1c93ae,#1b95ae,#1b96ad,#1b97ad,#1a98ac,#1a99ab,#1a9aab,#199baa,#199daa,#199ea9,#18a0a8,#1ba0a4,#1ea09e,#21a099,#25a092,#29a08b,#2da084,#30a07c,#31a071,#33a167,#33a15f,#34a156,#35a14d,#36a245,#37a23c,#38a234,#3ca334,#41a436,#47a538)"></div></div><div class="hm" style="left:488.30px;top:249.0px;width:168.00px;height:219.50px"><div style="top:0.00px;height:2.60px;background:linear-gradient(90deg,#1c92af,#1c92af,#1c92af,#1c91af,#1c91af,#1d91af,#1d90b0,#1d90b0,#1d90b0,#1d8fb0,#1d8fb0,#1d8eb1,#1d8eb1,#1d8eb1,#1e8db1,#1e8db1,#1e8cb1,#1e8cb2,#1e8cb2,#1e8bb2,#1e8ab2,#1f8ab3,#1f89b3,#1f88b3,#1f87b4,#1f87b4,#2086b4,#2086b5,#2085b5,#2085b5,#2085b5,#2084b5,#2084b6,#2084b6,#2084b6,#2083b6,#2083b6,#2083b6,#2083b6,#2182b7,#2182b7,#2182b7,#2181b7)"></div><div style="top:2.00px;height:2.60px;background:linear-gradient(90deg,#1c94ae,#1c94ae,#1c94ae,#1c93ae,#1c93ae,#1c92af,#1c92af,#1c92af,#1c91af,#1d91af,#1d90b0,#1d90b0,#1d90b0,#1d8fb0,#1d8fb0,#1d8eb0,#1d8eb1,#1d8eb1,#1e8db1,#1e8db1,#1e8cb2,#1e8bb2,#1e8bb2,#1f8ab3,#1f89b3,#1f88b3,#1f88b4,#1f87b4,#1f87b4,#2086b4,#2086b5,#2085b5,#2085b5,#2085b5,#2084b5,#2084b6,#2084b6,#2084b6,#2083b6,#2083b6,#2083b6,#2182b7,#2182b7)"></div><div style="top:3.99px;height:2.60px;background:linear-gradient(90deg,#1b96ad,#1b96ad,#1b95ad,#1b95ad,#1b95ae,#1c94ae,#1c94ae,#1c93ae,#1c93ae,#1c92af,#1c92af,#1c92af,#1c91af,#1c91af,#1d90af,#1d90b0,#1d90b0,#1d8fb0,#1d8fb0,#1d8eb1,#1d8eb1,#1e8db1,#1e8cb2,#1e8cb2,#1e8bb2,#1e8ab2,#1f8ab3,#1f89b3,#1f89b3,#1f88b4,#1f87b4,#1f87b4,#2086b4,#2086b5,#2085b5,#2085b5,#2085b5,#2084b5,#2084b6,#2084b6,#2084b6,#2083b6,#2083b6)"></div><div style="top:5.99px;height:2.60px;background:linear-gradient(90deg,#1a98ac,#1b97ac,#1b97ac,#1b97ac,#1b96ad,#1b96ad,#1b95ad,#1b95ad,#1b95ae,#1c94ae,#1c94ae,#1c93ae,#1c93ae,#1c92af,#1c92af,#1c92af,#1c91af,#1c91af,#1d90b0,#1d90b0,#1d8fb0,#1d8fb0,#1d8eb1,#1e8db1,#1e8db1,#1e8cb2,#1e8bb2,#1e8bb2,#1e8ab2,#1f8ab3,#1f89b3,#1f89b3,#1f88b3,#1f88b4,#1f87b4,#2087b4,#2086b5,#2085b5,#2085b5,#2085b5,#2084b5,#2084b6,#2084b6)"></div><div style="top:7.98px;height:2.60px;background:linear-gradient(90deg,#1a99ab,#1a99ab,#1a99ab,#1a98ac,#1a98ac,#1a98ac,#1b97ac,#1b97ac,#1b96ad,#1b96ad,#1b95ad,#1b95ad,#1b94ae,#1c94ae,#1c94ae,#1c93ae,#1c93ae,#1c92af,#1c92af,#1c91af,#1c91af,#1d90b0,#1d90b0,#1d8fb0,#1d8eb1,#1d8eb1,#1e8db1,#1e8db1,#1e8cb2,#1e8cb2,#1e8bb2,#1e8bb2,#1e8ab3,#1f8ab3,#1f89b3,#1f89b3,#1f88b4,#1f87b4,#2087b4,#2086b5,#2085b5,#2085b5,#2084b5)"></div><div style="top:9.98px;height:2.60px;background:linear-gradient(90deg,#199baa,#1a9baa,#1a9bab,#1a9aab,#1a9aab,#1a99ab,#1a99ab,#1a98ac,#1a98ac,#1b97ac,#1b97ac,#1b96ad,#1b96ad,#1b96ad,#1b95ad,#1b95ad,#1b94ae,#1c94ae,#1c94ae,#1c93ae,#1c93ae,#1c92af,#1c91af,#1d91af,#1d90b0,#1d8fb0,#1d8fb0,#1d8eb1,#1d8eb1,#1e8db1,#1e8db1,#1e8cb1,#1e8cb2,#1e8cb2,#1e8bb2,#1e8ab2,#1f8ab3,#1f89b3,#1f88b3,#1f88b4,#1f87b4,#2086b4,#2085b5)"></div><div style="top:11.97px;height:2.60px;background:linear-gradient(90deg,#199da9,#199daa,#199caa,#199caa,#199baa,#199baa,#1a9bab,#1a9aab,#1a9aab,#1a99ab,#1a99ac,#1a98ac,#1a98ac,#1b97ac,#1b97ac,#1b96ad,#1b96ad,#1b96ad,#1b95ad,#1b95ad,#1c94ae,#1c93ae,#1c93ae,#1c92af,#1c92af,#1c91af,#1d91af,#1d90b0,#1d90b0,#1d8fb0,#1d8fb0,#1d8eb1,#1d8eb1,#1e8db1,#1e8db1,#1e8cb1,#1e8cb2,#1e8bb2,#1e8ab2,#1f8ab3,#1f89b3,#1f88b4,#1f87b4)"></div><div style="top:13.97px;height:2.60px;background:linear-gradient(90deg,#189fa9,#189ea9,#199ea9,#199ea9,#199da9,#199daa,#199caa,#199caa,#199baa,#1a9bab,#1a9aab,#1a9aab,#1a99ab,#1a99ab,#1a98ac,#1a98ac,#1b98ac,#1b97ac,#1b97ac,#1b96ad,#1b96ad,#1b95ad,#1b95ae,#1c94ae,#1c93ae,#1c93ae,#1c92af,#1c92af,#1c91af,#1c91af,#1d91af,#1d90b0,#1d90b0,#1d8fb0,#1d8fb0,#1d8eb1,#1d8eb1,#1e8db1,#1e8cb1,#1e8cb2,#1e8bb2,#1f8ab3,#1f89b3)"></div><div style="top:15.96px;height:2.60px;background:linear-gradient(90deg,#19a0a7,#18a0a8,#18a0a8,#189fa8,#189fa9,#189ea9,#199ea9,#199da9,#199daa,#199caa,#199caa,#199baa,#1a9baa,#1a9aab,#1a9aab,#1a9aab,#1a99ab,#1a99ac,#1a98ac,#1a98ac,#1b97ac,#1b97ac,#1b96ad,#1b96ad,#1b95ad,#1b95ae,#1c94ae,#1c94ae,#1c93ae,#1c93ae,#1c92af,#1c92af,#1c92af,#1c91af,#1d91af,#1d90b0,#1d90b0,#1d8fb0,#1d8eb1,#1d8eb1,#1e8db1,#1e8cb2,#1e8bb2)"></div><div style="top:17.96px;height:2.60px;background:linear-gradient(90deg,#1ca0a2,#1ba0a3,#1ba0a4,#1aa0a5,#19a0a6,#18a0a8,#18a0a8,#189fa9,#189ea9,#199ea9,#199da9,#199daa,#199caa,#199caa,#199baa,#199baa,#1a9bab,#1a9aab,#1a9aab,#1a99ab,#1a99ab,#1a98ac,#1a98ac,#1b97ac,#1b97ac,#1b96ad,#1b96ad,#1b95ad,#1b95ad,#1b95ad,#1b94ae,#1c94ae,#1c93ae,#1c93ae,#1c93ae,#1c92af,#1c92af,#1c91af,#1d90b0,#1d90b0,#1d8fb0,#1d8eb1,#1e8db1)"></div><div style="top:19.95px;height:2.60px;background:linear-gradient(90deg,#1fa09d,#1ea09e,#1da09f,#1da0a0,#1ca0a2,#1ba0a3,#1aa0a5,#19a0a6,#18a0a8,#189fa8,#189fa9,#189ea9,#199ea9,#199da9,#199da9,#199daa,#199caa,#199caa,#199baa,#1a9baa,#1a9aab,#1a9aab,#1a99ab,#1a99ab,#1a98ac,#1a98ac,#1a98ac,#1b97ac,#1b97ac,#1b96ad,#1b96ad,#1b96ad,#1b95ad,#1b95ad,#1b94ae,#1c94ae,#1c93ae,#1c93ae,#1c92af,#1c91af,#1d91af,#1d90b0,#1d8fb0)"></div><div style="top:21.95px;height:2.60px;background:linear-gradient(90deg,#22a098,#21a099,#20a09a,#20a09b,#1fa09d,#1ea09e,#1da0a0,#1ca0a2,#1ba0a3,#1aa0a5,#19a0a7,#18a0a8,#18a0a8,#189fa8,#189fa9,#199ea9,#199ea9,#199da9,#199da9,#199caa,#199caa,#199caa,#199baa,#1a9bab,#1a9aab,#1a9aab,#1a99ab,#1a99ab,#1a99ac,#1a98ac,#1a98ac,#1a98ac,#1b97ac,#1b97ac,#1b96ad,#1b96ad,#1b95ad,#1b95ad,#1c94ae,#1c93ae,#1c93ae,#1c92af,#1c91af)"></div><div style="top:23.95px;height:2.60px;background:linear-gradient(90deg,#25a093,#24a094,#23a095,#22a097,#21a098,#21a09a,#1fa09c,#1ea09d,#1da09f,#1ca0a1,#1ca0a2,#1ba0a4,#1aa0a5,#19a0a6,#18a0a8,#18a0a8,#189fa8,#189fa9,#189ea9,#199ea9,#199ea9,#199da9,#199daa,#199caa,#199caa,#199baa,#199baa,#1a9bab,#1a9aab,#1a9aab,#1a9aab,#1a99ab,#1a99ab,#1a99ac,#1a98ac,#1a98ac,#1b97ac,#1b97ac,#1b96ad,#1b95ad,#1b95ad,#1c94ae,#1c93ae)"></div><div style="top:25.94px;height:2.60px;background:linear-gradient(90deg,#27a08e,#27a08f,#26a090,#25a092,#24a093,#23a095,#22a097,#21a099,#20a09a,#1fa09c,#1ea09e,#1da09f,#1ca0a1,#1ca0a2,#1ba0a3,#1aa0a4,#19a0a6,#19a0a7,#18a0a8,#18a0a8,#189fa8,#189fa9,#189ea9,#199ea9,#199ea9,#199da9,#199da9,#199daa,#199caa,#199caa,#199caa,#199baa,#199baa,#1a9bab,#1a9aab,#1a9aab,#1a99ab,#1a99ac,#1a98ac,#1b97ac,#1b97ad,#1b96ad,#1b95ad)"></div><div style="top:27.94px;height:2.60px;background:linear-gradient(90deg,#2aa089,#2aa08a,#29a08c,#28a08d,#27a08f,#26a091,#25a092,#24a094,#23a096,#22a098,#21a099,#20a09b,#1fa09c,#1ea09e,#1da09f,#1da0a0,#1ca0a1,#1ba0a2,#1ba0a3,#1aa0a5,#19a0a6,#19a0a7,#18a0a8,#18a0a8,#189fa8,#189fa8,#189fa9,#189ea9,#199ea9,#199ea9,#199da9,#199da9,#199daa,#199daa,#199caa,#199caa,#199baa,#1a9bab,#1a9aab,#1a99ab,#1a99ac,#1a98ac,#1b97ac)"></div><div style="top:29.93px;height:2.60px;background:linear-gradient(90deg,#2da084,#2da085,#2ca087,#2ba088,#2aa08a,#29a08c,#28a08e,#27a090,#26a091,#24a093,#23a095,#23a096,#22a098,#21a099,#20a09a,#1fa09c,#1fa09d,#1ea09e,#1da09f,#1da0a0,#1ca0a1,#1ca0a2,#1ba0a3,#1aa0a4,#1aa0a5,#19a0a6,#19a0a7,#18a0a8,#18a0a8,#18a0a8,#189fa8,#189fa8,#189fa9,#189ea9,#199ea9,#199ea9,#199da9,#199daa,#199caa,#199baa,#1a9bab,#1a9aab,#1a99ab)"></div><div style="top:31.93px;height:2.60px;background:linear-gradient(90deg,#30a07f,#30a081,#2fa082,#2ea084,#2da085,#2ca087,#2aa089,#29a08b,#28a08d,#27a08f,#26a090,#25a092,#24a093,#24a095,#23a096,#22a097,#21a098,#21a099,#20a09a,#1fa09c,#1fa09c,#1ea09d,#1ea09e,#1da09f,#1da0a0,#1ca0a1,#1ca0a2,#1ba0a2,#1ba0a3,#1ba0a4,#1aa0a5,#1aa0a5,#19a0a6,#19a0a7,#18a0a8,#18a0a8,#189fa8,#189fa9,#199ea9,#199da9,#199daa,#199caa,#199baa)"></div><div style="top:33.92px;height:2.60px;background:linear-gradient(90deg,#31a079,#31a07a,#30a07c,#30a07e,#30a081,#2ea083,#2da085,#2ca087,#2ba089,#2aa08a,#29a08c,#28a08e,#27a08f,#26a090,#25a092,#25a093,#24a094,#23a095,#23a096,#22a097,#22a098,#21a099,#21a09a,#20a09a,#20a09b,#1fa09c,#1fa09d,#1ea09d,#1ea09e,#1ea09f,#1da09f,#1da0a0,#1ca0a1,#1ca0a2,#1ba0a3,#1ba0a4,#1aa0a5,#19a0a6,#18a0a8,#189fa8,#189fa9,#199ea9,#199da9)"></div><div style="top:35.92px;height:2.60px;background:linear-gradient(90deg,#31a072,#31a073,#31a075,#31a078,#31a07b,#30a07d,#30a080,#2fa082,#2ea084,#2ca086,#2ba088,#2ba089,#2aa08b,#29a08c,#28a08d,#27a08e,#27a08f,#26a090,#26a091,#25a092,#25a093,#24a094,#24a095,#23a095,#23a096,#22a097,#22a097,#22a098,#21a099,#21a099,#20a09a,#20a09b,#20a09b,#1fa09c,#1fa09d,#1ea09e,#1da09f,#1ca0a1,#1ba0a2,#1aa0a4,#19a0a6,#18a0a8,#189fa8)"></div><div style="top:37.91px;height:2.60px;background:linear-gradient(90deg,#32a16b,#32a16c,#32a06e,#32a071,#31a074,#31a077,#31a07a,#30a07d,#30a080,#2fa081,#2ea083,#2da085,#2ca086,#2ca087,#2ba089,#2aa08a,#2aa08b,#29a08c,#28a08d,#28a08e,#27a08e,#27a08f,#27a090,#26a090,#26a091,#25a092,#25a092,#25a093,#24a093,#24a094,#24a095,#23a095,#23a096,#22a097,#22a098,#21a099,#21a09a,#20a09b,#1fa09d,#1ea09e,#1da0a0,#1ba0a2,#1aa0a5)"></div><div style="top:39.91px;height:2.60px;background:linear-gradient(90deg,#33a164,#33a166,#32a168,#32a16a,#32a06d,#32a071,#31a073,#31a076,#31a079,#30a07c,#30a07e,#30a080,#2fa082,#2ea083,#2ea084,#2da085,#2ca086,#2ca087,#2ba088,#2ba089,#2aa089,#2aa08a,#29a08b,#29a08b,#29a08c,#28a08d,#28a08d,#28a08e,#28a08e,#27a08f,#27a08f,#27a090,#26a090,#26a091,#25a092,#25a093,#24a094,#23a096,#22a097,#21a099,#20a09b,#1fa09d,#1da09f)"></div><div style="top:41.90px;height:2.60px;background:linear-gradient(90deg,#34a15d,#33a15f,#33a161,#33a164,#33a167,#32a16a,#32a06d,#32a070,#31a073,#31a075,#31a078,#31a07a,#30a07c,#30a07d,#30a07f,#30a080,#2fa081,#2fa082,#2ea083,#2ea084,#2da085,#2da085,#2ca086,#2ca086,#2ca087,#2ca087,#2ba088,#2ba088,#2ba089,#2aa089,#2aa08a,#2aa08a,#29a08b,#29a08c,#28a08d,#28a08e,#27a08f,#26a090,#26a091,#25a093,#23a095,#22a097,#21a099)"></div><div style="top:43.90px;height:2.60px;background:linear-gradient(90deg,#34a157,#34a158,#34a15b,#34a15d,#33a161,#33a164,#33a167,#32a16a,#32a16c,#32a06f,#32a071,#31a073,#31a075,#31a077,#31a078,#31a07a,#30a07b,#30a07c,#30a07e,#30a07f,#30a07f,#30a080,#30a081,#2fa081,#2fa082,#2fa082,#2ea083,#2ea083,#2ea083,#2ea084,#2da084,#2da085,#2da086,#2ca086,#2ca087,#2ba088,#2ba089,#2aa08a,#29a08c,#28a08d,#27a08f,#26a091,#24a094)"></div><div style="top:45.90px;height:2.60px;background:linear-gradient(90deg,#35a150,#35a152,#34a154,#34a157,#34a15a,#34a15d,#33a160,#33a163,#33a166,#32a168,#32a16a,#32a16c,#32a06e,#32a070,#31a072,#31a073,#31a074,#31a075,#31a076,#31a077,#31a078,#31a079,#31a07a,#31a07a,#31a07b,#30a07b,#30a07c,#30a07d,#30a07d,#30a07e,#30a07e,#30a07f,#30a080,#30a081,#2fa081,#2fa082,#2ea083,#2da085,#2ca086,#2ba088,#2aa08a,#29a08c,#27a08e)"></div><div style="top:47.89px;height:2.60px;background:linear-gradient(90deg,#36a14a,#35a14c,#35a14e,#35a151,#35a154,#34a157,#34a15a,#34a15d,#33a15f,#33a161,#33a164,#33a166,#33a167,#32a169,#32a16b,#32a16c,#32a06d,#32a06e,#32a06f,#32a070,#32a071,#31a072,#31a072,#31a073,#31a073,#31a074,#31a074,#31a075,#31a075,#31a076,#31a077,#31a077,#31a078,#31a079,#31a07a,#30a07b,#30a07d,#30a07f,#30a080,#2fa082,#2ea084,#2ca086,#2ba089)"></div><div style="top:49.89px;height:2.60px;background:linear-gradient(90deg,#36a244,#36a245,#36a148,#35a14b,#35a14e,#35a151,#35a153,#34a156,#34a158,#34a15b,#34a15d,#33a15f,#33a160,#33a162,#33a163,#33a165,#33a166,#33a167,#32a168,#32a169,#32a169,#32a16a,#32a16a,#32a16b,#32a16c,#32a16c,#32a16c,#32a06d,#32a06d,#32a06e,#32a06f,#32a06f,#32a070,#32a071,#31a072,#31a073,#31a075,#31a077,#31a079,#31a07b,#30a07e,#30a081,#2ea083)"></div><div style="top:51.88px;height:2.60px;background:linear-gradient(90deg,#37a23e,#37a240,#36a242,#36a244,#36a147,#36a14a,#35a14d,#35a14f,#35a152,#35a154,#34a156,#34a158,#34a159,#34a15b,#34a15c,#34a15d,#33a15e,#33a15f,#33a160,#33a161,#33a162,#33a162,#33a163,#33a163,#33a164,#33a164,#33a164,#33a165,#33a165,#33a166,#33a167,#33a167,#32a168,#32a169,#32a16a,#32a16b,#32a06d,#32a06f,#32a071,#31a073,#31a076,#31a079,#30a07c)"></div><div style="top:53.88px;height:2.60px;background:linear-gradient(90deg,#37a238,#37a23a,#37a23c,#37a23e,#36a241,#36a244,#36a146,#36a149,#35a14b,#35a14d,#35a14f,#35a150,#35a152,#35a153,#34a155,#34a156,#34a157,#34a158,#34a158,#34a159,#34a15a,#34a15a,#34a15b,#34a15b,#34a15c,#34a15c,#34a15c,#34a15d,#34a15d,#33a15e,#33a15f,#33a15f,#33a160,#33a161,#33a162,#33a163,#33a165,#33a167,#32a169,#32a16b,#32a06e,#32a071,#31a074)"></div><div style="top:55.87px;height:2.60px;background:linear-gradient(90deg,#38a232,#38a234,#38a236,#37a238,#37a23a,#37a23d,#37a23f,#36a242,#36a244,#36a146,#36a147,#36a149,#35a14b,#35a14c,#35a14d,#35a14e,#35a14f,#35a150,#35a151,#35a151,#35a152,#35a152,#35a153,#35a153,#35a153,#35a154,#34a154,#34a155,#34a155,#34a156,#34a156,#34a157,#34a158,#34a159,#34a15a,#34a15c,#34a15d,#33a15f,#33a161,#33a163,#33a166,#32a169,#32a06d)"></div><div style="top:57.87px;height:2.60px;background:linear-gradient(90deg,#3ba333,#3ba233,#39a233,#38a232,#38a234,#38a236,#37a239,#37a23b,#37a23d,#37a23e,#37a240,#36a242,#36a243,#36a244,#36a245,#36a146,#36a147,#36a148,#36a148,#36a149,#36a149,#36a14a,#36a14a,#35a14b,#35a14b,#35a14c,#35a14c,#35a14c,#35a14d,#35a14e,#35a14e,#35a14f,#35a150,#35a151,#35a152,#35a154,#34a155,#34a157,#34a159,#34a15b,#34a15e,#33a161,#33a165)"></div><div style="top:59.86px;height:2.60px;background:linear-gradient(90deg,#3fa335,#3ea335,#3da334,#3ca334,#3ba233,#39a233,#38a232,#38a234,#38a235,#37a237,#37a239,#37a23a,#37a23b,#37a23c,#37a23d,#37a23e,#37a23f,#37a23f,#37a240,#37a241,#36a241,#36a241,#36a242,#36a242,#36a243,#36a243,#36a244,#36a244,#36a245,#36a245,#36a146,#36a147,#36a148,#36a149,#36a14a,#35a14c,#35a14d,#35a14f,#35a151,#35a153,#34a156,#34a159,#34a15d)"></div><div style="top:61.86px;height:2.60px;background:linear-gradient(90deg,#43a436,#42a436,#41a436,#40a335,#3fa335,#3ea334,#3ca334,#3ba333,#3aa233,#3aa233,#39a232,#38a232,#38a233,#38a234,#38a235,#38a236,#38a236,#37a237,#37a237,#37a238,#37a238,#37a239,#37a239,#37a23a,#37a23a,#37a23a,#37a23b,#37a23c,#37a23c,#37a23d,#37a23e,#37a23f,#37a240,#36a241,#36a242,#36a244,#36a245,#36a147,#36a149,#35a14c,#35a14e,#35a152,#34a156)"></div><div style="top:63.85px;height:2.60px;background:linear-gradient(90deg,#46a538,#46a438,#45a437,#44a437,#43a436,#42a436,#41a436,#40a335,#3fa335,#3ea335,#3ea334,#3da334,#3ca334,#3ca334,#3ba333,#3ba333,#3ba233,#3aa233,#3aa233,#3aa233,#3aa233,#39a233,#39a232,#39a232,#38a232,#38a232,#38a232,#38a233,#38a234,#38a234,#38a235,#38a236,#37a238,#37a239,#37a23a,#37a23c,#37a23e,#37a240,#36a242,#36a244,#36a147,#35a14a,#35a14e)"></div><div style="top:65.85px;height:2.60px;background:linear-gradient(90deg,#4aa539,#49a539,#49a539,#48a538,#47a538,#46a438,#45a437,#44a437,#44a437,#43a437,#42a436,#42a436,#41a436,#41a436,#41a436,#40a335,#40a335,#40a335,#40a335,#3fa335,#3fa335,#3fa335,#3fa335,#3ea335,#3ea334,#3ea334,#3da334,#3da334,#3ca334,#3ca334,#3ba333,#3aa233,#3aa233,#39a232,#38a232,#38a234,#38a236,#37a238,#37a23a,#37a23d,#37a240,#36a243,#36a147)"></div><div style="top:67.85px;height:2.60px;background:linear-gradient(90deg,#4ea63b,#4da63b,#4ca63a,#4ca53a,#4ba53a,#4aa53a,#4aa539,#49a539,#48a539,#48a539,#47a538,#47a538,#47a538,#46a538,#46a438,#46a438,#46a438,#45a437,#45a437,#45a437,#45a437,#44a437,#44a437,#44a437,#44a437,#43a437,#43a436,#42a436,#42a436,#41a436,#40a335,#40a335,#3fa335,#3ea334,#3da334,#3ca333,#3aa233,#39a232,#38a233,#38a236,#37a239,#37a23c,#37a240)"></div><div style="top:69.84px;height:2.60px;background:linear-gradient(90deg,#51a63c,#51a63c,#50a63c,#50a63c,#4fa63c,#4fa63b,#4ea63b,#4ea63b,#4da63b,#4da63b,#4ca63a,#4ca63a,#4ca63a,#4ca53a,#4ca53a,#4ba53a,#4ba53a,#4ba53a,#4ba53a,#4ba53a,#4aa53a,#4aa539,#4aa539,#4aa539,#49a539,#49a539,#48a539,#48a538,#47a538,#46a538,#46a438,#45a437,#44a437,#43a436,#42a436,#40a335,#3fa335,#3ea334,#3ca334,#3aa233,#38a232,#38a235,#37a239)"></div><div style="top:71.84px;height:2.60px;background:linear-gradient(90deg,#55a73e,#55a73e,#54a73e,#54a73d,#53a73d,#53a73d,#53a73d,#52a73d,#52a73d,#52a73d,#52a73d,#51a63c,#51a63c,#51a63c,#51a63c,#51a63c,#51a63c,#51a63c,#51a63c,#50a63c,#50a63c,#50a63c,#50a63c,#4fa63c,#4fa63b,#4ea63b,#4ea63b,#4da63b,#4da63a,#4ca53a,#4ba53a,#4aa539,#49a539,#48a539,#47a538,#45a437,#44a437,#42a436,#41a436,#3fa335,#3da334,#3aa233,#38a233)"></div><div style="top:73.83px;height:2.60px;background:linear-gradient(90deg,#59a840,#59a83f,#58a83f,#58a83f,#58a83f,#57a83f,#57a83f,#57a73f,#57a73f,#57a73f,#57a73f,#57a73f,#57a73f,#57a73f,#57a73f,#57a73f,#57a73f,#57a73f,#56a73f,#56a73e,#56a73e,#56a73e,#56a73e,#55a73e,#55a73e,#54a73e,#54a73d,#53a73d,#52a73d,#51a63c,#50a63c,#4fa63c,#4ea63b,#4da63b,#4ca53a,#4aa539,#49a539,#47a538,#45a437,#43a437,#41a436,#3fa335,#3ca334)"></div><div style="top:75.83px;height:2.60px;background:linear-gradient(90deg,#5ea940,#5da940,#5da940,#5da940,#5da840,#5da840,#5da840,#5da840,#5da840,#5da840,#5da840,#5da940,#5da940,#5da940,#5da940,#5da940,#5da940,#5da940,#5da940,#5da940,#5da840,#5ca840,#5ca840,#5ba840,#5ba840,#5aa840,#59a840,#58a83f,#58a83f,#57a73f,#56a73e,#54a73e,#53a73d,#52a73d,#50a63c,#4fa63b,#4da63b,#4ba53a,#4aa539,#47a538,#45a437,#43a436,#40a335)"></div><div style="top:77.82px;height:2.60px;background:linear-gradient(90deg,#63aa40,#63aa40,#63aa40,#63aa40,#63aa40,#63aa40,#63aa40,#63aa40,#64aa40,#64aa40,#64aa40,#64aa40,#65aa40,#65aa40,#65aa40,#65aa40,#65aa40,#65aa40,#65aa40,#65aa40,#65aa40,#64aa40,#64aa40,#63aa40,#63aa40,#62a940,#61a940,#60a940,#5ea940,#5da940,#5ba840,#5aa840,#58a83f,#57a73f,#55a73e,#54a73d,#52a73d,#50a63c,#4ea63b,#4ca53a,#49a539,#47a538,#44a437)"></div><div style="top:79.82px;height:2.60px;background:linear-gradient(90deg,#68ab40,#68aa40,#68ab40,#69ab40,#69ab40,#69ab40,#6aab40,#6aab40,#6aab40,#6bab40,#6bab40,#6cab40,#6cab40,#6dab40,#6dab40,#6dab40,#6dab40,#6dab40,#6dab40,#6dab40,#6dab40,#6dab40,#6cab40,#6bab40,#6bab40,#6aab40,#69ab40,#67aa40,#66aa40,#64aa40,#63aa40,#61a940,#5fa940,#5da840,#5aa840,#59a83f,#57a73f,#55a73e,#52a73d,#50a63c,#4ea63b,#4ba53a,#48a539)"></div><div style="top:81.81px;height:2.60px;background:linear-gradient(90deg,#6eab40,#6eab40,#6eac40,#6eac40,#6fac40,#70ac40,#70ac40,#71ac40,#72ac40,#72ac40,#73ac40,#73ac40,#74ad40,#75ad40,#75ad40,#75ad40,#76ad40,#76ad40,#76ad40,#76ad40,#75ad40,#75ad40,#74ad40,#74ac40,#73ac40,#72ac40,#70ac40,#6fac40,#6eab40,#6cab40,#6aab40,#68aa40,#66aa40,#64aa40,#61a940,#5fa940,#5ca840,#59a840,#57a73f,#54a73e,#52a73d,#4fa63c,#4ca63a)"></div><div style="top:83.81px;height:2.60px;background:linear-gradient(90deg,#74ac40,#74ac40,#74ad40,#75ad40,#75ad40,#76ad40,#77ad40,#78ad40,#79ad40,#7aad40,#7aae40,#7bae40,#7cae40,#7dae40,#7dae40,#7dae40,#7eae40,#7eae40,#7eae40,#7eae40,#7eae40,#7dae40,#7dae40,#7cae40,#7bae40,#7aae40,#78ad40,#77ad40,#75ad40,#73ac40,#71ac40,#6fac40,#6dab40,#6aab40,#68aa40,#65aa40,#62a940,#5fa940,#5ca840,#59a83f,#56a73e,#53a73d,#51a63c)"></div><div style="top:85.80px;height:2.60px;background:linear-gradient(90deg,#79ad40,#79ad40,#7aae40,#7bae40,#7cae40,#7dae40,#7eae40,#7fae40,#80af40,#81af40,#82af40,#83af40,#84af40,#85af40,#85b040,#86b040,#86b040,#86b040,#86b040,#86b040,#86b040,#86b040,#85af40,#84af40,#83af40,#82af40,#80af40,#7fae40,#7dae40,#7bae40,#79ad40,#76ad40,#74ad40,#71ac40,#6fac40,#6cab40,#68ab40,#65aa40,#62a940,#5ea940,#5aa840,#57a83f,#55a73e)"></div><div style="top:87.80px;height:2.60px;background:linear-gradient(90deg,#7fae40,#7fae40,#80af40,#81af40,#82af40,#83af40,#85af40,#86b040,#87b040,#88b040,#89b040,#89b040,#89b040,#8ab03f,#8ab03f,#8ab13f,#8ab13f,#8ab13f,#8ab13f,#8ab13f,#8ab13f,#8ab13f,#8ab03f,#89b03f,#89b040,#89b040,#88b040,#87b040,#85af40,#82af40,#80af40,#7eae40,#7bae40,#78ad40,#75ad40,#72ac40,#6fac40,#6bab40,#68aa40,#64aa40,#60a940,#5ca840,#59a83f)"></div><div style="top:89.80px;height:2.60px;background:linear-gradient(90deg,#85af40,#85b040,#86b040,#87b040,#88b040,#89b040,#89b040,#8ab03f,#8ab13f,#8bb13f,#8bb13f,#8cb13f,#8cb13e,#8cb13e,#8db13e,#8db13e,#8db13e,#8db13e,#8db13e,#8db13e,#8db13e,#8db13e,#8db13e,#8cb13e,#8cb13f,#8bb13f,#8bb13f,#8ab13f,#8ab03f,#89b040,#88b040,#85af40,#82af40,#7fae40,#7cae40,#79ad40,#75ad40,#72ac40,#6eab40,#6aab40,#66aa40,#62a940,#5ea940)"></div><div style="top:91.79px;height:2.60px;background:linear-gradient(90deg,#89b040,#89b040,#8ab03f,#8ab03f,#8bb13f,#8bb13f,#8cb13f,#8cb13e,#8db13e,#8eb13e,#8eb23e,#8fb23e,#8fb23d,#8fb23d,#90b23d,#90b23d,#90b23d,#90b23d,#90b23d,#90b23d,#90b23d,#90b23d,#90b23d,#8fb23d,#8fb23d,#8eb23e,#8eb13e,#8db13e,#8cb13e,#8bb13f,#8ab13f,#8ab03f,#88b040,#86b040,#83af40,#7fae40,#7cae40,#78ad40,#74ad40,#70ac40,#6cab40,#68aa40,#63aa40)"></div><div style="top:93.79px;height:2.60px;background:linear-gradient(90deg,#8bb13f,#8bb13f,#8cb13f,#8cb13e,#8db13e,#8eb13e,#8eb23e,#8fb23d,#90b23d,#90b23d,#91b23d,#91b23d,#92b23c,#92b33c,#93b33c,#93b33c,#93b33c,#93b33c,#93b33c,#93b33c,#93b33c,#93b33c,#93b33c,#92b33c,#92b23c,#91b23d,#90b23d,#90b23d,#8fb23d,#8eb23e,#8db13e,#8cb13e,#8bb13f,#8ab03f,#89b040,#86b040,#82af40,#7eae40,#7aae40,#76ad40,#71ac40,#6dab40,#69ab40)"></div><div style="top:95.78px;height:2.60px;background:linear-gradient(90deg,#8db13e,#8eb13e,#8eb23e,#8fb23e,#8fb23d,#90b23d,#91b23d,#92b23c,#92b33c,#93b33c,#94b33c,#94b33b,#95b33b,#95b33b,#95b33b,#96b33b,#96b43b,#96b43b,#96b43b,#96b43b,#96b43b,#96b33b,#95b33b,#95b33b,#95b33b,#94b33c,#93b33c,#93b33c,#92b23c,#91b23d,#90b23d,#8fb23e,#8db13e,#8cb13e,#8bb13f,#8ab03f,#88b040,#84af40,#80af40,#7cae40,#77ad40,#73ac40,#6fac40)"></div><div style="top:97.78px;height:2.60px;background:linear-gradient(90deg,#90b23d,#90b23d,#90b23d,#91b23d,#92b23c,#93b33c,#94b33c,#94b33b,#95b33b,#96b33b,#96b43b,#97b43a,#98b43a,#98b43a,#99b43a,#99b439,#99b439,#9ab439,#9ab439,#9ab439,#99b439,#99b439,#99b43a,#98b43a,#97b43a,#97b43a,#96b43b,#95b33b,#94b33b,#93b33c,#92b33c,#91b23d,#90b23d,#8fb23d,#8db13e,#8cb13f,#8bb13f,#89b040,#86b040,#82af40,#7dae40,#79ad40,#74ad40)"></div><div style="top:99.77px;height:2.60px;background:linear-gradient(90deg,#92b23c,#92b33c,#93b33c,#94b33c,#94b33b,#95b33b,#96b43b,#97b43a,#98b43a,#99b43a,#9ab439,#9bb539,#9cb538,#9cb538,#9db537,#9db537,#9eb537,#9eb537,#9eb537,#9eb537,#9eb537,#9db537,#9db537,#9cb538,#9bb538,#9ab539,#99b439,#98b43a,#97b43a,#96b43b,#95b33b,#94b33c,#93b33c,#91b23d,#90b23d,#8eb23e,#8db13e,#8bb13f,#8ab03f,#88b040,#83af40,#7eae40,#7aae40)"></div><div style="top:101.77px;height:2.60px;background:linear-gradient(90deg,#94b33b,#95b33b,#95b33b,#96b43b,#97b43a,#98b43a,#99b439,#9bb539,#9cb538,#9db537,#9eb537,#9fb636,#a0b636,#a1b636,#a1b635,#a2b635,#a2b635,#a2b635,#a2b635,#a2b635,#a2b635,#a2b635,#a1b635,#a0b636,#9fb636,#9fb537,#9db537,#9cb538,#9bb539,#99b439,#98b43a,#96b43b,#95b33b,#94b33c,#92b33c,#91b23d,#8fb23d,#8db13e,#8cb13f,#8ab13f,#88b040,#84af40,#80af40)"></div><div style="top:103.76px;height:2.60px;background:linear-gradient(90deg,#97b43a,#97b43a,#98b43a,#99b43a,#9ab539,#9cb538,#9db537,#9fb537,#a0b636,#a1b635,#a2b635,#a3b634,#a4b734,#a5b733,#a5b733,#a6b733,#a6b733,#a6b732,#a7b732,#a6b732,#a6b733,#a6b733,#a5b733,#a5b733,#a4b734,#a3b634,#a1b635,#a0b636,#9fb537,#9db537,#9bb538,#99b439,#98b43a,#96b43b,#95b33b,#93b33c,#91b23c,#90b23d,#8eb13e,#8cb13e,#8ab13f,#89b040,#85b040)"></div><div style="top:105.76px;height:2.60px;background:linear-gradient(90deg,#9ab439,#9ab539,#9bb538,#9db537,#9eb537,#a0b636,#a1b635,#a3b634,#a4b734,#a5b733,#a7b732,#a8b732,#a8b831,#a9b831,#aab831,#aab830,#abb830,#abb830,#abb830,#abb830,#aab830,#aab831,#a9b831,#a9b831,#a8b732,#a7b732,#a6b733,#a4b734,#a3b634,#a1b635,#9fb636,#9db537,#9bb538,#99b439,#97b43a,#96b33b,#94b33c,#92b33c,#90b23d,#8eb23e,#8db13e,#8bb13f,#89b040)"></div><div style="top:107.75px;height:2.60px;background:linear-gradient(90deg,#9eb537,#9eb537,#9fb636,#a1b635,#a2b635,#a4b734,#a5b733,#a7b732,#a8b831,#aab831,#abb830,#acb830,#adb92f,#aeb92f,#aeb92e,#afb92e,#afb92e,#afb92e,#afb92e,#afb92e,#afb92e,#aeb92e,#aeb92f,#adb92f,#acb830,#abb830,#aab831,#a8b832,#a7b732,#a5b733,#a3b634,#a1b635,#9fb636,#9db538,#9ab539,#98b43a,#96b43b,#94b33b,#92b33c,#91b23d,#8fb23e,#8db13e,#8bb13f)"></div><div style="top:109.75px;height:2.60px;background:linear-gradient(90deg,#a2b635,#a2b635,#a3b634,#a5b733,#a6b732,#a8b732,#aab831,#abb830,#adb82f,#aeb92f,#afb92e,#b0b92e,#b1ba2e,#b2ba2e,#b3ba2e,#b4ba2e,#b4ba2e,#b4ba2e,#b4ba2e,#b4ba2e,#b4ba2e,#b3ba2e,#b2ba2e,#b1ba2e,#b0b92e,#afb92e,#aeb92f,#acb82f,#abb830,#a9b831,#a7b732,#a5b733,#a3b634,#a0b636,#9eb537,#9bb538,#99b43a,#97b43a,#95b33b,#93b33c,#91b23d,#8fb23d,#8db13e)"></div><div style="top:111.75px;height:2.60px;background:linear-gradient(90deg,#a6b733,#a6b732,#a8b732,#a9b831,#abb830,#acb82f,#aeb92f,#b0b92e,#b1ba2e,#b3ba2e,#b4ba2e,#b5bb2e,#b6bb2e,#b7bb2e,#b8bb2e,#b8bc2e,#b9bc2e,#b9bc2e,#b9bc2e,#b9bc2e,#b8bc2e,#b8bb2e,#b7bb2e,#b6bb2e,#b5bb2e,#b4ba2e,#b2ba2e,#b1b92e,#afb92e,#adb92f,#abb830,#a9b831,#a7b732,#a4b734,#a2b635,#9fb636,#9cb538,#9ab439,#97b43a,#95b33b,#93b33c,#91b23d,#8fb23d)"></div><div style="top:113.74px;height:2.60px;background:linear-gradient(90deg,#aab831,#abb830,#acb830,#adb92f,#afb92e,#b1ba2e,#b3ba2e,#b4bb2e,#b6bb2e,#b8bb2e,#b9bc2e,#babc2e,#bbbc2e,#bcbd2e,#bdbd2e,#bdbd2e,#bebd2e,#bebd2e,#bebd2e,#bebd2e,#bdbd2e,#bdbd2e,#bcbd2e,#bbbc2e,#babc2e,#b8bc2e,#b7bb2e,#b5bb2e,#b3ba2e,#b1ba2e,#afb92e,#adb92f,#aab830,#a8b732,#a5b733,#a3b634,#a0b636,#9db537,#9ab439,#97b43a,#95b33b,#93b33c,#91b23c)"></div><div style="top:115.74px;height:2.60px;background:linear-gradient(90deg,#aeb92f,#afb92e,#b0b92e,#b2ba2e,#b4ba2e,#b6bb2e,#b8bb2e,#b9bc2e,#bbbc2e,#bdbd2e,#bebd2e,#bfbe2e,#c0be2e,#c1be2e,#c2be2e,#c2be2e,#c3bf2e,#c3bf2e,#c3bf2e,#c3be2e,#c2be2e,#c1be2e,#c1be2e,#c0be2e,#bebd2e,#bdbd2e,#bcbd2e,#babc2e,#b8bb2e,#b6bb2e,#b3ba2e,#b1ba2e,#aeb92e,#acb830,#a9b831,#a6b733,#a3b634,#a0b636,#9db537,#9ab439,#97b43a,#95b33b,#94b33c)"></div><div style="top:117.73px;height:2.60px;background:linear-gradient(90deg,#b2ba2e,#b4ba2e,#b5bb2e,#b7bb2e,#b9bc2e,#bbbc2e,#bdbd2e,#bebd2e,#c0be2e,#c2be2e,#c3bf2e,#c4bf2e,#c5bf2e,#c6c02e,#c7c02e,#c7c02e,#c8c02e,#c8c02e,#c8c02e,#c8c02e,#c7c02e,#c6c02e,#c6bf2e,#c5bf2e,#c3bf2e,#c2be2e,#c0be2e,#bebd2e,#bcbd2e,#babc2e,#b8bb2e,#b5bb2e,#b3ba2e,#b0b92e,#adb92f,#aab831,#a7b732,#a4b734,#a1b635,#9eb537,#9ab539,#98b43a,#96b33b)"></div><div style="top:119.73px;height:2.60px;background:linear-gradient(90deg,#b7bb2e,#b8bc2e,#babc2e,#bcbd2e,#bebd2e,#c0be2e,#c2be2e,#c3bf2e,#c5bf2e,#c7c02e,#c8c02e,#cac02f,#cbc030,#ccc031,#cdc031,#cdc031,#cec032,#cec032,#cec032,#cdc031,#cdc031,#ccc031,#cbc030,#cac02f,#c8c02e,#c7c02e,#c5bf2e,#c3bf2e,#c1be2e,#bfbd2e,#bcbd2e,#babc2e,#b7bb2e,#b4ba2e,#b1ba2e,#aeb92f,#abb830,#a8b732,#a4b734,#a1b635,#9eb537,#9bb539,#98b43a)"></div><div style="top:121.72px;height:2.60px;background:linear-gradient(90deg,#bcbd2e,#bdbd2e,#bfbd2e,#c1be2e,#c3be2e,#c5bf2e,#c7c02e,#c9c02e,#cbc030,#cdc031,#cec032,#d0c033,#d1c034,#d2c034,#d3c035,#d3c035,#d4c036,#d4c036,#d4c036,#d3c035,#d3c035,#d2c034,#d1c034,#d0c033,#cec032,#ccc031,#cac02f,#c8c02e,#c6bf2e,#c3bf2e,#c1be2e,#bebd2e,#bbbc2e,#b8bc2e,#b5bb2e,#b2ba2e,#aeb92e,#abb830,#a8b732,#a5b733,#a1b635,#9eb537,#9cb538)"></div><div style="top:123.72px;height:2.60px;background:linear-gradient(90deg,#c1be2e,#c2be2e,#c4bf2e,#c6bf2e,#c8c02e,#cac02f,#ccc031,#cfc032,#d1c034,#d3c035,#d4c036,#d6c037,#d7bf38,#d8bf38,#d9bf39,#d9bf39,#dabf39,#dabf3a,#dabf39,#d9bf39,#d9bf39,#d8bf38,#d7bf37,#d5c037,#d4c036,#d2c034,#d0c033,#cdc032,#cbc030,#c8c02e,#c6bf2e,#c3bf2e,#c0be2e,#bdbd2e,#b9bc2e,#b6bb2e,#b3ba2e,#afb92e,#acb830,#a8b832,#a5b733,#a2b635,#9fb636)"></div><div style="top:125.71px;height:2.60px;background:linear-gradient(90deg,#c6bf2e,#c7c02e,#c9c02f,#cbc030,#cec032,#d0c033,#d3c035,#d5c036,#d7bf38,#d9bf39,#dbbf3a,#dcbf3b,#ddbf3c,#debf3c,#dfbf3d,#e0bf3d,#e0bf3d,#e0bf3e,#e0bf3d,#e0bf3d,#dfbf3d,#debf3c,#ddbf3b,#dbbf3a,#dabf39,#d8bf38,#d6c037,#d3c035,#d1c033,#cec032,#cbc030,#c7c02e,#c4bf2e,#c1be2e,#bebd2e,#babc2e,#b7bb2e,#b3ba2e,#afb92e,#acb830,#a9b831,#a5b733,#a3b634)"></div><div style="top:127.71px;height:2.60px;background:linear-gradient(90deg,#cbc030,#cdc031,#cfc032,#d1c034,#d4c036,#d6bf37,#d9bf39,#dbbf3a,#ddbf3c,#dfbf3d,#e1bf3e,#e2bf3f,#e4bf40,#e4bf40,#e5be40,#e5be41,#e6be41,#e6be41,#e6be41,#e5be41,#e5bf40,#e4bf40,#e3bf3f,#e2bf3e,#e0bf3d,#debf3c,#dbbf3b,#d9bf39,#d6bf37,#d3c035,#d0c033,#cdc031,#c9c02f,#c6bf2e,#c2be2e,#bfbd2e,#bbbc2e,#b7bb2e,#b3ba2e,#b0b92e,#acb82f,#a9b831,#a6b733)"></div><div style="top:129.70px;height:2.60px;background:linear-gradient(90deg,#d1c034,#d3c035,#d5c036,#d7bf38,#dabf39,#dcbf3b,#dfbf3d,#e1bf3e,#e3bf40,#e5be40,#e6be41,#e7bd41,#e8bd42,#e9bc42,#eabc42,#eabc42,#eabc43,#eabc43,#eabc42,#eabc42,#e9bc42,#e9bc42,#e8bd42,#e7be41,#e5be41,#e4bf40,#e1bf3e,#dfbf3d,#dcbf3b,#d9bf39,#d6c037,#d2c035,#cec032,#cbc030,#c7c02e,#c3bf2e,#bfbe2e,#bbbc2e,#b8bb2e,#b4ba2e,#b0b92e,#adb92f,#aab831)"></div><div style="top:131.70px;height:2.60px;background:linear-gradient(90deg,#d7bf37,#d8bf39,#dbbf3a,#ddbf3c,#e0bf3d,#e3bf3f,#e5bf40,#e7be41,#e8bd42,#e9bc42,#ebbb43,#ecbb43,#edba44,#eeba44,#eeb944,#efb944,#efb944,#efb944,#efb944,#efb944,#eeb944,#edba44,#ecba43,#ebbb43,#eabc42,#e8bd42,#e6be41,#e5bf40,#e2bf3f,#dfbf3d,#dbbf3a,#d8bf38,#d4c036,#d0c033,#ccc030,#c8c02e,#c4bf2e,#c0be2e,#bcbd2e,#b8bc2e,#b4ba2e,#b1b92e,#aeb92f)"></div><div style="top:133.70px;height:2.60px;background:linear-gradient(90deg,#dcbf3b,#debf3c,#e1bf3e,#e3bf40,#e6be41,#e7bd41,#e9bc42,#ebbb43,#edba43,#eeba44,#efb945,#f0b845,#f1b845,#f2b746,#f3b746,#f3b746,#f4b646,#f4b646,#f4b646,#f3b746,#f3b746,#f2b746,#f1b845,#f0b945,#eeb944,#edba43,#ebbb43,#e9bc42,#e7be41,#e4bf40,#e1bf3e,#ddbf3c,#d9bf39,#d5c037,#d1c034,#cdc031,#c8c02e,#c4bf2e,#c0be2e,#bcbd2e,#b8bc2e,#b5bb2e,#b2ba2e)"></div><div style="top:135.69px;height:2.60px;background:linear-gradient(90deg,#e2bf3f,#e4bf40,#e6be41,#e8bd42,#eabc42,#ecbb43,#eeba44,#efb945,#f1b845,#f3b746,#f4b646,#f5b647,#f6b547,#f7b548,#f8b448,#f8b448,#f8b447,#f8b447,#f8b447,#f8b448,#f8b448,#f7b548,#f6b547,#f4b647,#f3b746,#f1b845,#efb945,#edba44,#ebbb43,#e9bd42,#e6be41,#e3bf3f,#dfbf3d,#dbbf3a,#d7bf37,#d2c034,#cdc032,#c9c02e,#c5bf2e,#c1be2e,#bdbd2e,#b9bc2e,#b6bb2e)"></div><div style="top:137.69px;height:2.60px;background:linear-gradient(90deg,#e7bd41,#e9bc42,#eabc43,#ecba43,#eeb944,#f0b845,#f2b746,#f4b646,#f6b547,#f7b448,#f8b447,#f8b345,#f8b243,#f8b242,#f8b141,#f9b140,#f9b13f,#f9b13f,#f9b13f,#f9b140,#f8b141,#f8b242,#f8b244,#f8b346,#f8b448,#f6b547,#f4b646,#f2b845,#efb944,#edba43,#eabc42,#e7bd41,#e4bf40,#e0bf3e,#dcbf3b,#d7bf38,#d3c035,#cec032,#c9c02f,#c5bf2e,#c1be2e,#bdbd2e,#babc2e)"></div><div style="top:139.68px;height:2.60px;background:linear-gradient(90deg,#ebbb43,#edba44,#efb944,#f1b845,#f3b746,#f5b647,#f7b548,#f8b447,#f8b344,#f8b242,#f9b140,#f9b03d,#f9af3c,#f9af3a,#f9ae39,#f9ae38,#f9ae37,#f9ae37,#f9ae37,#f9ae38,#f9ae39,#f9af3a,#f9af3c,#f9b03e,#f8b141,#f8b244,#f8b447,#f6b547,#f4b646,#f1b845,#eeb944,#ebbb43,#e8bd42,#e5be41,#e2bf3e,#ddbf3b,#d8bf38,#d3c035,#cec032,#c9c02f,#c5bf2e,#c2be2e,#bebd2e)"></div><div style="top:141.68px;height:2.60px;background:linear-gradient(90deg,#f0b845,#f1b845,#f3b746,#f5b647,#f7b448,#f8b346,#f8b243,#f9b140,#f9b03d,#f9af3a,#f9ae38,#f9ad36,#f9ac34,#f9ac32,#f9ab31,#faab30,#faab2f,#faab2f,#faab2f,#faab2f,#f9ab30,#f9ac32,#f9ac34,#f9ad36,#f9ae39,#f9b03c,#f9b140,#f8b244,#f8b448,#f5b547,#f3b746,#f0b945,#edba43,#e9bc42,#e6be41,#e2bf3f,#ddbf3c,#d9bf39,#d4c035,#cfc032,#cac02f,#c6bf2e,#c2be2e)"></div><div style="top:143.67px;height:2.60px;background:linear-gradient(90deg,#f4b647,#f6b547,#f8b448,#f8b345,#f8b242,#f9b03e,#f9af3b,#f9ae38,#f9ad35,#f9ac33,#f9ab30,#faaa2e,#faaa2c,#faa92a,#faa829,#faa828,#faa828,#faa728,#faa728,#faa828,#faa828,#faa92a,#faa92c,#faaa2e,#f9ab31,#f9ad34,#f9ae38,#f9b03c,#f8b141,#f8b345,#f7b548,#f4b646,#f1b845,#edba44,#eabc42,#e7bd41,#e3bf3f,#debf3c,#d9bf39,#d4c036,#cfc032,#cbc030,#c7c02e)"></div><div style="top:145.67px;height:2.60px;background:linear-gradient(90deg,#f8b347,#f8b244,#f8b141,#f9b03e,#f9af3a,#f9ae37,#f9ac34,#f9ab31,#faaa2e,#faa92b,#faa829,#faa728,#faa628,#faa527,#faa527,#faa427,#faa427,#faa427,#faa427,#faa427,#faa427,#faa527,#faa627,#faa728,#faa829,#faaa2d,#f9ab30,#f9ad35,#f9ae39,#f9b03e,#f8b243,#f8b448,#f5b647,#f1b845,#eeb944,#ebbb43,#e7bd41,#e3bf40,#debf3c,#d9bf39,#d4c036,#d0c033,#ccc030)"></div><div style="top:147.66px;height:2.60px;background:linear-gradient(90deg,#f9b13f,#f9b03d,#f9af3a,#f9ad36,#f9ac33,#faab30,#faaa2c,#faa829,#faa728,#faa627,#faa527,#faa427,#faa327,#faa226,#faa126,#faa126,#faa026,#faa026,#faa026,#faa026,#faa126,#faa126,#faa226,#faa327,#faa527,#faa728,#faa829,#faaa2d,#f9ac32,#f9ae37,#f9af3c,#f8b141,#f8b347,#f6b547,#f2b746,#efb944,#ebbb43,#e7bd41,#e3bf40,#debf3c,#d9bf39,#d5c036,#d1c034)"></div><div style="top:149.66px;height:2.60px;background:linear-gradient(90deg,#f9ae38,#f9ad35,#f9ac32,#faab2f,#faa92b,#faa828,#faa728,#faa527,#faa427,#faa326,#faa126,#faa026,#fa9f26,#fa9e25,#fa9e25,#fa9d25,#fa9d25,#fa9c25,#fa9c25,#fa9c25,#fa9d25,#fa9e25,#fa9f25,#faa026,#faa126,#faa327,#faa527,#faa728,#faa92a,#faab30,#f9ad35,#f9af3a,#f9b140,#f8b345,#f6b547,#f3b746,#efb944,#ebbb43,#e7bd41,#e4bf40,#debf3c,#dabf39,#d6c037)"></div><div style="top:151.65px;height:2.60px;background:linear-gradient(90deg,#f9ab30,#faaa2e,#faa92b,#faa828,#faa627,#faa527,#faa327,#faa226,#faa026,#fa9f25,#fa9e25,#fa9d25,#fa9c25,#fa9b24,#fa9a24,#f99924,#f99924,#f99924,#f99924,#f99924,#f99924,#f99a24,#fa9b24,#fa9c25,#fa9e25,#fa9f26,#faa126,#faa427,#faa627,#faa828,#faaa2e,#f9ac33,#f9ae39,#f9b13f,#f8b345,#f7b547,#f3b746,#efb944,#ebbb43,#e7bd41,#e4bf40,#dfbf3d,#dbbf3a)"></div><div style="top:153.65px;height:2.60px;background:linear-gradient(90deg,#faa829,#faa728,#faa627,#faa427,#faa327,#faa126,#faa026,#fa9f25,#fa9d25,#fa9c25,#fa9b24,#f99924,#f99824,#f99723,#f99623,#f99623,#f99523,#f99523,#f99523,#f99523,#f99523,#f99623,#f99723,#f99924,#fa9a24,#fa9c25,#fa9e25,#faa026,#faa326,#faa527,#faa728,#faaa2c,#f9ac32,#f9ae38,#f9b03e,#f8b244,#f7b548,#f3b746,#efb944,#ebbb43,#e8bd41,#e4bf40,#e0bf3e)"></div><div style="top:155.65px;height:2.60px;background:linear-gradient(90deg,#faa527,#faa427,#faa226,#faa126,#faa026,#fa9e25,#fa9d25,#fa9b24,#f99a24,#f99824,#f99723,#f99623,#f99523,#f99422,#f99322,#f99222,#f99222,#f99122,#f99121,#f99122,#f99222,#f99222,#f99322,#f99523,#f99623,#f99824,#fa9a24,#fa9d25,#fa9f25,#faa226,#faa427,#faa728,#faa92b,#f9ab31,#f9ae37,#f9b03d,#f8b244,#f7b548,#f3b746,#efb944,#ebbb43,#e8bd42,#e5be41)"></div><div style="top:157.64px;height:2.60px;background:linear-gradient(90deg,#faa226,#faa126,#fa9f25,#fa9e25,#fa9c25,#fa9b24,#f99924,#f99823,#f99623,#f99523,#f99422,#f99222,#f99122,#f99021,#f98f21,#f98f21,#f98e21,#f98e20,#f98d20,#f98e20,#f98e21,#f98f21,#f99021,#f99121,#f99322,#f99523,#f99723,#f99924,#fa9c25,#fa9e25,#faa126,#faa427,#faa628,#faa92b,#f9ab31,#f9ae37,#f9b03d,#f8b243,#f7b548,#f3b746,#efb945,#ecbb43,#e9bc42)"></div><div style="top:159.64px;height:2.60px;background:linear-gradient(90deg,#fa9f25,#fa9d25,#fa9c25,#fa9a24,#f99924,#f99723,#f99623,#f99422,#f99322,#f99222,#f99021,#f98f21,#f98e20,#f98d20,#f98c20,#f98a21,#f88921,#f88821,#f88821,#f88821,#f88921,#f98a21,#f98c20,#f98e20,#f98f21,#f99121,#f99322,#f99623,#f99824,#fa9b24,#fa9e25,#faa126,#faa327,#faa627,#faa92a,#f9ab30,#f9ad37,#f9b03d,#f8b243,#f7b448,#f3b646,#f0b845,#edba44)"></div><div style="top:161.63px;height:2.60px;background:linear-gradient(90deg,#fa9b24,#f99a24,#f99924,#f99723,#f99623,#f99422,#f99322,#f99121,#f99021,#f98e21,#f98d20,#f98b20,#f88921,#f88722,#f78523,#f78423,#f78223,#f68224,#f68124,#f68224,#f78224,#f78423,#f78622,#f88821,#f98b20,#f98e20,#f99021,#f99222,#f99523,#f99823,#fa9b24,#fa9d25,#faa026,#faa327,#faa627,#faa92a,#faab30,#f9ad36,#f9b03d,#f8b243,#f8b448,#f4b647,#f2b845)"></div><div style="top:163.63px;height:2.60px;background:linear-gradient(90deg,#f99823,#f99723,#f99523,#f99422,#f99222,#f99121,#f98f21,#f98e20,#f98c20,#f88a21,#f88722,#f78523,#f78223,#f68024,#f67f25,#f57d25,#f57c26,#f57b26,#f57b26,#f57b26,#f57c26,#f57d25,#f67f25,#f68224,#f78523,#f88921,#f98c20,#f98f21,#f99222,#f99422,#f99723,#fa9a24,#fa9d25,#faa026,#faa327,#faa627,#faa829,#faab30,#f9ad36,#f9af3c,#f8b242,#f8b447,#f6b547)"></div><div style="top:165.62px;height:2.60px;background:linear-gradient(90deg,#f99523,#f99322,#f99222,#f99021,#f98f21,#f98d20,#f98c20,#f88921,#f88622,#f78323,#f68124,#f67e25,#f57c26,#f57a27,#f47827,#f47728,#f37528,#f37528,#f37429,#f37429,#f37528,#f47728,#f47827,#f57b26,#f67e25,#f78224,#f88622,#f98b20,#f98e21,#f99121,#f99422,#f99723,#f99a24,#fa9d25,#faa026,#faa326,#faa527,#faa829,#faab2f,#f9ad35,#f9af3b,#f9b140,#f8b344)"></div><div style="top:167.62px;height:2.60px;background:linear-gradient(90deg,#f99222,#f99021,#f98f21,#f98d20,#f98b20,#f88821,#f78522,#f78323,#f68024,#f57d25,#f57b26,#f47827,#f37628,#f37429,#f27229,#f2702a,#f26f2b,#f26e2b,#f16e2b,#f26e2b,#f26f2b,#f2702a,#f27229,#f37529,#f47827,#f57c26,#f68024,#f78523,#f88a21,#f98e21,#f99121,#f99422,#f99723,#f99a24,#fa9d25,#faa026,#faa226,#faa527,#faa828,#faaa2e,#f9ac34,#f9ae39,#f9b03d)"></div><div style="top:169.61px;height:2.60px;background:linear-gradient(90deg,#f98e21,#f98d20,#f98b20,#f88821,#f78523,#f78224,#f67f25,#f57d26,#f47a27,#f47728,#f37429,#f27229,#f2702a,#f16d2b,#f16c2c,#f16a2c,#f0692d,#f0682d,#f0682d,#f0682d,#f0682d,#f06a2d,#f16c2c,#f26e2b,#f2712a,#f37528,#f47a27,#f67e25,#f78423,#f88921,#f98d20,#f99021,#f99422,#f99723,#f99a24,#fa9c25,#fa9f26,#faa226,#faa527,#faa728,#faaa2c,#f9ac31,#f9ad36)"></div><div style="top:171.61px;height:2.60px;background:linear-gradient(90deg,#f98a21,#f88822,#f78523,#f68224,#f67f25,#f57c26,#f47927,#f47728,#f37429,#f2712a,#f26e2b,#f16c2c,#f0692d,#f0672d,#ef652e,#ef642f,#ef632f,#ee622f,#ee6130,#ee6130,#ee622f,#ef632f,#ef652e,#f0682d,#f16b2c,#f26f2b,#f37329,#f47827,#f57d25,#f78323,#f88821,#f98d20,#f99021,#f99322,#f99623,#f99924,#fa9c25,#fa9f25,#faa226,#faa427,#faa728,#faa92a,#faaa2f)"></div><div style="top:173.60px;height:2.60px;background:linear-gradient(90deg,#f78523,#f68224,#f67f25,#f57c26,#f47927,#f47628,#f37329,#f2712a,#f16e2b,#f16b2c,#f0682d,#ef662e,#ef632f,#ee6130,#ee5f31,#ed5d32,#ec5b33,#ec5a34,#ec5a34,#ec5a34,#ec5b34,#ed5c33,#ed5e31,#ee6130,#ef652e,#f0682d,#f16d2b,#f2722a,#f47728,#f57c26,#f78224,#f88821,#f98d20,#f99021,#f99322,#f99623,#f99924,#fa9c25,#fa9e25,#faa126,#faa327,#faa627,#faa828)"></div><div style="top:175.60px;height:2.60px;background:linear-gradient(90deg,#f67f25,#f57c26,#f47927,#f47628,#f37329,#f2702a,#f16d2b,#f16b2c,#f0682d,#ef652e,#ef622f,#ee6030,#ed5d32,#ec5a34,#eb5836,#ea5637,#e95438,#e95339,#e95239,#e95239,#e95339,#ea5438,#ea5736,#ec5a34,#ed5e31,#ef622f,#f0662e,#f16b2c,#f2712a,#f47628,#f57c26,#f68224,#f88822,#f98d20,#f99021,#f99322,#f99623,#f99924,#fa9b24,#fa9e25,#faa026,#faa226,#faa427)"></div><div style="top:177.60px;height:2.60px;background:linear-gradient(90deg,#f47927,#f47628,#f37329,#f2702a,#f16d2b,#f16b2c,#f0682d,#ef652e,#ee622f,#ee5f31,#ec5c33,#eb5835,#ea5637,#e95339,#e8503a,#e74e3c,#e64d3d,#e64b3e,#e64b3e,#e64b3e,#e64b3e,#e74d3d,#e74f3b,#e95239,#ea5637,#ec5b34,#ee6030,#ef652e,#f16a2c,#f2702a,#f37628,#f57b26,#f68124,#f88722,#f98d20,#f99021,#f99322,#f99523,#f99823,#fa9a24,#fa9d25,#fa9f25,#faa126)"></div><div style="top:179.59px;height:2.60px;background:linear-gradient(90deg,#f37429,#f2712a,#f16e2b,#f16b2c,#f0682d,#ef652e,#ee622f,#ee5f31,#ec5b33,#eb5835,#ea5538,#e8513a,#e74e3c,#e64c3e,#e5493f,#e44741,#e44542,#e34443,#e34343,#e34343,#e34443,#e44542,#e44840,#e64b3e,#e74e3c,#e95339,#eb5835,#ed5e31,#ef642f,#f0692d,#f26f2a,#f37528,#f57b26,#f68124,#f88722,#f98c20,#f98f21,#f99222,#f99522,#f99723,#f99924,#fa9c24,#fa9e25)"></div><div style="top:181.59px;height:2.60px;background:linear-gradient(90deg,#f26e2b,#f16b2c,#f0682d,#ef652e,#ef622f,#ee5f31,#ec5b33,#eb5835,#e95438,#e8513a,#e74e3c,#e64a3e,#e44740,#e34542,#e24244,#e24045,#e13e46,#e03d47,#e03c48,#e03c48,#e03d47,#e13e47,#e24045,#e34343,#e44741,#e64b3e,#e8513a,#ea5736,#ed5d32,#ef632f,#f0692d,#f26f2b,#f37528,#f57b26,#f68124,#f88622,#f98c20,#f98f21,#f99122,#f99422,#f99623,#f99823,#fa9a24)"></div><div style="top:183.58px;height:2.60px;background:linear-gradient(90deg,#f0692d,#ef662e,#ef632f,#ee6030,#ec5c33,#eb5835,#ea5538,#e8513a,#e74e3c,#e54a3f,#e44741,#e34443,#e24145,#e13e47,#e03c48,#df3c4a,#df3c4b,#df3d4b,#df3d4c,#df3d4c,#df3d4c,#df3d4b,#df3c4a,#e03c48,#e13f46,#e34443,#e5493f,#e74f3b,#ea5537,#ed5c32,#ef632f,#f0692d,#f26f2b,#f37528,#f57b26,#f68024,#f78622,#f98b20,#f98e21,#f99021,#f99322,#f99523,#f99723)"></div><div style="top:185.58px;height:2.60px;background:linear-gradient(90deg,#ef642f,#ee6030,#ed5d32,#eb5935,#ea5537,#e8523a,#e74e3c,#e64a3e,#e44741,#e34343,#e24045,#e03d47,#e03c49,#df3d4b,#de3d4c,#de3d4d,#de3d4e,#dd3d4f,#dd3d4f,#dd3d4f,#dd3d4f,#de3d4f,#de3d4e,#de3d4c,#df3c4a,#e03d48,#e24244,#e44740,#e74e3c,#ea5538,#ec5c33,#ef632f,#f0692d,#f26f2b,#f37429,#f57a26,#f68025,#f78523,#f88a21,#f98d20,#f98f21,#f99122,#f99422)"></div><div style="top:187.57px;height:2.60px;background:linear-gradient(90deg,#ed5e31,#ec5a34,#ea5637,#e95239,#e74f3c,#e64b3e,#e44840,#e34443,#e24045,#e03d47,#e03c49,#df3d4b,#de3d4d,#de3d4e,#dd3d4f,#dd3e50,#dd3e51,#dd3e51,#dd3e52,#dc3e52,#dd3e52,#dd3e51,#dd3e51,#dd3d50,#de3d4e,#df3d4c,#e03c49,#e24045,#e44641,#e74d3d,#e95438,#ec5c33,#ef622f,#f0682d,#f26e2b,#f37429,#f47927,#f67f25,#f78323,#f88822,#f98c20,#f98e21,#f99021)"></div><div style="top:189.57px;height:2.60px;background:linear-gradient(90deg,#eb5835,#e95438,#e8503b,#e64c3d,#e54840,#e34542,#e24144,#e13e47,#e03c49,#df3d4b,#de3d4d,#de3d4f,#dd3d50,#dd3e51,#dc3e52,#dc3e52,#dc3e53,#dc3e54,#dc3e54,#dc3e54,#dc3e54,#dc3e53,#dc3e53,#dc3e52,#dd3e51,#dd3d4f,#de3d4d,#df3c4a,#e13f46,#e44642,#e74d3d,#e95438,#ec5b33,#ef622f,#f0682d,#f16e2b,#f37329,#f47827,#f57d25,#f68224,#f78622,#f88a21,#f98d20)"></div><div style="top:191.56px;height:2.60px;background:linear-gradient(90deg,#e95239,#e74e3c,#e54a3f,#e44641,#e24244,#e13f46,#e03c48,#df3c4a,#de3d4c,#de3d4e,#dd3d50,#dd3e51,#dc3e52,#dc3e53,#dc3e54,#db3e55,#db3e55,#db3e56,#db3f56,#db3f56,#db3f56,#db3e56,#db3e55,#dc3e54,#dc3e53,#dc3e52,#dd3d50,#de3d4e,#df3c4a,#e13e46,#e44542,#e64d3d,#e95438,#ec5b33,#ef622f,#f0682d,#f16d2b,#f37229,#f47728,#f57c26,#f68024,#f78423,#f88822)"></div><div style="top:193.56px;height:2.60px;background:linear-gradient(90deg,#e64c3d,#e54840,#e34443,#e24045,#e03c48,#df3c4a,#df3d4c,#de3d4e,#dd3d4f,#dd3e51,#dc3e52,#dc3e53,#dc3e54,#db3e55,#db3f56,#db3f57,#da3f57,#da3f58,#da3f58,#da3f58,#da3f58,#da3f58,#da3f57,#db3f56,#db3e55,#dc3e54,#dc3e52,#dd3e51,#de3d4e,#df3c4b,#e13e47,#e44542,#e64d3d,#e95438,#ec5b33,#ee622f,#f0672d,#f16c2c,#f2712a,#f37628,#f47a27,#f57e25,#f68224)"></div><div style="top:195.55px;height:2.60px;background:linear-gradient(90deg,#e44741,#e24244,#e13e47,#e03c49,#df3d4b,#de3d4d,#de3d4f,#dd3d50,#dd3e51,#dc3e53,#dc3e54,#db3e55,#db3f56,#db3f57,#da3f58,#da3f59,#da3f59,#da3f5a,#d93f5a,#d93f5a,#d93f5a,#d93f5a,#da3f59,#da3f59,#da3f58,#db3f56,#db3e55,#dc3e53,#dd3e51,#de3d4e,#df3c4b,#e13e47,#e44542,#e64d3d,#e95438,#ec5b34,#ee6130,#f0662e,#f16b2c,#f26f2a,#f37429,#f47827,#f57c26)"></div><div style="top:197.55px;height:2.60px;background:linear-gradient(90deg,#e24145,#e03d48,#df3c4a,#df3d4c,#de3d4e,#dd3d50,#dd3e51,#dc3e52,#dc3e53,#db3e55,#db3e56,#db3f57,#da3f58,#da3f59,#d93f5a,#d93f5b,#d9405b,#d9405c,#d9405c,#d9405c,#d9405c,#d9405c,#d9405b,#d93f5b,#da3f5a,#da3f58,#db3f57,#db3e55,#dc3e53,#dd3e51,#de3d4f,#df3c4b,#e13e47,#e44542,#e64c3d,#e95338,#ec5a34,#ee6030,#ef652e,#f0692d,#f16e2b,#f2722a,#f37628)"></div><div style="top:199.55px;height:2.60px;background:linear-gradient(90deg,#e03c48,#df3c4a,#de3d4d,#de3d4f,#dd3d50,#dd3e51,#dc3e53,#dc3e54,#db3e55,#db3f56,#da3f58,#da3f59,#d93f5a,#d93f5b,#d9405c,#d9405d,#d8405d,#d8405e,#d8405e,#d8405f,#d8405f,#d8405e,#d8405d,#d8405d,#d9405c,#d93f5a,#da3f59,#da3f57,#db3e55,#dc3e53,#dd3e51,#de3d4f,#df3c4b,#e13e46,#e44542,#e64c3d,#e95339,#eb5935,#ee5f31,#ef642f,#f0682d,#f16c2c,#f2702a)"></div><div style="top:201.54px;height:2.60px;background:linear-gradient(90deg,#df3d4b,#de3d4d,#dd3d4f,#dd3e50,#dc3e52,#dc3e53,#dc3e54,#db3e56,#db3f57,#da3f58,#da3f59,#d93f5b,#d9405c,#d8405d,#d8405e,#d84060,#d74162,#d74164,#d74265,#d74265,#d74265,#d74264,#d74163,#d84160,#d8405e,#d9405c,#d93f5b,#da3f59,#da3f58,#db3e56,#dc3e53,#dd3e51,#de3d4f,#df3c4b,#e13e47,#e44542,#e64c3e,#e85239,#eb5836,#ed5d32,#ee622f,#ef662e,#f06a2c)"></div><div style="top:203.54px;height:2.60px;background:linear-gradient(90deg,#de3d4d,#dd3d4f,#dd3e51,#dc3e52,#dc3e53,#db3e55,#db3f56,#da3f57,#da3f59,#d93f5a,#d93f5b,#d9405c,#d8405e,#d84060,#d74163,#d74266,#d64268,#d6436a,#d6436b,#d5436c,#d5436b,#d6436b,#d64369,#d64267,#d74164,#d84060,#d8405d,#d9405b,#da3f5a,#da3f58,#db3e56,#dc3e53,#dd3e51,#de3d4e,#df3c4b,#e13e47,#e34542,#e64b3e,#e8503a,#ea5637,#ec5b33,#ee6030,#ef642f)"></div><div style="top:205.53px;height:2.60px;background:linear-gradient(90deg,#dd3d4f,#dd3e51,#dc3e52,#dc3e54,#db3e55,#db3f56,#da3f57,#da3f59,#d93f5a,#d9405c,#d8405d,#d8405e,#d74162,#d74266,#d64369,#d5436c,#d5446e,#d54470,#d44571,#d44572,#d44572,#d44471,#d5446f,#d5446d,#d6436a,#d64266,#d74162,#d8405e,#d9405c,#da3f5a,#da3f58,#db3e56,#dc3e53,#dd3e51,#de3d4e,#df3c4b,#e13e47,#e34443,#e5493f,#e74f3c,#e95438,#eb5935,#ed5e32)"></div><div style="top:207.53px;height:2.60px;background:linear-gradient(90deg,#dd3e51,#dc3e52,#dc3e54,#db3e55,#db3f56,#da3f58,#da3f59,#d93f5a,#d9405c,#d8405d,#d84060,#d74164,#d64268,#d5436c,#d5446f,#d44572,#d44574,#d34676,#d34677,#d34678,#d34678,#d34677,#d44675,#d44573,#d54470,#d5436d,#d64268,#d74163,#d8405e,#d9405c,#d93f5a,#da3f58,#db3e56,#dc3e53,#dd3e51,#de3d4f,#df3d4b,#e03d48,#e24244,#e54840,#e64d3d,#e8523a,#ea5636)"></div><div style="top:209.52px;height:2.60px;background:linear-gradient(90deg,#dc3e52,#dc3e54,#db3e55,#db3f56,#da3f58,#da3f59,#d93f5a,#d9405c,#d8405d,#d74161,#d74265,#d6436a,#d5446e,#d44571,#d44575,#d34677,#d3477a,#d2477c,#d2477d,#d2487e,#d2487e,#d2477d,#d2477b,#d34779,#d34676,#d44573,#d5446f,#d6436a,#d74164,#d8405e,#d9405c,#d93f5a,#da3f58,#db3e56,#dc3e53,#dd3e51,#de3d4f,#df3d4b,#e03c48,#e24145,#e44642,#e64a3e,#e84f3b)"></div><div style="top:211.52px;height:2.60px;background:linear-gradient(90deg,#dc3e54,#db3e55,#db3f56,#da3f58,#da3f59,#d93f5a,#d9405c,#d8405d,#d74161,#d64266,#d6436b,#d5446f,#d44573,#d34677,#d3477a,#d2477d,#d2487f,#d14881,#d14983,#d14983,#d14983,#d14983,#d14881,#d2487f,#d2477d,#d34679,#d44575,#d54470,#d6436b,#d74265,#d8405e,#d9405c,#d93f5a,#da3f58,#db3e56,#dc3e53,#dd3e51,#dd3d4f,#de3d4c,#e03c49,#e13f46,#e34343,#e54840)"></div><div style="top:213.51px;height:2.60px;background:linear-gradient(90deg,#db3e55,#db3f56,#da3f58,#da3f59,#d93f5a,#d9405c,#d8405d,#d74161,#d64266,#d5436b,#d54470,#d44574,#d34679,#d2477c,#d24880,#d14983,#d14985,#d04a87,#d04a88,#d04a89,#d04a89,#d04a88,#d04a87,#d14985,#d14983,#d2487f,#d2477b,#d34676,#d44571,#d5436b,#d74265,#d8405e,#d9405c,#d93f5a,#da3f58,#db3e56,#dc3e54,#dd3e51,#dd3d50,#de3d4d,#df3c4a,#e03c48,#e24144)"></div><div style="top:215.51px;height:2.60px;background:linear-gradient(90deg,#db3f56,#da3f58,#da3f59,#d93f5a,#d9405c,#d8405d,#d74161,#d64266,#d5436c,#d44471,#d44675,#d3477a,#d2487e,#d14982,#d14985,#d04a88,#cf4b8a,#cf4b8c,#ce4b8d,#ce4b8e,#ce4c8e,#ce4b8e,#cf4b8c,#cf4b8b,#d04a88,#d14985,#d14881,#d2477d,#d34678,#d44572,#d5436c,#d74265,#d8405f,#d9405c,#d93f5a,#da3f58,#db3f56,#dc3e54,#dc3e52,#dd3d50,#de3d4e,#df3d4c,#e03c49)"></div><div style="top:217.50px;height:2.60px;background:linear-gradient(90deg,#da3f58,#da3f59,#d93f5a,#d9405c,#d8405d,#d84161,#d64266,#d5436b,#d44471,#d34676,#d3477b,#d2487f,#d14983,#d04a87,#cf4b8a,#ce4b8d,#ce4c8f,#cd4c91,#cd4d92,#cc4d93,#cc4d93,#cc4d93,#cd4c92,#cd4c90,#ce4b8e,#cf4b8b,#d04a87,#d14983,#d2487e,#d34678,#d44572,#d5436c,#d74266,#d8405f,#d9405c,#d93f5a,#da3f58,#db3f56,#dc3e54,#dc3e53,#dd3e51,#dd3d4f,#de3d4d)"></div></div>
<svg width="667" height="517" viewBox="0 0 667 517">
<g fill="none" stroke-width="1.6" stroke-linecap="butt" stroke-linejoin="round"><clipPath id="clb"><rect x="44.40" y="251.00" width="164.00" height="215.50"/></clipPath><g clip-path="url(#clb)"><path d="M210.4,406.3 L210.1,407.8 L209.8,408.8 L209.4,409.8 L209.0,411.2 L208.6,412.2 L208.2,413.2 L207.8,414.2 L207.4,415.2 L206.9,416.2 L206.4,417.2 L205.8,418.2 L205.2,419.2 L204.6,420.2 L203.9,421.1 L203.4,421.8 L202.7,422.8 L201.9,423.6 L201.4,424.2 L200.5,425.2 L199.9,425.8 L199.0,426.8 L198.4,427.3 L197.5,428.2 L196.9,428.8 L195.9,429.7 L195.3,430.2 L194.4,431.0 L193.6,431.8 L192.9,432.3 L191.9,433.1 L191.1,433.8 L190.4,434.3 L189.4,435.0 L188.5,435.8 L187.9,436.2 L186.9,436.9 L185.9,437.7 L185.1,438.2 L184.4,438.8 L183.4,439.5 L182.4,440.2 L181.6,440.8 L180.9,441.2 L179.9,441.9 L178.9,442.6 L178.0,443.2 L177.2,443.8 L176.4,444.3 L175.4,444.9 L174.4,445.6 L173.5,446.2 L172.8,446.8 L171.9,447.3 L170.9,448.0 L169.9,448.7 L169.1,449.2 L168.4,449.8 L167.4,450.4 L166.4,451.1 L165.6,451.8 L164.9,452.2 L163.9,452.9 L162.9,453.7 L162.2,454.2 L161.4,454.8 L160.4,455.6 L159.6,456.2 L158.9,456.8 L157.9,457.5 L157.1,458.2 L156.4,458.8 L155.4,459.6 L154.7,460.2 L153.9,460.9 L152.9,461.7 L152.4,462.2 L151.4,463.1 L150.7,463.8 L149.9,464.4 L149.0,465.2 L148.4,465.8 L147.4,466.7 L146.8,467.2 L145.9,468.1 L145.8,468.2" stroke="#132b43"/><path d="M196.8,249.2 L196.5,250.8 L196.4,251.8 L196.2,253.2 L196.0,254.8 L195.8,255.8 L195.7,257.2 L195.5,258.8 L195.4,259.8 L195.3,261.2 L195.1,262.8 L195.0,264.2 L194.9,265.2 L194.8,266.8 L194.7,268.2 L194.6,269.8 L194.6,271.2 L194.5,272.8 L194.4,273.8 L194.4,275.2 L194.3,276.8 L194.2,278.2 L194.2,279.8 L194.1,281.2 L194.1,282.8 L194.1,284.2 L194.0,285.8 L194.0,287.2 L194.0,288.8 L193.9,289.8 L193.9,291.2 L193.9,292.8 L193.8,294.2 L193.8,295.8 L193.8,297.2 L193.8,298.8 L193.7,300.2 L193.7,301.8 L193.7,303.2 L193.6,304.8 L193.6,306.2 L193.6,307.8 L193.5,309.2 L193.5,310.8 L193.4,312.0 L193.4,313.2 L193.4,314.8 L193.3,316.2 L193.2,317.8 L193.2,319.2 L193.1,320.8 L193.0,322.2 L193.0,323.8 L192.9,324.8 L192.8,326.2 L192.7,327.8 L192.6,329.2 L192.5,330.8 L192.4,331.8 L192.3,333.2 L192.1,334.8 L192.0,336.2 L191.9,337.2 L191.7,338.8 L191.5,340.2 L191.4,341.2 L191.2,342.8 L191.0,344.2 L190.9,345.2 L190.6,346.8 L190.4,347.9 L190.2,349.2 L190.0,350.8 L189.8,351.8 L189.5,353.2 L189.3,354.2 L189.0,355.8 L188.7,356.8 L188.4,358.0 L188.1,359.2 L187.9,360.2 L187.5,361.8 L187.2,362.8 L186.9,363.8 L186.5,365.2 L186.2,366.2 L185.9,367.2 L185.4,368.6 L185.1,369.8 L184.7,370.8 L184.4,371.8 L183.9,372.8 L183.4,374.1 L183.0,375.2 L182.6,376.2 L182.2,377.2 L181.7,378.2 L181.3,379.2 L180.8,380.2 L180.3,381.2 L179.9,382.2 L179.4,383.2 L178.9,384.2 L178.3,385.2 L177.8,386.2 L177.2,387.2 L176.7,388.2 L176.1,389.2 L175.5,390.2 L174.9,391.2 L174.4,392.0 L173.9,392.8 L173.3,393.8 L172.7,394.8 L172.0,395.8 L171.4,396.6 L170.9,397.3 L170.3,398.2 L169.6,399.2 L168.9,400.1 L168.4,400.8 L167.7,401.8 L167.0,402.8 L166.4,403.4 L165.8,404.2 L165.0,405.2 L164.4,405.9 L163.8,406.8 L162.9,407.7 L162.4,408.3 L161.6,409.2 L160.9,410.0 L160.3,410.8 L159.4,411.7 L158.9,412.3 L158.1,413.2 L157.4,413.9 L156.7,414.8 L155.9,415.5 L155.2,416.2 L154.4,417.1 L153.8,417.8 L152.9,418.6 L152.3,419.2 L151.4,420.1 L150.7,420.8 L149.9,421.5 L149.2,422.2 L148.4,422.9 L147.6,423.8 L146.9,424.3 L145.9,425.2 L145.4,425.8 L144.4,426.6 L143.7,427.2 L142.9,427.9 L142.0,428.8 L141.4,429.2 L140.4,430.1 L139.7,430.8 L138.9,431.3 L137.9,432.2 L137.3,432.8 L136.4,433.4 L135.4,434.2 L134.8,434.8 L133.9,435.4 L133.0,436.2 L132.3,436.8 L131.4,437.5 L130.5,438.2 L129.9,438.8 L128.9,439.5 L128.0,440.2 L127.4,440.8 L126.5,441.5 L125.6,442.2 L125.0,442.8 L124.0,443.7 L123.3,444.2 L122.5,445.0 L121.7,445.8 L121.0,446.4 L120.1,447.2 L119.5,447.9 L118.6,448.8 L118.0,449.4 L117.2,450.2 L116.5,451.1 L115.9,451.8 L115.1,452.8 L114.5,453.6 L113.9,454.2 L113.2,455.2 L112.5,456.2 L112.0,457.1 L111.5,457.9 L110.9,458.8 L110.3,459.8 L109.7,460.8 L109.2,461.8 L108.6,462.8 L108.1,463.8 L107.6,464.8 L107.1,465.8 L106.5,466.8 L106.0,467.8 L105.7,468.2" stroke="#1a3855"/><path d="M178.0,249.2 L177.8,250.2 L177.7,251.8 L177.5,253.2 L177.4,254.2 L177.3,255.8 L177.2,257.2 L177.2,258.8 L177.1,260.2 L177.0,261.8 L177.0,263.2 L176.9,264.2 L176.9,265.8 L176.8,267.2 L176.8,268.8 L176.7,270.2 L176.7,271.8 L176.6,273.2 L176.5,274.8 L176.5,276.2 L176.4,277.2 L176.3,278.8 L176.3,280.2 L176.2,281.8 L176.1,283.2 L176.0,284.8 L175.9,285.8 L175.8,287.2 L175.7,288.8 L175.6,290.2 L175.5,291.8 L175.4,292.8 L175.2,294.2 L175.1,295.8 L175.0,297.2 L174.9,298.2 L174.7,299.8 L174.5,301.2 L174.4,302.2 L174.3,303.8 L174.1,305.2 L173.9,306.4 L173.8,307.8 L173.6,309.2 L173.4,310.2 L173.2,311.8 L173.0,313.2 L172.8,314.2 L172.6,315.8 L172.4,316.8 L172.2,318.2 L171.9,319.7 L171.8,320.8 L171.5,322.2 L171.3,323.2 L171.0,324.8 L170.8,325.8 L170.5,327.2 L170.3,328.2 L169.9,329.7 L169.7,330.8 L169.4,331.9 L169.1,333.2 L168.9,334.2 L168.5,335.8 L168.3,336.8 L167.9,337.9 L167.6,339.2 L167.3,340.2 L166.9,341.5 L166.6,342.8 L166.3,343.8 L165.9,344.9 L165.5,346.2 L165.2,347.2 L164.9,348.2 L164.4,349.5 L164.0,350.8 L163.7,351.8 L163.3,352.8 L162.9,353.8 L162.4,355.0 L162.0,356.2 L161.6,357.2 L161.2,358.2 L160.8,359.2 L160.3,360.2 L159.9,361.2 L159.4,362.3 L158.9,363.4 L158.4,364.5 L157.9,365.5 L157.4,366.6 L156.9,367.6 L156.4,368.6 L155.9,369.6 L155.4,370.5 L154.9,371.5 L154.4,372.4 L153.9,373.3 L153.4,374.2 L152.8,375.2 L152.2,376.2 L151.6,377.2 L151.0,378.2 L150.4,379.1 L149.9,379.9 L149.4,380.8 L148.8,381.8 L148.1,382.8 L147.4,383.7 L146.9,384.4 L146.3,385.2 L145.6,386.2 L144.9,387.2 L144.4,387.8 L143.8,388.8 L143.0,389.8 L142.4,390.5 L141.8,391.2 L141.0,392.2 L140.4,393.0 L139.8,393.8 L139.0,394.8 L138.4,395.4 L137.7,396.2 L136.9,397.2 L136.4,397.8 L135.6,398.8 L134.9,399.5 L134.2,400.2 L133.4,401.1 L132.9,401.8 L132.0,402.8 L131.4,403.4 L130.6,404.2 L129.9,405.0 L129.2,405.8 L128.4,406.6 L127.8,407.2 L127.0,408.2 L126.4,408.8 L125.5,409.8 L125.0,410.3 L124.0,411.2 L123.5,411.9 L122.6,412.8 L122.0,413.4 L121.1,414.2 L120.5,415.0 L119.7,415.8 L119.0,416.5 L118.2,417.2 L117.5,418.1 L116.8,418.8 L116.0,419.6 L115.3,420.2 L114.5,421.2 L113.9,421.8 L113.0,422.7 L112.4,423.2 L111.5,424.2 L111.0,424.8 L110.1,425.8 L109.5,426.4 L108.7,427.2 L108.0,428.0 L107.3,428.8 L106.5,429.6 L105.9,430.2 L105.0,431.2 L104.5,431.8 L103.6,432.8 L103.0,433.5 L102.3,434.2 L101.5,435.2 L101.0,435.8 L100.2,436.8 L99.5,437.6 L98.9,438.2 L98.1,439.2 L97.5,440.0 L96.9,440.8 L96.1,441.8 L95.5,442.6 L94.9,443.2 L94.2,444.2 L93.5,445.2 L93.0,445.9 L92.3,446.8 L91.6,447.8 L91.0,448.7 L90.5,449.4 L89.9,450.2 L89.2,451.2 L88.6,452.2 L88.0,453.2 L87.5,454.0 L87.0,454.8 L86.4,455.8 L85.8,456.8 L85.2,457.8 L84.6,458.8 L84.0,459.8 L83.5,460.7 L83.0,461.6 L82.5,462.5 L82.0,463.4 L81.4,464.2 L80.8,465.2 L80.3,466.2 L79.7,467.2 L79.0,468.2 L79.0,468.2" stroke="#214667"/><path d="M161.4,249.2 L161.3,250.8 L161.2,252.2 L161.0,253.8 L160.9,255.0 L160.8,256.2 L160.7,257.8 L160.6,259.2 L160.4,260.3 L160.3,261.8 L160.1,263.2 L160.0,264.8 L159.9,265.8 L159.7,267.2 L159.5,268.8 L159.4,269.8 L159.2,271.2 L159.1,272.8 L158.9,273.8 L158.8,275.2 L158.6,276.8 L158.4,277.9 L158.3,279.2 L158.1,280.8 L157.9,281.8 L157.8,283.2 L157.6,284.8 L157.4,285.8 L157.2,287.2 L157.0,288.8 L156.9,289.8 L156.6,291.2 L156.4,292.4 L156.2,293.8 L156.0,295.2 L155.9,296.2 L155.6,297.8 L155.4,298.8 L155.2,300.2 L154.9,301.6 L154.7,302.8 L154.5,304.2 L154.3,305.2 L154.0,306.8 L153.8,307.8 L153.5,309.2 L153.3,310.2 L153.0,311.8 L152.7,312.8 L152.4,314.1 L152.2,315.2 L151.9,316.3 L151.6,317.8 L151.4,318.8 L151.0,320.2 L150.7,321.2 L150.4,322.4 L150.1,323.8 L149.8,324.8 L149.4,326.1 L149.1,327.2 L148.8,328.2 L148.4,329.5 L148.1,330.8 L147.8,331.8 L147.4,332.8 L147.0,334.2 L146.6,335.2 L146.3,336.2 L145.9,337.2 L145.4,338.6 L145.0,339.8 L144.7,340.8 L144.3,341.8 L143.9,342.8 L143.4,343.8 L142.9,345.1 L142.5,346.2 L142.0,347.2 L141.6,348.2 L141.2,349.2 L140.7,350.2 L140.2,351.2 L139.8,352.2 L139.3,353.2 L138.8,354.2 L138.3,355.2 L137.8,356.2 L137.2,357.2 L136.7,358.2 L136.1,359.2 L135.6,360.2 L135.0,361.2 L134.4,362.2 L133.9,363.1 L133.4,363.9 L132.9,364.8 L132.3,365.8 L131.7,366.8 L131.1,367.8 L130.4,368.7 L129.9,369.4 L129.4,370.2 L128.7,371.2 L128.1,372.2 L127.5,373.1 L127.0,373.8 L126.3,374.8 L125.6,375.8 L125.0,376.6 L124.5,377.3 L123.8,378.2 L123.0,379.2 L122.5,380.0 L121.9,380.8 L121.1,381.8 L120.5,382.6 L120.0,383.3 L119.2,384.2 L118.5,385.2 L118.0,385.8 L117.2,386.8 L116.5,387.7 L116.0,388.3 L115.2,389.2 L114.5,390.1 L113.9,390.8 L113.1,391.8 L112.5,392.5 L111.9,393.2 L111.0,394.2 L110.5,394.9 L109.8,395.8 L109.0,396.7 L108.5,397.3 L107.7,398.2 L107.0,399.1 L106.4,399.8 L105.5,400.8 L105.0,401.4 L104.3,402.2 L103.5,403.2 L103.0,403.8 L102.1,404.8 L101.5,405.5 L100.8,406.2 L100.0,407.2 L99.5,407.9 L98.7,408.8 L98.0,409.6 L97.4,410.2 L96.6,411.2 L96.0,412.0 L95.3,412.8 L94.5,413.8 L94.0,414.3 L93.2,415.2 L92.5,416.1 L91.9,416.8 L91.1,417.8 L90.5,418.5 L89.8,419.2 L89.0,420.2 L88.5,420.9 L87.8,421.8 L87.0,422.7 L86.5,423.3 L85.7,424.2 L85.0,425.1 L84.4,425.8 L83.6,426.8 L83.0,427.6 L82.4,428.2 L81.6,429.2 L81.0,430.0 L80.3,430.8 L79.5,431.8 L79.0,432.4 L78.3,433.2 L77.5,434.2 L77.0,434.9 L76.3,435.8 L75.5,436.7 L75.0,437.4 L74.2,438.2 L73.5,439.2 L73.0,439.8 L72.2,440.8 L71.5,441.7 L71.0,442.3 L70.2,443.2 L69.5,444.2 L69.0,444.8 L68.2,445.8 L67.5,446.6 L67.0,447.3 L66.2,448.2 L65.5,449.1 L65.0,449.8 L64.2,450.8 L63.5,451.6 L63.0,452.3 L62.2,453.2 L61.5,454.1 L61.0,454.8 L60.2,455.8 L59.5,456.6 L59.0,457.3 L58.1,458.2 L57.5,459.1 L57.0,459.8 L56.2,460.8 L55.5,461.6 L55.0,462.3 L54.2,463.2 L53.5,464.2 L53.0,464.8 L52.2,465.8 L51.5,466.8 L51.0,467.4 L50.3,468.2 L50.3,468.2" stroke="#28547a"/><path d="M143.2,249.2 L143.2,250.8 L143.1,252.2 L143.1,253.8 L143.0,255.2 L142.9,256.2 L142.7,257.8 L142.6,259.2 L142.4,260.5 L142.3,261.8 L142.1,263.2 L141.9,264.3 L141.7,265.8 L141.5,267.2 L141.3,268.2 L141.1,269.8 L140.9,270.8 L140.7,272.2 L140.4,273.6 L140.3,274.8 L140.0,276.2 L139.8,277.2 L139.5,278.8 L139.3,279.8 L139.0,281.2 L138.8,282.2 L138.5,283.8 L138.3,284.8 L138.0,286.2 L137.8,287.2 L137.5,288.8 L137.2,289.8 L136.9,291.0 L136.7,292.2 L136.4,293.2 L136.1,294.8 L135.8,295.8 L135.5,297.2 L135.2,298.2 L134.9,299.3 L134.6,300.8 L134.3,301.8 L133.9,303.1 L133.6,304.2 L133.4,305.2 L132.9,306.7 L132.6,307.8 L132.4,308.8 L131.9,310.1 L131.6,311.2 L131.3,312.2 L130.9,313.5 L130.5,314.8 L130.2,315.8 L129.9,316.8 L129.4,318.2 L129.1,319.2 L128.8,320.2 L128.4,321.2 L128.0,322.6 L127.6,323.8 L127.2,324.8 L126.8,325.8 L126.5,326.8 L126.0,328.2 L125.6,329.2 L125.2,330.2 L124.8,331.2 L124.4,332.2 L124.0,333.4 L123.5,334.7 L123.0,335.8 L122.6,336.8 L122.2,337.8 L121.8,338.8 L121.4,339.8 L120.9,340.8 L120.5,341.8 L120.0,343.0 L119.5,344.1 L119.0,345.2 L118.5,346.2 L118.0,347.2 L117.5,348.2 L117.1,349.2 L116.6,350.2 L116.1,351.2 L115.6,352.2 L115.1,353.2 L114.6,354.2 L114.1,355.2 L113.6,356.2 L113.1,357.2 L112.5,358.2 L112.0,359.2 L111.5,360.2 L111.0,361.2 L110.5,362.1 L110.0,363.0 L109.5,363.9 L109.0,364.8 L108.4,365.8 L107.8,366.8 L107.2,367.8 L106.6,368.8 L106.0,369.8 L105.5,370.7 L105.0,371.5 L104.5,372.3 L103.8,373.2 L103.2,374.2 L102.5,375.2 L102.0,376.2 L101.5,376.9 L100.9,377.8 L100.2,378.8 L99.5,379.8 L99.0,380.6 L98.5,381.3 L97.8,382.2 L97.1,383.2 L96.5,384.1 L96.0,384.8 L95.3,385.8 L94.5,386.8 L94.0,387.5 L93.4,388.2 L92.6,389.2 L92.0,390.1 L91.4,390.8 L90.6,391.8 L90.0,392.6 L89.4,393.2 L88.6,394.2 L88.0,395.0 L87.4,395.8 L86.5,396.8 L86.0,397.4 L85.2,398.2 L84.5,399.1 L83.9,399.8 L83.0,400.8 L82.5,401.4 L81.6,402.2 L81.0,403.0 L80.2,403.8 L79.5,404.6 L78.8,405.2 L78.0,406.1 L77.4,406.8 L76.5,407.7 L75.9,408.2 L75.0,409.2 L74.3,409.8 L73.5,410.6 L72.8,411.2 L72.0,412.0 L71.2,412.8 L70.5,413.4 L69.5,414.2 L69.0,414.8 L68.0,415.6 L67.3,416.2 L66.5,416.9 L65.5,417.8 L64.9,418.2 L64.0,419.0 L63.1,419.8 L62.4,420.2 L61.5,421.0 L60.5,421.8 L59.9,422.2 L59.0,423.0 L58.0,423.7 L57.2,424.2 L56.5,424.8 L55.5,425.6 L54.5,426.2 L53.8,426.8 L53.0,427.4 L52.0,428.1 L51.1,428.8 L50.5,429.3 L49.5,430.0 L48.6,430.8 L48.0,431.3 L47.0,432.1 L46.3,432.8 L45.5,433.5 L44.7,434.2 L44.0,435.1 L43.4,435.8 L42.5,436.8 L42.5,436.8" stroke="#2f638e"/><path d="M117.7,249.2 L117.5,250.7 L117.2,251.8 L117.0,253.2 L116.8,254.2 L116.6,255.8 L116.5,256.8 L116.3,258.2 L116.1,259.8 L116.0,260.8 L115.8,262.2 L115.6,263.8 L115.5,265.2 L115.3,266.2 L115.2,267.8 L115.0,269.2 L114.9,270.2 L114.7,271.8 L114.5,273.2 L114.4,274.2 L114.2,275.8 L114.0,277.2 L113.8,278.2 L113.6,279.8 L113.4,280.8 L113.2,282.2 L113.0,283.7 L112.8,284.8 L112.5,286.2 L112.4,287.2 L112.1,288.8 L111.9,289.8 L111.6,291.2 L111.4,292.2 L111.2,293.8 L111.0,294.8 L110.7,296.2 L110.4,297.2 L110.1,298.8 L109.9,299.8 L109.6,301.2 L109.4,302.2 L109.0,303.8 L108.8,304.8 L108.5,306.2 L108.2,307.2 L108.0,308.3 L107.6,309.8 L107.3,310.8 L107.0,312.2 L106.7,313.2 L106.4,314.2 L106.0,315.8 L105.7,316.8 L105.4,317.8 L105.0,319.2 L104.7,320.2 L104.4,321.2 L104.0,322.8 L103.7,323.8 L103.3,324.8 L103.0,326.0 L102.5,327.2 L102.2,328.2 L101.9,329.2 L101.5,330.5 L101.0,331.8 L100.7,332.8 L100.3,333.8 L100.0,334.8 L99.5,336.2 L99.0,337.2 L98.7,338.2 L98.3,339.2 L97.9,340.2 L97.5,341.4 L97.0,342.6 L96.5,343.8 L96.1,344.8 L95.6,345.8 L95.2,346.8 L94.8,347.8 L94.3,348.8 L93.9,349.8 L93.4,350.8 L92.9,351.8 L92.5,352.8 L92.0,353.8 L91.5,354.8 L91.0,355.8 L90.5,356.8 L90.0,357.8 L89.4,358.8 L88.9,359.8 L88.3,360.8 L87.8,361.8 L87.2,362.8 L86.7,363.8 L86.1,364.8 L85.5,365.8 L85.0,366.6 L84.5,367.4 L83.9,368.2 L83.3,369.2 L82.6,370.2 L82.0,371.2 L81.5,372.0 L81.0,372.8 L80.3,373.8 L79.6,374.8 L79.0,375.6 L78.5,376.3 L77.7,377.2 L77.0,378.2 L76.5,378.9 L75.8,379.8 L75.0,380.8 L74.5,381.4 L73.7,382.2 L73.0,383.1 L72.4,383.8 L71.5,384.8 L71.0,385.4 L70.1,386.2 L69.5,387.0 L68.7,387.8 L68.0,388.5 L67.2,389.2 L66.5,390.0 L65.7,390.8 L65.0,391.4 L64.1,392.2 L63.5,392.8 L62.5,393.7 L61.8,394.2 L61.0,395.0 L60.0,395.8 L59.4,396.2 L58.5,397.0 L57.5,397.8 L56.8,398.2 L56.0,398.9 L55.0,399.6 L54.1,400.2 L53.4,400.8 L52.5,401.4 L51.5,402.1 L50.5,402.8 L49.8,403.2 L49.0,403.8 L48.0,404.5 L47.0,405.2 L46.1,405.8 L45.4,406.2 L44.5,406.9 L43.5,407.7 L42.7,408.2 L42.5,408.4" stroke="#3772a2"/><path d="M96.9,249.2 L96.7,250.8 L96.5,252.2 L96.4,253.2 L96.3,254.8 L96.2,256.2 L96.1,257.8 L96.0,259.2 L95.9,260.2 L95.8,261.8 L95.7,263.2 L95.7,264.8 L95.6,266.2 L95.5,267.8 L95.4,268.8 L95.3,270.2 L95.2,271.8 L95.0,273.2 L94.9,274.2 L94.8,275.8 L94.6,277.2 L94.5,278.8 L94.3,279.8 L94.1,281.2 L94.0,282.8 L93.8,283.8 L93.6,285.2 L93.5,286.3 L93.2,287.8 L93.0,289.2 L92.8,290.2 L92.6,291.8 L92.4,292.8 L92.1,294.2 L92.0,295.3 L91.7,296.8 L91.5,297.8 L91.2,299.2 L91.0,300.3 L90.6,301.8 L90.4,302.8 L90.1,304.2 L89.8,305.2 L89.5,306.8 L89.2,307.8 L89.0,308.8 L88.6,310.2 L88.3,311.2 L88.0,312.6 L87.6,313.8 L87.3,314.8 L87.0,316.1 L86.6,317.2 L86.3,318.2 L86.0,319.4 L85.5,320.8 L85.2,321.8 L84.9,322.8 L84.5,323.9 L84.0,325.2 L83.6,326.2 L83.3,327.2 L82.9,328.2 L82.5,329.5 L82.0,330.8 L81.6,331.8 L81.2,332.8 L80.8,333.8 L80.3,334.8 L79.9,335.8 L79.5,336.8 L79.0,338.0 L78.5,339.1 L78.0,340.2 L77.5,341.2 L77.0,342.2 L76.5,343.2 L76.0,344.2 L75.5,345.2 L75.0,346.2 L74.5,347.1 L74.0,348.0 L73.5,348.9 L73.0,349.8 L72.4,350.8 L71.8,351.8 L71.2,352.8 L70.6,353.8 L70.0,354.8 L69.5,355.6 L69.0,356.3 L68.3,357.2 L67.6,358.2 L67.0,359.2 L66.5,359.9 L65.8,360.8 L65.1,361.8 L64.5,362.6 L63.9,363.2 L63.1,364.2 L62.5,365.1 L61.9,365.8 L61.0,366.8 L60.5,367.4 L59.7,368.2 L59.0,369.0 L58.3,369.8 L57.5,370.6 L56.8,371.2 L56.0,372.1 L55.2,372.8 L54.5,373.5 L53.6,374.2 L53.0,374.8 L52.0,375.7 L51.3,376.2 L50.5,377.0 L49.5,377.8 L48.9,378.2 L48.0,379.0 L47.0,379.8 L46.3,380.2 L45.5,380.9 L44.5,381.7 L43.7,382.2 L43.0,382.8 L42.5,383.2" stroke="#3e81b7"/><path d="M80.3,249.2 L80.2,250.8 L80.1,252.2 L80.0,253.8 L79.9,254.8 L79.9,256.2 L79.8,257.8 L79.7,259.2 L79.7,260.8 L79.6,262.2 L79.6,263.8 L79.5,265.2 L79.4,266.2 L79.3,267.8 L79.2,269.2 L79.1,270.8 L79.0,272.2 L78.9,273.2 L78.8,274.8 L78.6,276.2 L78.5,277.4 L78.3,278.8 L78.1,280.2 L77.9,281.2 L77.7,282.8 L77.5,284.2 L77.3,285.2 L77.0,286.8 L76.8,287.8 L76.5,289.2 L76.3,290.2 L76.0,291.8 L75.8,292.8 L75.5,294.2 L75.2,295.2 L74.9,296.2 L74.6,297.8 L74.3,298.8 L74.0,299.9 L73.6,301.2 L73.3,302.2 L73.0,303.3 L72.5,304.8 L72.1,305.8 L71.8,306.8 L71.4,307.8 L71.0,309.1 L70.5,310.2 L70.1,311.2 L69.7,312.2 L69.3,313.2 L68.9,314.2 L68.5,315.3 L68.0,316.5 L67.5,317.6 L67.0,318.6 L66.5,319.7 L66.0,320.7 L65.5,321.7 L65.0,322.6 L64.5,323.6 L64.0,324.5 L63.5,325.4 L63.0,326.3 L62.4,327.2 L61.8,328.2 L61.2,329.2 L60.6,330.2 L60.0,331.2 L59.5,332.0 L58.9,332.8 L58.3,333.8 L57.6,334.8 L57.0,335.6 L56.5,336.3 L55.7,337.2 L55.0,338.2 L54.5,338.9 L53.8,339.8 L53.0,340.8 L52.5,341.4 L51.7,342.2 L51.0,343.1 L50.4,343.8 L49.5,344.8 L49.0,345.4 L48.2,346.2 L47.5,347.1 L46.9,347.8 L46.0,348.8 L45.5,349.3 L44.6,350.2 L44.0,351.0 L43.3,351.8 L42.5,352.7 L42.5,352.7" stroke="#4691cc"/><path d="M64.7,249.2 L64.6,250.8 L64.5,252.2 L64.5,253.4 L64.4,254.8 L64.3,256.2 L64.3,257.8 L64.2,259.2 L64.1,260.8 L64.1,262.2 L64.0,263.8 L64.0,264.8 L63.9,266.2 L63.8,267.8 L63.7,269.2 L63.5,270.8 L63.4,271.8 L63.3,273.2 L63.1,274.8 L63.0,275.9 L62.8,277.2 L62.5,278.8 L62.4,279.8 L62.1,281.2 L61.9,282.2 L61.6,283.8 L61.4,284.8 L61.0,286.2 L60.7,287.2 L60.5,288.3 L60.0,289.8 L59.7,290.8 L59.4,291.8 L59.0,292.9 L58.5,294.2 L58.0,295.2 L57.6,296.2 L57.2,297.2 L56.7,298.2 L56.2,299.2 L55.7,300.2 L55.1,301.2 L54.5,302.2 L54.0,303.2 L53.5,304.0 L52.9,304.8 L52.3,305.8 L51.5,306.8 L51.0,307.5 L50.4,308.2 L49.6,309.2 L49.0,310.1 L48.4,310.8 L47.6,311.8 L47.0,312.6 L46.4,313.2 L45.6,314.2 L45.0,315.1 L44.5,315.8 L43.7,316.8 L43.0,317.8 L42.5,318.4 L42.5,318.4" stroke="#4ea1e1"/><path d="M48.4,249.2 L48.3,250.8 L48.1,252.2 L48.0,253.8 L47.8,254.8 L47.6,256.2 L47.4,257.2 L47.2,258.8 L47.0,260.2 L46.8,261.2 L46.5,262.8 L46.3,263.8 L46.0,265.2 L45.8,266.2 L45.5,267.7 L45.2,268.8 L45.0,270.0 L44.6,271.2 L44.4,272.2 L44.0,273.8 L43.7,274.8 L43.4,275.8 L43.0,277.2 L42.6,278.2 L42.5,278.8" stroke="#56b1f7"/></g><clipPath id="clc"><rect x="267.80" y="251.00" width="163.60" height="215.50"/></clipPath><g clip-path="url(#clc)"><path d="M327.4,468.2 L326.4,467.8 L325.5,467.2 L324.5,466.8 L323.5,466.2 L322.6,465.8 L321.7,465.2 L320.7,464.8 L319.8,464.2 L318.9,463.7 L317.9,463.1 L316.9,462.5 L315.9,461.9 L314.9,461.3 L314.0,460.8 L313.2,460.2 L312.4,459.7 L311.4,459.1 L310.4,458.5 L309.4,457.9 L308.4,457.2 L307.6,456.8 L306.7,456.2 L305.9,455.7 L304.9,455.1 L303.9,454.5 L302.9,453.9 L301.9,453.3 L300.9,452.8 L300.0,452.2 L299.1,451.8 L298.2,451.2 L297.3,450.8 L296.4,450.2 L295.4,449.7 L294.4,449.2 L293.4,448.7 L292.4,448.2 L291.3,447.8 L290.2,447.2 L289.1,446.8 L287.9,446.2 L286.9,445.8 L285.9,445.4 L284.9,445.1 L283.9,444.7 L282.6,444.2 L281.4,443.8 L280.4,443.5 L279.4,443.2 L277.9,442.8 L276.9,442.4 L275.9,442.1 L274.5,441.8 L273.4,441.4 L272.4,441.1 L271.3,440.8 L269.9,440.2 L268.9,439.9 L267.9,439.5 L266.9,439.0 L265.9,438.6 L265.9,438.6" stroke="#132b43"/><path d="M397.8,468.2 L396.9,467.3 L396.3,466.8 L395.4,465.8 L394.9,465.2 L394.0,464.2 L393.4,463.5 L392.7,462.8 L391.9,461.8 L391.4,461.1 L390.6,460.2 L389.9,459.3 L389.4,458.6 L388.6,457.8 L387.9,456.8 L387.4,456.1 L386.6,455.2 L385.9,454.3 L385.4,453.7 L384.6,452.8 L383.9,451.9 L383.3,451.2 L382.4,450.2 L381.9,449.7 L381.0,448.8 L380.4,448.0 L379.6,447.2 L378.9,446.5 L378.1,445.8 L377.4,445.0 L376.6,444.2 L375.9,443.5 L375.1,442.8 L374.4,442.1 L373.4,441.2 L372.9,440.7 L371.9,439.9 L371.2,439.2 L370.4,438.6 L369.4,437.8 L368.8,437.2 L367.9,436.5 L366.9,435.8 L366.3,435.2 L365.4,434.5 L364.4,433.8 L363.6,433.2 L362.9,432.7 L361.9,431.9 L360.9,431.2 L360.2,430.8 L359.4,430.2 L358.4,429.5 L357.4,428.8 L356.5,428.2 L355.7,427.8 L354.9,427.2 L353.9,426.5 L352.9,425.9 L351.9,425.3 L351.0,424.8 L350.1,424.2 L349.3,423.8 L348.4,423.2 L347.4,422.6 L346.4,422.0 L345.4,421.5 L344.4,420.9 L343.4,420.3 L342.4,419.8 L341.4,419.3 L340.4,418.8 L339.5,418.2 L338.5,417.8 L337.5,417.2 L336.6,416.8 L335.6,416.2 L334.6,415.8 L333.6,415.2 L332.6,414.8 L331.6,414.2 L330.5,413.8 L329.5,413.2 L328.4,412.8 L327.4,412.2 L326.4,411.8 L325.4,411.3 L324.4,410.8 L323.4,410.4 L322.4,409.9 L321.4,409.5 L320.4,409.0 L319.4,408.6 L318.4,408.1 L317.4,407.7 L316.3,407.2 L315.2,406.8 L314.0,406.2 L312.9,405.8 L311.9,405.3 L310.9,404.9 L309.9,404.5 L308.9,404.0 L307.9,403.6 L306.9,403.2 L305.8,402.8 L304.6,402.2 L303.4,401.8 L302.4,401.3 L301.4,400.9 L300.4,400.5 L299.4,400.1 L298.4,399.7 L297.3,399.2 L296.1,398.8 L294.9,398.2 L293.9,397.8 L292.9,397.4 L291.9,397.0 L290.9,396.6 L289.9,396.2 L288.7,395.8 L287.5,395.2 L286.4,394.8 L285.4,394.4 L284.4,394.0 L283.4,393.5 L282.4,393.1 L281.4,392.7 L280.3,392.2 L279.2,391.8 L278.1,391.2 L277.0,390.8 L276.0,390.2 L275.0,389.8 L274.1,389.2 L273.2,388.8 L272.3,388.2 L271.4,387.6 L270.4,386.9 L269.5,386.2 L268.9,385.7 L267.9,384.8 L267.3,384.2 L266.4,383.3 L265.9,382.7 L265.9,382.7" stroke="#1d3f5e"/><path d="M433.4,453.2 L432.4,452.4 L431.5,451.8 L430.9,451.2 L429.9,450.4 L428.9,449.8 L428.3,449.2 L427.4,448.6 L426.4,447.9 L425.4,447.2 L424.7,446.8 L423.9,446.2 L422.9,445.6 L421.9,445.0 L420.9,444.4 L419.9,443.8 L419.0,443.2 L418.2,442.8 L417.3,442.2 L416.4,441.6 L415.4,441.0 L414.4,440.4 L413.4,439.8 L412.7,439.2 L411.9,438.7 L410.9,438.0 L409.9,437.2 L409.2,436.8 L408.4,436.1 L407.4,435.4 L406.6,434.8 L405.9,434.2 L404.9,433.4 L404.1,432.8 L403.4,432.1 L402.4,431.3 L401.7,430.8 L400.9,430.0 L400.0,429.2 L399.4,428.7 L398.4,427.8 L397.8,427.2 L396.9,426.4 L396.2,425.8 L395.4,425.0 L394.5,424.2 L393.9,423.6 L393.0,422.8 L392.4,422.2 L391.4,421.2 L390.9,420.7 L389.9,419.8 L389.3,419.2 L388.4,418.3 L387.8,417.8 L386.9,416.9 L386.2,416.2 L385.4,415.4 L384.7,414.8 L383.9,413.9 L383.1,413.2 L382.4,412.5 L381.6,411.8 L380.9,411.0 L380.0,410.2 L379.4,409.6 L378.5,408.8 L377.9,408.2 L376.9,407.2 L376.3,406.8 L375.4,405.8 L374.7,405.2 L373.9,404.4 L373.1,403.8 L372.4,403.0 L371.5,402.2 L370.9,401.6 L369.9,400.8 L369.3,400.2 L368.4,399.3 L367.7,398.8 L366.9,398.0 L366.0,397.2 L365.4,396.6 L364.4,395.8 L363.8,395.2 L362.9,394.4 L362.1,393.8 L361.4,393.1 L360.4,392.2 L359.8,391.8 L358.9,390.9 L358.1,390.2 L357.4,389.6 L356.4,388.8 L355.8,388.2 L354.9,387.4 L354.0,386.8 L353.4,386.2 L352.4,385.3 L351.7,384.8 L350.9,384.1 L349.9,383.2 L349.3,382.8 L348.4,382.0 L347.5,381.2 L346.9,380.7 L345.9,379.9 L345.0,379.2 L344.4,378.7 L343.4,377.9 L342.6,377.2 L341.9,376.7 L340.9,375.9 L340.1,375.2 L339.4,374.7 L338.4,373.9 L337.6,373.2 L336.9,372.7 L335.9,371.9 L335.0,371.2 L334.4,370.7 L333.4,369.9 L332.5,369.2 L331.9,368.7 L330.9,367.9 L330.0,367.2 L329.3,366.8 L328.4,366.0 L327.5,365.2 L326.8,364.8 L325.9,364.0 L324.9,363.2 L324.3,362.8 L323.4,362.0 L322.5,361.2 L321.9,360.7 L320.9,359.9 L320.0,359.2 L319.4,358.7 L318.4,357.9 L317.6,357.2 L316.9,356.6 L315.9,355.8 L315.3,355.2 L314.4,354.5 L313.5,353.8 L312.9,353.2 L311.9,352.3 L311.3,351.8 L310.4,350.9 L309.6,350.2 L308.9,349.6 L308.0,348.8 L307.4,348.2 L306.4,347.2 L305.9,346.7 L304.9,345.8 L304.3,345.2 L303.4,344.3 L302.9,343.7 L301.9,342.8 L301.4,342.2 L300.5,341.2 L299.9,340.6 L299.1,339.8 L298.4,338.9 L297.7,338.2 L296.9,337.2 L296.4,336.7 L295.6,335.8 L294.9,334.9 L294.4,334.2 L293.6,333.2 L292.9,332.3 L292.4,331.7 L291.6,330.8 L290.9,329.8 L290.4,329.0 L289.8,328.2 L289.1,327.2 L288.5,326.2 L287.9,325.3 L287.4,324.5 L286.8,323.8 L286.2,322.8 L285.6,321.8 L285.0,320.8 L284.4,319.8 L283.9,318.8 L283.4,317.8 L282.9,316.9 L282.4,316.0 L281.9,315.0 L281.4,314.0 L280.9,313.0 L280.4,312.0 L279.9,310.9 L279.4,309.8 L278.9,308.8 L278.4,307.8 L278.0,306.8 L277.6,305.8 L277.2,304.8 L276.8,303.8 L276.4,302.5 L275.9,301.2 L275.5,300.2 L275.2,299.2 L274.8,298.2 L274.4,296.8 L274.0,295.8 L273.7,294.8 L273.4,293.5 L273.0,292.2 L272.7,291.2 L272.4,289.8 L272.1,288.8 L271.8,287.8 L271.5,286.2 L271.3,285.2 L271.0,283.8 L270.8,282.8 L270.5,281.2 L270.3,280.2 L270.1,278.8 L269.9,277.4 L269.7,276.2 L269.5,274.8 L269.4,273.6 L269.2,272.2 L269.1,270.8 L268.9,269.2 L268.9,268.1 L268.8,266.8 L268.7,265.2 L268.6,263.8 L268.5,262.2 L268.5,260.8 L268.4,259.2 L268.4,257.8 L268.3,256.8 L268.2,255.2 L268.1,253.8 L267.9,252.2 L267.8,251.2 L267.5,249.8 L267.4,249.2" stroke="#28547a"/><path d="M433.4,417.8 L432.4,417.2 L431.5,416.8 L430.6,416.2 L429.8,415.8 L428.9,415.2 L427.9,414.7 L426.9,414.1 L425.9,413.5 L424.9,412.9 L423.9,412.3 L422.9,411.8 L422.1,411.2 L421.3,410.8 L420.4,410.2 L419.4,409.5 L418.4,408.8 L417.5,408.2 L416.8,407.8 L415.9,407.0 L414.9,406.3 L414.2,405.8 L413.4,405.1 L412.4,404.3 L411.7,403.8 L410.9,403.0 L410.0,402.2 L409.4,401.7 L408.4,400.8 L407.8,400.2 L406.9,399.3 L406.3,398.8 L405.4,397.8 L404.8,397.2 L403.9,396.2 L403.4,395.7 L402.5,394.8 L401.9,394.1 L401.1,393.2 L400.4,392.4 L399.8,391.8 L399.0,390.8 L398.4,390.0 L397.7,389.2 L396.9,388.2 L396.4,387.6 L395.7,386.8 L394.9,385.8 L394.4,385.1 L393.7,384.2 L392.9,383.2 L392.4,382.5 L391.7,381.8 L391.0,380.8 L390.4,379.9 L389.8,379.2 L389.1,378.2 L388.4,377.3 L387.9,376.6 L387.2,375.8 L386.5,374.8 L385.9,373.9 L385.3,373.2 L384.6,372.2 L383.9,371.3 L383.4,370.6 L382.7,369.8 L382.0,368.8 L381.4,367.9 L380.8,367.2 L380.1,366.2 L379.4,365.3 L378.9,364.7 L378.1,363.8 L377.4,362.8 L376.9,362.1 L376.1,361.2 L375.4,360.3 L374.9,359.7 L374.1,358.8 L373.4,357.9 L372.8,357.2 L371.9,356.2 L371.4,355.6 L370.6,354.8 L369.9,353.9 L369.2,353.2 L368.4,352.3 L367.8,351.8 L366.9,350.8 L366.3,350.2 L365.4,349.3 L364.8,348.8 L363.9,347.8 L363.2,347.2 L362.4,346.5 L361.6,345.8 L360.9,345.1 L359.9,344.3 L359.2,343.8 L358.4,343.0 L357.4,342.2 L356.8,341.8 L355.9,341.0 L354.9,340.2 L354.2,339.8 L353.4,339.1 L352.4,338.3 L351.6,337.8 L350.9,337.2 L349.9,336.5 L348.9,335.8 L348.2,335.2 L347.4,334.6 L346.4,333.9 L345.5,333.2 L344.9,332.7 L343.9,332.0 L342.9,331.2 L342.2,330.8 L341.4,330.1 L340.4,329.3 L339.6,328.8 L338.9,328.1 L337.9,327.3 L337.2,326.8 L336.4,326.1 L335.4,325.2 L334.8,324.8 L333.9,323.9 L333.1,323.2 L332.4,322.6 L331.5,321.8 L330.9,321.2 L329.9,320.2 L329.4,319.7 L328.4,318.8 L327.9,318.2 L326.9,317.2 L326.4,316.7 L325.5,315.8 L324.9,315.0 L324.1,314.2 L323.4,313.4 L322.8,312.8 L322.0,311.8 L321.4,311.0 L320.7,310.2 L319.9,309.2 L319.4,308.5 L318.8,307.8 L318.0,306.8 L317.4,305.8 L316.9,305.1 L316.2,304.2 L315.5,303.2 L314.9,302.2 L314.4,301.5 L313.9,300.7 L313.2,299.8 L312.6,298.8 L312.0,297.8 L311.4,296.8 L310.9,295.8 L310.4,294.9 L309.9,294.0 L309.4,293.0 L308.9,292.1 L308.4,291.1 L307.9,290.1 L307.4,289.0 L306.9,288.0 L306.4,286.9 L305.9,285.8 L305.4,284.8 L305.0,283.8 L304.6,282.8 L304.2,281.8 L303.9,280.7 L303.4,279.3 L303.0,278.2 L302.7,277.2 L302.3,276.2 L301.9,274.8 L301.6,273.8 L301.3,272.8 L300.9,271.2 L300.7,270.2 L300.4,268.8 L300.1,267.8 L299.9,266.3 L299.7,265.2 L299.4,263.8 L299.2,262.8 L299.0,261.2 L298.9,260.1 L298.7,258.8 L298.5,257.2 L298.4,256.1 L298.2,254.8 L298.0,253.2 L297.9,251.8 L297.7,250.8 L297.5,249.2 L297.5,249.2" stroke="#336a98"/><path d="M433.4,374.0 L432.5,373.2 L431.9,372.7 L430.9,371.8 L430.1,371.2 L429.4,370.6 L428.4,369.8 L427.8,369.2 L426.9,368.5 L426.0,367.8 L425.4,367.2 L424.4,366.3 L423.7,365.8 L422.9,365.0 L422.0,364.2 L421.4,363.7 L420.4,362.8 L419.8,362.2 L418.9,361.3 L418.2,360.8 L417.4,359.9 L416.7,359.2 L415.9,358.4 L415.3,357.8 L414.4,356.8 L413.9,356.2 L412.9,355.2 L412.4,354.6 L411.6,353.8 L410.9,352.9 L410.3,352.2 L409.4,351.2 L408.9,350.6 L408.1,349.8 L407.4,348.8 L406.9,348.2 L406.1,347.2 L405.4,346.4 L404.9,345.7 L404.1,344.8 L403.4,343.9 L402.9,343.2 L402.1,342.2 L401.4,341.3 L400.9,340.7 L400.1,339.8 L399.4,338.8 L398.9,338.2 L398.1,337.2 L397.4,336.3 L396.9,335.6 L396.2,334.8 L395.4,333.8 L394.9,333.1 L394.2,332.2 L393.4,331.2 L392.9,330.6 L392.2,329.8 L391.4,328.8 L390.9,328.1 L390.1,327.2 L389.4,326.3 L388.9,325.7 L388.0,324.8 L387.4,324.0 L386.7,323.2 L385.9,322.2 L385.4,321.7 L384.6,320.8 L383.9,320.0 L383.2,319.2 L382.4,318.3 L381.9,317.7 L380.9,316.8 L380.4,316.1 L379.6,315.2 L378.9,314.5 L378.2,313.8 L377.4,312.9 L376.7,312.2 L375.9,311.3 L375.3,310.8 L374.4,309.8 L373.9,309.2 L372.9,308.2 L372.4,307.7 L371.5,306.8 L370.9,306.1 L370.0,305.2 L369.4,304.6 L368.6,303.8 L367.9,303.0 L367.1,302.2 L366.4,301.5 L365.7,300.8 L364.9,299.9 L364.2,299.2 L363.4,298.3 L362.8,297.8 L361.9,296.8 L361.4,296.2 L360.4,295.2 L359.9,294.6 L359.0,293.8 L358.4,293.0 L357.6,292.2 L356.9,291.4 L356.3,290.8 L355.4,289.8 L354.9,289.2 L354.0,288.2 L353.4,287.5 L352.7,286.8 L351.9,285.8 L351.4,285.1 L350.6,284.2 L349.9,283.3 L349.4,282.7 L348.6,281.8 L347.9,280.8 L347.4,280.2 L346.6,279.2 L345.9,278.2 L345.4,277.6 L344.7,276.8 L344.0,275.8 L343.4,274.8 L342.9,274.1 L342.3,273.2 L341.6,272.2 L341.0,271.2 L340.4,270.3 L339.9,269.5 L339.4,268.7 L338.8,267.8 L338.2,266.8 L337.6,265.8 L337.1,264.8 L336.6,263.8 L336.0,262.8 L335.6,261.8 L335.1,260.8 L334.6,259.8 L334.2,258.8 L333.7,257.8 L333.3,256.8 L332.9,255.5 L332.4,254.2 L332.1,253.2 L331.8,252.2 L331.4,250.9 L331.0,249.8 L330.9,249.2" stroke="#3e81b7"/><path d="M433.4,317.1 L432.4,316.3 L431.8,315.8 L430.9,315.0 L429.9,314.2 L429.2,313.8 L428.4,313.2 L427.4,312.5 L426.4,311.9 L425.4,311.2 L424.5,310.8 L423.7,310.2 L422.9,309.7 L421.9,309.1 L420.9,308.5 L419.9,307.9 L418.9,307.3 L418.0,306.8 L417.2,306.2 L416.4,305.6 L415.4,305.0 L414.4,304.2 L413.7,303.8 L412.9,303.1 L411.9,302.3 L411.1,301.8 L410.4,301.1 L409.4,300.3 L408.8,299.8 L407.9,298.9 L407.1,298.2 L406.4,297.5 L405.6,296.8 L404.9,296.0 L404.1,295.2 L403.4,294.5 L402.7,293.8 L401.9,292.8 L401.3,292.2 L400.5,291.2 L399.9,290.5 L399.2,289.8 L398.4,288.8 L397.9,288.0 L397.3,287.2 L396.5,286.2 L395.9,285.3 L395.4,284.6 L394.8,283.8 L394.1,282.8 L393.4,281.8 L392.9,280.9 L392.4,280.1 L391.9,279.2 L391.3,278.2 L390.7,277.2 L390.1,276.2 L389.6,275.2 L389.0,274.2 L388.5,273.2 L388.0,272.2 L387.5,271.2 L387.0,270.2 L386.5,269.2 L386.1,268.2 L385.6,267.2 L385.2,266.2 L384.8,265.2 L384.4,264.2 L383.9,263.0 L383.4,261.8 L383.0,260.8 L382.6,259.8 L382.2,258.8 L381.8,257.8 L381.4,256.6 L380.9,255.3 L380.4,254.2 L380.0,253.2 L379.6,252.2 L379.1,251.2 L378.6,250.2 L378.1,249.2 L378.1,249.2" stroke="#4a99d6"/><path d="M433.4,268.9 L432.6,268.2 L431.9,267.5 L431.1,266.8 L430.4,266.1 L429.5,265.2 L428.9,264.6 L428.0,263.8 L427.4,263.1 L426.6,262.2 L425.9,261.5 L425.2,260.8 L424.4,259.8 L423.9,259.1 L423.2,258.2 L422.5,257.2 L421.9,256.4 L421.4,255.6 L420.8,254.8 L420.2,253.8 L419.6,252.8 L419.0,251.8 L418.5,250.8 L418.0,249.8 L417.7,249.2" stroke="#56b1f7"/></g><clipPath id="cld"><rect x="490.50" y="251.00" width="163.40" height="215.50"/></clipPath><g clip-path="url(#cld)"><path d="M550.9,249.2 L552.0,249.4 L553.5,249.6 L555.0,249.7 L556.0,249.9 L557.5,250.1 L559.0,250.2 L560.0,250.4 L561.5,250.6 L562.6,250.8 L564.0,251.0 L565.5,251.2 L566.5,251.4 L568.0,251.7 L569.0,251.9 L570.5,252.2 L571.5,252.5 L572.8,252.8 L574.0,253.0 L575.0,253.3 L576.5,253.6 L577.5,253.8 L579.0,254.2 L580.0,254.4 L581.5,254.7 L582.5,254.9 L584.0,255.2 L585.0,255.4 L586.5,255.6 L587.5,255.8 L589.0,256.1 L590.0,256.3 L591.5,256.5 L593.0,256.7 L594.0,256.9 L595.5,257.1 L596.5,257.3 L598.0,257.5 L599.5,257.7 L600.5,257.8 L602.0,258.0 L603.5,258.2 L604.5,258.4 L606.0,258.6 L607.5,258.8 L608.5,258.9 L610.0,259.1 L611.4,259.2 L612.5,259.4 L614.0,259.6 L615.4,259.8 L616.5,259.9 L618.0,260.1 L619.3,260.2 L620.5,260.4 L622.0,260.6 L623.1,260.8 L624.5,261.0 L626.0,261.2 L627.0,261.3 L628.5,261.5 L630.0,261.8 L631.0,261.9 L632.5,262.1 L633.5,262.3 L635.0,262.5 L636.2,262.8 L637.5,263.0 L639.0,263.2 L640.0,263.4 L641.5,263.7 L642.5,263.9 L644.0,264.2 L645.0,264.4 L646.5,264.7 L647.5,264.9 L649.0,265.2 L650.0,265.5 L651.4,265.8 L652.5,266.0 L653.9,266.2 L655.0,266.5 L656.0,266.7" stroke="#132b43"/><path d="M488.6,296.9 L490.1,297.0 L491.6,297.2 L492.6,297.4 L494.1,297.6 L495.1,297.8 L496.6,298.1 L497.6,298.4 L499.1,298.7 L500.1,298.9 L501.3,299.2 L502.6,299.5 L503.6,299.8 L505.1,300.1 L506.1,300.4 L507.6,300.7 L508.6,300.9 L510.0,301.2 L511.1,301.5 L512.4,301.8 L513.5,302.0 L515.0,302.2 L516.0,302.4 L517.5,302.7 L518.5,302.9 L520.0,303.1 L521.0,303.3 L522.5,303.5 L524.0,303.7 L525.0,303.9 L526.5,304.1 L528.0,304.2 L529.0,304.4 L530.5,304.5 L532.0,304.7 L533.0,304.8 L534.5,305.0 L536.0,305.1 L537.4,305.2 L538.5,305.3 L540.0,305.5 L541.5,305.6 L543.0,305.7 L544.0,305.8 L545.5,305.9 L547.0,306.0 L548.5,306.1 L550.0,306.2 L551.3,306.2 L552.5,306.3 L554.0,306.4 L555.5,306.5 L557.0,306.5 L558.5,306.6 L560.0,306.7 L561.5,306.7 L562.5,306.8 L564.0,306.8 L565.5,306.9 L567.0,306.9 L568.5,307.0 L570.0,307.0 L571.5,307.0 L573.0,307.1 L574.5,307.1 L576.0,307.2 L577.5,307.2 L579.0,307.2 L580.1,307.2 L581.5,307.3 L583.0,307.3 L584.5,307.4 L586.0,307.4 L587.5,307.4 L589.0,307.5 L590.5,307.5 L592.0,307.5 L593.5,307.6 L595.0,307.6 L596.5,307.7 L598.0,307.7 L599.2,307.8 L600.5,307.8 L602.0,307.8 L603.5,307.9 L605.0,308.0 L606.5,308.0 L608.0,308.1 L609.5,308.2 L611.0,308.2 L612.0,308.3 L613.5,308.4 L615.0,308.5 L616.5,308.5 L618.0,308.6 L619.5,308.7 L620.5,308.8 L622.0,308.9 L623.5,309.0 L625.0,309.2 L626.1,309.2 L627.5,309.4 L629.0,309.5 L630.5,309.7 L631.5,309.8 L633.0,309.9 L634.5,310.1 L635.8,310.2 L637.0,310.4 L638.5,310.6 L639.7,310.8 L641.0,310.9 L642.5,311.2 L643.5,311.3 L645.0,311.6 L646.1,311.8 L647.5,312.0 L648.7,312.2 L650.0,312.5 L651.0,312.8 L652.5,313.1 L653.5,313.4 L654.8,313.8 L656.0,314.1 L656.0,314.1" stroke="#1f4364"/><path d="M488.6,354.1 L490.1,354.0 L491.6,353.8 L492.6,353.7 L494.1,353.5 L495.6,353.3 L496.6,353.2 L498.1,352.9 L499.1,352.8 L500.6,352.5 L501.9,352.2 L503.1,352.0 L504.6,351.8 L505.6,351.6 L507.1,351.3 L508.1,351.1 L509.6,350.9 L510.6,350.7 L512.0,350.5 L513.3,350.2 L514.5,350.1 L516.0,349.8 L517.0,349.7 L518.5,349.5 L520.0,349.2 L521.0,349.1 L522.5,348.9 L523.8,348.8 L525.0,348.6 L526.5,348.4 L528.0,348.2 L529.0,348.1 L530.5,348.0 L532.0,347.8 L533.0,347.7 L534.5,347.6 L536.0,347.4 L537.5,347.3 L538.5,347.2 L540.0,347.1 L541.5,347.0 L543.0,346.9 L544.5,346.8 L545.8,346.8 L547.0,346.7 L548.5,346.6 L550.0,346.6 L551.5,346.5 L553.0,346.5 L554.5,346.4 L556.0,346.4 L557.5,346.4 L559.0,346.4 L560.5,346.3 L562.0,346.4 L563.5,346.4 L565.0,346.4 L566.5,346.4 L568.0,346.5 L569.5,346.5 L571.0,346.6 L572.5,346.6 L574.0,346.7 L575.0,346.8 L576.5,346.9 L578.0,347.0 L579.5,347.1 L581.0,347.2 L582.0,347.3 L583.5,347.4 L585.0,347.6 L586.5,347.7 L587.5,347.8 L589.0,348.0 L590.5,348.2 L591.5,348.3 L593.0,348.6 L594.4,348.8 L595.5,348.9 L597.0,349.2 L598.0,349.3 L599.5,349.6 L600.5,349.8 L602.0,350.0 L603.2,350.2 L604.5,350.5 L605.7,350.8 L607.0,351.0 L608.0,351.3 L609.5,351.6 L610.5,351.8 L612.0,352.2 L613.0,352.4 L614.3,352.8 L615.5,353.1 L616.5,353.4 L618.0,353.8 L619.0,354.1 L620.0,354.3 L621.4,354.8 L622.5,355.1 L623.5,355.4 L624.6,355.8 L626.0,356.2 L627.0,356.6 L628.0,356.9 L629.0,357.3 L630.4,357.8 L631.5,358.2 L632.5,358.6 L633.5,359.0 L634.5,359.3 L635.6,359.8 L636.8,360.2 L638.0,360.8 L639.0,361.2 L640.0,361.7 L641.0,362.1 L642.0,362.5 L643.0,363.0 L644.0,363.5 L645.0,363.9 L646.0,364.4 L647.0,364.9 L648.0,365.3 L649.0,365.8 L650.1,366.2 L651.2,366.8 L652.4,367.2 L653.5,367.7 L654.5,368.1 L655.5,368.5 L656.0,368.7" stroke="#2c5d86"/><path d="M488.6,389.9 L489.6,389.7 L491.1,389.5 L492.3,389.2 L493.6,389.0 L494.8,388.8 L496.1,388.5 L497.1,388.2 L498.6,387.9 L499.6,387.7 L501.1,387.4 L502.1,387.1 L503.6,386.8 L504.6,386.6 L505.9,386.2 L507.1,386.0 L508.2,385.8 L509.6,385.5 L510.6,385.2 L512.0,384.9 L513.0,384.7 L514.5,384.5 L515.6,384.2 L517.0,384.0 L518.4,383.8 L519.5,383.6 L521.0,383.3 L522.0,383.1 L523.5,382.9 L524.6,382.8 L526.0,382.5 L527.5,382.3 L528.5,382.2 L530.0,382.0 L531.5,381.8 L532.5,381.7 L534.0,381.6 L535.5,381.4 L537.0,381.3 L538.0,381.2 L539.5,381.1 L541.0,380.9 L542.5,380.8 L544.0,380.8 L545.0,380.7 L546.5,380.6 L548.0,380.5 L549.5,380.5 L551.0,380.5 L552.5,380.4 L554.0,380.4 L555.5,380.4 L557.0,380.4 L558.5,380.4 L560.0,380.4 L561.5,380.5 L563.0,380.5 L564.5,380.6 L566.0,380.7 L567.4,380.8 L568.5,380.8 L570.0,380.9 L571.5,381.1 L573.0,381.2 L574.0,381.3 L575.5,381.5 L577.0,381.6 L578.0,381.8 L579.5,381.9 L581.0,382.2 L582.0,382.3 L583.5,382.5 L584.8,382.8 L586.0,383.0 L587.5,383.2 L588.5,383.4 L590.0,383.7 L591.0,383.9 L592.5,384.2 L593.5,384.5 L594.7,384.8 L596.0,385.1 L597.0,385.3 L598.5,385.7 L599.5,386.0 L600.6,386.2 L602.0,386.7 L603.0,387.0 L604.0,387.3 L605.5,387.7 L606.5,388.0 L607.5,388.3 L608.8,388.8 L610.0,389.2 L611.0,389.5 L612.0,389.9 L613.2,390.2 L614.5,390.7 L615.5,391.1 L616.5,391.5 L617.5,391.9 L618.5,392.3 L619.8,392.8 L621.0,393.2 L622.0,393.7 L623.0,394.1 L624.0,394.5 L625.0,394.9 L626.0,395.3 L627.0,395.8 L628.1,396.2 L629.2,396.8 L630.3,397.2 L631.4,397.8 L632.5,398.2 L633.5,398.7 L634.5,399.2 L635.5,399.7 L636.5,400.2 L637.5,400.7 L638.5,401.1 L639.5,401.6 L640.5,402.1 L641.5,402.6 L642.5,403.1 L643.5,403.6 L644.5,404.1 L645.5,404.6 L646.5,405.1 L647.5,405.6 L648.5,406.0 L649.5,406.5 L650.5,406.9 L651.5,407.3 L652.6,407.8 L654.0,408.2 L655.0,408.6 L656.0,408.9 L656.0,408.9" stroke="#3a78aa"/><path d="M488.6,419.6 L489.8,419.2 L491.1,419.0 L492.1,418.7 L493.6,418.4 L494.6,418.2 L496.1,417.8 L497.1,417.6 L498.6,417.3 L499.6,417.0 L500.8,416.8 L502.1,416.5 L503.1,416.2 L504.6,415.9 L505.6,415.7 L507.1,415.3 L508.1,415.1 L509.5,414.8 L510.6,414.5 L511.7,414.2 L513.0,413.9 L514.0,413.7 L515.5,413.4 L516.5,413.2 L518.0,412.8 L519.0,412.6 L520.5,412.3 L521.5,412.1 L523.0,411.8 L524.0,411.6 L525.5,411.3 L526.5,411.1 L528.0,410.8 L529.0,410.6 L530.5,410.3 L531.5,410.1 L533.0,409.8 L534.0,409.7 L535.5,409.4 L536.7,409.2 L538.0,409.0 L539.5,408.8 L540.5,408.7 L542.0,408.5 L543.5,408.3 L544.5,408.2 L546.0,408.0 L547.5,407.8 L548.6,407.8 L550.0,407.6 L551.5,407.5 L553.0,407.4 L554.5,407.3 L556.0,407.3 L557.0,407.2 L558.5,407.2 L560.0,407.2 L561.5,407.2 L563.0,407.2 L564.1,407.2 L565.5,407.3 L567.0,407.4 L568.5,407.5 L570.0,407.6 L571.3,407.8 L572.5,407.9 L574.0,408.1 L575.1,408.2 L576.5,408.5 L578.0,408.7 L579.0,408.9 L580.5,409.2 L581.5,409.5 L582.7,409.8 L584.0,410.1 L585.0,410.3 L586.5,410.8 L587.5,411.0 L588.5,411.3 L589.8,411.8 L591.0,412.1 L592.0,412.5 L593.0,412.8 L594.2,413.2 L595.5,413.7 L596.5,414.1 L597.5,414.5 L598.5,414.9 L599.5,415.3 L600.7,415.8 L601.9,416.2 L603.0,416.7 L604.0,417.2 L605.0,417.6 L606.0,418.1 L607.0,418.5 L608.0,418.9 L609.0,419.4 L610.0,419.9 L611.0,420.3 L612.0,420.8 L613.1,421.2 L614.1,421.8 L615.2,422.2 L616.3,422.8 L617.3,423.2 L618.4,423.8 L619.4,424.2 L620.5,424.8 L621.5,425.2 L622.5,425.7 L623.5,426.2 L624.5,426.7 L625.5,427.1 L626.5,427.6 L627.5,428.0 L628.5,428.5 L629.5,428.9 L630.5,429.4 L631.5,429.8 L632.5,430.3 L633.7,430.8 L634.9,431.2 L636.0,431.7 L637.0,432.1 L638.0,432.5 L639.0,432.9 L640.0,433.3 L641.3,433.8 L642.5,434.2 L643.5,434.6 L644.5,434.9 L645.5,435.3 L647.0,435.8 L648.0,436.1 L649.0,436.4 L650.1,436.8 L651.5,437.2 L652.5,437.5 L653.5,437.8 L654.9,438.2 L656.0,438.6 L656.0,438.6" stroke="#4894d0"/><path d="M488.6,454.7 L489.6,454.2 L490.6,453.7 L491.6,453.2 L492.6,452.8 L493.8,452.2 L494.9,451.8 L496.1,451.3 L497.1,450.9 L498.1,450.5 L499.1,450.2 L500.2,449.8 L501.6,449.3 L502.6,448.9 L503.6,448.6 L504.6,448.2 L505.9,447.8 L507.1,447.4 L508.1,447.0 L509.1,446.7 L510.4,446.2 L511.6,445.9 L512.5,445.6 L513.5,445.2 L515.0,444.8 L516.0,444.4 L517.0,444.1 L518.2,443.8 L519.5,443.3 L520.5,443.0 L521.5,442.7 L523.0,442.3 L524.0,442.0 L525.0,441.7 L526.5,441.3 L527.5,441.0 L528.5,440.7 L530.0,440.3 L531.0,440.1 L532.3,439.8 L533.5,439.4 L534.5,439.2 L536.0,438.8 L537.0,438.6 L538.5,438.3 L539.5,438.0 L540.9,437.8 L542.0,437.5 L543.5,437.2 L544.5,437.1 L546.0,436.8 L547.0,436.6 L548.5,436.4 L549.6,436.2 L551.0,436.1 L552.5,435.9 L553.7,435.8 L555.0,435.6 L556.5,435.5 L558.0,435.4 L559.5,435.3 L561.0,435.3 L562.0,435.2 L563.5,435.2 L565.0,435.2 L566.2,435.2 L567.5,435.3 L569.0,435.4 L570.5,435.5 L572.0,435.6 L573.0,435.8 L574.5,436.0 L576.0,436.2 L577.0,436.4 L578.5,436.6 L579.5,436.8 L581.0,437.2 L582.0,437.4 L583.4,437.8 L584.5,438.1 L585.5,438.4 L586.8,438.8 L588.0,439.1 L589.0,439.5 L590.0,439.8 L591.3,440.2 L592.5,440.7 L593.5,441.1 L594.5,441.5 L595.5,441.9 L596.5,442.3 L597.6,442.8 L598.7,443.2 L599.9,443.8 L601.0,444.2 L602.0,444.7 L603.0,445.2 L604.0,445.7 L605.0,446.2 L606.0,446.6 L607.0,447.1 L608.0,447.6 L609.0,448.1 L610.0,448.6 L611.0,449.1 L612.0,449.6 L613.0,450.1 L614.0,450.6 L615.0,451.1 L616.0,451.6 L617.0,452.1 L618.0,452.7 L619.0,453.2 L620.0,453.7 L621.0,454.2 L622.0,454.7 L623.0,455.2 L624.0,455.7 L625.0,456.2 L626.0,456.7 L627.0,457.2 L628.0,457.6 L629.0,458.1 L630.0,458.6 L631.0,459.0 L632.0,459.5 L633.0,460.0 L634.0,460.4 L635.0,460.8 L636.0,461.3 L637.2,461.8 L638.4,462.2 L639.5,462.7 L640.5,463.1 L641.5,463.5 L642.5,463.8 L643.7,464.2 L645.0,464.7 L646.0,465.1 L647.0,465.4 L648.0,465.8 L649.4,466.2 L650.5,466.6 L651.5,467.0 L652.5,467.3 L653.7,467.8 L655.0,468.2 L655.1,468.2" stroke="#56b1f7"/></g></g>
<g font-size="12" text-anchor="middle" font-family="Liberation Sans, sans-serif" stroke-width="0.3"><text x="49.20" y="250.20" fill="#56b1f7">32</text><text x="65.30" y="250.20" fill="#4ea1e1">30</text><text x="80.00" y="250.20" fill="#4691cc">28</text><text x="96.60" y="250.20" fill="#3e81b7">26</text><text x="117.00" y="250.20" fill="#3772a2">24</text><text x="143.70" y="250.20" fill="#2f638e">22</text><text x="161.50" y="250.20" fill="#28547a">20</text><text x="178.00" y="250.20" fill="#214667">18</text><text x="196.00" y="250.20" fill="#1a3855">16</text><text x="208.70" y="414.40" fill="#132b43">14</text><text x="431.80" y="276.20" fill="#56b1f7">55</text><text x="431.80" y="323.50" fill="#4a99d6">50</text><text x="431.80" y="380.70" fill="#3e81b7">45</text><text x="431.80" y="423.20" fill="#336a98">40</text><text x="431.80" y="457.40" fill="#28547a">35</text><text x="322.70" y="475.80" fill="#132b43">25</text><text x="395.30" y="475.80" fill="#1d3f5e">30</text><text x="563.70" y="250.60" fill="#132b43">30</text><text x="490.50" y="296.40" fill="#1f4364">35</text><text x="563.70" y="346.50" fill="#2c5d86">40</text><text x="567.80" y="380.40" fill="#3a78aa">45</text><text x="567.80" y="407.40" fill="#4894d0">50</text><text x="567.80" y="434.90" fill="#56b1f7">55</text></g>
<g stroke="#e6e6e6" stroke-width="0.9"><line x1="238.36" y1="171.57" x2="412.20" y2="171.57"/><line x1="248.01" y1="188.30" x2="334.96" y2="37.73"/><line x1="402.54" y1="188.30" x2="315.64" y2="37.73"/><line x1="248.02" y1="154.84" x2="402.54" y2="154.84"/><line x1="267.33" y1="188.30" x2="344.61" y2="54.46"/><line x1="383.22" y1="188.30" x2="305.98" y2="54.46"/><line x1="257.68" y1="138.11" x2="392.88" y2="138.11"/><line x1="286.64" y1="188.30" x2="354.26" y2="71.19"/><line x1="363.91" y1="188.30" x2="296.32" y2="71.19"/><line x1="267.34" y1="121.38" x2="383.23" y2="121.38"/><line x1="305.96" y1="188.30" x2="363.92" y2="87.92"/><line x1="344.59" y1="188.30" x2="286.66" y2="87.92"/><line x1="277.00" y1="104.65" x2="373.58" y2="104.65"/><line x1="325.27" y1="188.30" x2="373.58" y2="104.65"/><line x1="325.27" y1="188.30" x2="277.00" y2="104.65"/><line x1="286.66" y1="87.92" x2="363.92" y2="87.92"/><line x1="344.59" y1="188.30" x2="383.23" y2="121.38"/><line x1="305.96" y1="188.30" x2="267.34" y2="121.38"/><line x1="296.32" y1="71.19" x2="354.26" y2="71.19"/><line x1="363.91" y1="188.30" x2="392.89" y2="138.11"/><line x1="286.64" y1="188.30" x2="257.68" y2="138.11"/><line x1="305.98" y1="54.46" x2="344.61" y2="54.46"/><line x1="383.22" y1="188.30" x2="402.54" y2="154.84"/><line x1="267.33" y1="188.30" x2="248.02" y2="154.84"/><line x1="315.64" y1="37.73" x2="334.96" y2="37.73"/><line x1="402.54" y1="188.30" x2="412.19" y2="171.57"/><line x1="248.01" y1="188.30" x2="238.36" y2="171.57"/></g><g stroke="#444" stroke-width="0.7"><line x1="421.85" y1="188.30" x2="425.05" y2="188.30"/><line x1="228.70" y1="188.30" x2="227.80" y2="191.10"/><line x1="325.30" y1="21.00" x2="322.90" y2="19.40"/><line x1="412.20" y1="171.57" x2="415.40" y2="171.57"/><line x1="248.01" y1="188.30" x2="247.11" y2="191.10"/><line x1="315.64" y1="37.73" x2="313.24" y2="36.13"/><line x1="402.54" y1="154.84" x2="405.74" y2="154.84"/><line x1="267.33" y1="188.30" x2="266.43" y2="191.10"/><line x1="305.98" y1="54.46" x2="303.58" y2="52.86"/><line x1="392.88" y1="138.11" x2="396.08" y2="138.11"/><line x1="286.64" y1="188.30" x2="285.75" y2="191.10"/><line x1="296.32" y1="71.19" x2="293.92" y2="69.59"/><line x1="383.23" y1="121.38" x2="386.43" y2="121.38"/><line x1="305.96" y1="188.30" x2="305.06" y2="191.10"/><line x1="286.66" y1="87.92" x2="284.26" y2="86.32"/><line x1="373.58" y1="104.65" x2="376.78" y2="104.65"/><line x1="325.27" y1="188.30" x2="324.38" y2="191.10"/><line x1="277.00" y1="104.65" x2="274.60" y2="103.05"/><line x1="363.92" y1="87.92" x2="367.12" y2="87.92"/><line x1="344.59" y1="188.30" x2="343.69" y2="191.10"/><line x1="267.34" y1="121.38" x2="264.94" y2="119.78"/><line x1="354.26" y1="71.19" x2="357.46" y2="71.19"/><line x1="363.91" y1="188.30" x2="363.01" y2="191.10"/><line x1="257.68" y1="138.11" x2="255.28" y2="136.51"/><line x1="344.61" y1="54.46" x2="347.81" y2="54.46"/><line x1="383.22" y1="188.30" x2="382.32" y2="191.10"/><line x1="248.02" y1="154.84" x2="245.62" y2="153.24"/><line x1="334.96" y1="37.73" x2="338.16" y2="37.73"/><line x1="402.54" y1="188.30" x2="401.64" y2="191.10"/><line x1="238.36" y1="171.57" x2="235.96" y2="169.97"/><line x1="325.30" y1="21.00" x2="328.50" y2="21.00"/><line x1="421.85" y1="188.30" x2="420.95" y2="191.10"/><line x1="228.70" y1="188.30" x2="226.30" y2="186.70"/></g><polygon points="228.7,188.3 421.85,188.3 325.3,21.0" fill="none" stroke="#222" stroke-width="1.25" stroke-linejoin="miter"/><g font-size="10.1" fill="#4d4d4d"><text x="406.94" y="158.34">20</text><text text-anchor="end" transform="translate(266.13,191.90) rotate(-60)" y="3.4">20</text><text text-anchor="end" transform="translate(303.18,51.46) rotate(60)" y="3.4">20</text><text x="387.63" y="124.88">40</text><text text-anchor="end" transform="translate(304.76,191.90) rotate(-60)" y="3.4">40</text><text text-anchor="end" transform="translate(283.86,84.92) rotate(60)" y="3.4">40</text><text x="368.32" y="91.42">60</text><text text-anchor="end" transform="translate(343.39,191.90) rotate(-60)" y="3.4">60</text><text text-anchor="end" transform="translate(264.54,118.38) rotate(60)" y="3.4">60</text><text x="349.01" y="57.96">80</text><text text-anchor="end" transform="translate(382.02,191.90) rotate(-60)" y="3.4">80</text><text text-anchor="end" transform="translate(245.22,151.84) rotate(60)" y="3.4">80</text><text x="329.70" y="24.50">100</text><text text-anchor="end" transform="translate(420.65,191.90) rotate(-60)" y="3.4">100</text><text text-anchor="end" transform="translate(225.90,185.30) rotate(60)" y="3.4">100</text></g><g font-size="10.6" fill="#4d4d4d" text-anchor="middle"><text x="325.7" y="216.4">Te / Atomic Percent</text><text transform="translate(254.4,91.8) rotate(-60)" x="0" y="3.6">Ge / Atomic Percent</text><text transform="translate(396.8,93.7) rotate(60)" x="0" y="3.6">Si / Atomic Percent</text></g><g stroke="#4d4d4d" stroke-width="0.7" fill="none"><path d="M286.60,207.40 L364.00,207.40 M360.28,205.25 L364.00,207.40 L360.28,209.55 M411.60,128.40 L373.20,62.40 M373.21,66.70 L373.20,62.40 L376.93,64.54 M278.30,62.50 L239.30,127.90 M243.05,125.80 L239.30,127.90 L239.36,123.60"/></g><g font-size="12.7" fill="#1a1a1a"><text x="319.8" y="11.7">Si</text><text x="203.2" y="200.8">Ge</text><text x="431.1" y="200.8">Te</text></g>
<g><circle cx="306.9" cy="112.1" r="2.6" fill="#f2604a"/><circle cx="318.4" cy="121.9" r="2.6" fill="#de4868"/><circle cx="294.0" cy="127.1" r="2.6" fill="#e84a5a"/><circle cx="323.2" cy="133.8" r="2.6" fill="#9a2d80"/><circle cx="336.3" cy="134.3" r="2.6" fill="#d8486a"/><circle cx="309.4" cy="137.2" r="2.6" fill="#c83a72"/><circle cx="333.4" cy="142.4" r="2.6" fill="#4a1480"/><circle cx="279.5" cy="150.8" r="2.6" fill="#e84a58"/><circle cx="296.7" cy="151.9" r="2.6" fill="#d44470"/><circle cx="309.0" cy="149.1" r="2.6" fill="#8c2a84"/><circle cx="324.2" cy="151.2" r="2.6" fill="#cc3e70"/><circle cx="334.3" cy="148.1" r="2.6" fill="#a8307e"/><circle cx="329.2" cy="153.5" r="2.6" fill="#3c0f70"/><circle cx="299.1" cy="163.2" r="2.6" fill="#b4367a"/><circle cx="319.0" cy="163.4" r="2.6" fill="#5a1880"/><circle cx="357.2" cy="154.6" r="2.6" fill="#140e36"/><circle cx="367.1" cy="159.3" r="2.6" fill="#f8945e"/><circle cx="356.7" cy="163.7" r="2.6" fill="#050410"/><circle cx="361.5" cy="164.5" r="2.6" fill="#f98c5c"/><circle cx="377.4" cy="164.6" r="2.6" fill="#c0386c"/><circle cx="347.3" cy="167.2" r="2.6" fill="#1a0f3a"/><circle cx="373.0" cy="168.8" r="2.6" fill="#9a2d83"/><circle cx="349.5" cy="174.0" r="2.6" fill="#f57454"/><circle cx="369.3" cy="174.9" r="2.6" fill="#9b2a7d"/></g>
<defs><linearGradient id="mg" x1="0" y1="0" x2="0" y2="1"><stop offset="0.00" stop-color="#02020b"/><stop offset="0.10" stop-color="#130d34"/><stop offset="0.20" stop-color="#2d1161"/><stop offset="0.30" stop-color="#4c117a"/><stop offset="0.40" stop-color="#6a1c81"/><stop offset="0.50" stop-color="#882781"/><stop offset="0.60" stop-color="#a6317d"/><stop offset="0.70" stop-color="#c53c74"/><stop offset="0.80" stop-color="#e24d66"/><stop offset="0.90" stop-color="#f4695c"/><stop offset="1.00" stop-color="#fc8c63"/></linearGradient></defs><rect x="430.7" y="35.7" width="11.5" height="56.7" fill="url(#mg)"/><g stroke="#fff" stroke-width="0.5" opacity="0.8"><line x1="430.7" x2="433" y1="40.10" y2="40.10"/><line x1="439.9" x2="442.2" y1="40.10" y2="40.10"/><line x1="430.7" x2="433" y1="50.52" y2="50.52"/><line x1="439.9" x2="442.2" y1="50.52" y2="50.52"/><line x1="430.7" x2="433" y1="60.94" y2="60.94"/><line x1="439.9" x2="442.2" y1="60.94" y2="60.94"/><line x1="430.7" x2="433" y1="71.36" y2="71.36"/><line x1="439.9" x2="442.2" y1="71.36" y2="71.36"/><line x1="430.7" x2="433" y1="81.78" y2="81.78"/><line x1="439.9" x2="442.2" y1="81.78" y2="81.78"/><line x1="430.7" x2="433" y1="92.20" y2="92.20"/><line x1="439.9" x2="442.2" y1="92.20" y2="92.20"/></g><g font-size="10" fill="#1a1a1a"><text x="447.0" y="44.50">550</text><text x="447.0" y="54.92">500</text><text x="447.0" y="65.34">450</text><text x="447.0" y="75.76">400</text><text x="447.0" y="86.18">350</text><text x="447.0" y="96.60">300</text></g><text x="431.0" y="31.4" font-size="9.1" font-weight="bold" fill="#1a1a1a">d (nm)</text>
<line x1="44.45" x2="44.45" y1="479.6" y2="483.6" stroke="#333" stroke-width="1.1"/><text x="44.45" y="496.4" text-anchor="middle" class="tk">0</text><line x1="87.55" x2="87.55" y1="479.6" y2="483.6" stroke="#333" stroke-width="1.1"/><text x="87.55" y="496.4" text-anchor="middle" class="tk">1</text><line x1="130.65" x2="130.65" y1="479.6" y2="483.6" stroke="#333" stroke-width="1.1"/><text x="130.65" y="496.4" text-anchor="middle" class="tk">2</text><line x1="173.75" x2="173.75" y1="479.6" y2="483.6" stroke="#333" stroke-width="1.1"/><text x="173.75" y="496.4" text-anchor="middle" class="tk">3</text><line x1="216.85" x2="216.85" y1="479.6" y2="483.6" stroke="#333" stroke-width="1.1"/><text x="216.85" y="496.4" text-anchor="middle" class="tk">4</text><line x1="31.00" x2="34.00" y1="440.70" y2="440.70" stroke="#333" stroke-width="1.1"/><text x="26.60" y="445.60" text-anchor="end" class="tk">1</text><line x1="31.00" x2="34.00" y1="397.80" y2="397.80" stroke="#333" stroke-width="1.1"/><text x="26.60" y="402.70" text-anchor="end" class="tk">2</text><line x1="31.00" x2="34.00" y1="354.90" y2="354.90" stroke="#333" stroke-width="1.1"/><text x="26.60" y="359.80" text-anchor="end" class="tk">3</text><line x1="31.00" x2="34.00" y1="312.00" y2="312.00" stroke="#333" stroke-width="1.1"/><text x="26.60" y="316.90" text-anchor="end" class="tk">4</text><line x1="31.00" x2="34.00" y1="269.10" y2="269.10" stroke="#333" stroke-width="1.1"/><text x="26.60" y="274.00" text-anchor="end" class="tk">5</text><text x="126.45" y="512.2" text-anchor="middle" class="ax">X (cm)</text><text transform="translate(15.00,359.4) rotate(-90)" text-anchor="middle" class="ax">Y (cm)</text><line x1="267.80" x2="267.80" y1="479.6" y2="483.6" stroke="#333" stroke-width="1.1"/><text x="267.80" y="496.4" text-anchor="middle" class="tk">0</text><line x1="310.90" x2="310.90" y1="479.6" y2="483.6" stroke="#333" stroke-width="1.1"/><text x="310.90" y="496.4" text-anchor="middle" class="tk">1</text><line x1="354.00" x2="354.00" y1="479.6" y2="483.6" stroke="#333" stroke-width="1.1"/><text x="354.00" y="496.4" text-anchor="middle" class="tk">2</text><line x1="397.10" x2="397.10" y1="479.6" y2="483.6" stroke="#333" stroke-width="1.1"/><text x="397.10" y="496.4" text-anchor="middle" class="tk">3</text><line x1="440.20" x2="440.20" y1="479.6" y2="483.6" stroke="#333" stroke-width="1.1"/><text x="440.20" y="496.4" text-anchor="middle" class="tk">4</text><line x1="254.35" x2="257.35" y1="440.70" y2="440.70" stroke="#333" stroke-width="1.1"/><text x="249.95" y="445.60" text-anchor="end" class="tk">1</text><line x1="254.35" x2="257.35" y1="397.80" y2="397.80" stroke="#333" stroke-width="1.1"/><text x="249.95" y="402.70" text-anchor="end" class="tk">2</text><line x1="254.35" x2="257.35" y1="354.90" y2="354.90" stroke="#333" stroke-width="1.1"/><text x="249.95" y="359.80" text-anchor="end" class="tk">3</text><line x1="254.35" x2="257.35" y1="312.00" y2="312.00" stroke="#333" stroke-width="1.1"/><text x="249.95" y="316.90" text-anchor="end" class="tk">4</text><line x1="254.35" x2="257.35" y1="269.10" y2="269.10" stroke="#333" stroke-width="1.1"/><text x="249.95" y="274.00" text-anchor="end" class="tk">5</text><text x="349.80" y="512.2" text-anchor="middle" class="ax">X (cm)</text><text transform="translate(238.35,359.4) rotate(-90)" text-anchor="middle" class="ax">Y (cm)</text><line x1="490.70" x2="490.70" y1="479.6" y2="483.6" stroke="#333" stroke-width="1.1"/><text x="490.70" y="496.4" text-anchor="middle" class="tk">0</text><line x1="533.80" x2="533.80" y1="479.6" y2="483.6" stroke="#333" stroke-width="1.1"/><text x="533.80" y="496.4" text-anchor="middle" class="tk">1</text><line x1="576.90" x2="576.90" y1="479.6" y2="483.6" stroke="#333" stroke-width="1.1"/><text x="576.90" y="496.4" text-anchor="middle" class="tk">2</text><line x1="620.00" x2="620.00" y1="479.6" y2="483.6" stroke="#333" stroke-width="1.1"/><text x="620.00" y="496.4" text-anchor="middle" class="tk">3</text><line x1="663.10" x2="663.10" y1="479.6" y2="483.6" stroke="#333" stroke-width="1.1"/><text x="663.10" y="496.4" text-anchor="middle" class="tk">4</text><line x1="477.25" x2="480.25" y1="440.70" y2="440.70" stroke="#333" stroke-width="1.1"/><text x="472.85" y="445.60" text-anchor="end" class="tk">1</text><line x1="477.25" x2="480.25" y1="397.80" y2="397.80" stroke="#333" stroke-width="1.1"/><text x="472.85" y="402.70" text-anchor="end" class="tk">2</text><line x1="477.25" x2="480.25" y1="354.90" y2="354.90" stroke="#333" stroke-width="1.1"/><text x="472.85" y="359.80" text-anchor="end" class="tk">3</text><line x1="477.25" x2="480.25" y1="312.00" y2="312.00" stroke="#333" stroke-width="1.1"/><text x="472.85" y="316.90" text-anchor="end" class="tk">4</text><line x1="477.25" x2="480.25" y1="269.10" y2="269.10" stroke="#333" stroke-width="1.1"/><text x="472.85" y="274.00" text-anchor="end" class="tk">5</text><text x="572.70" y="512.2" text-anchor="middle" class="ax">X (cm)</text><text transform="translate(461.25,359.4) rotate(-90)" text-anchor="middle" class="ax">Y (cm)</text><text x="126.4" y="237.8" text-anchor="middle" class="ti">Si (at.%)</text><text x="349.8" y="237.8" text-anchor="middle" class="ti">Ge (at.%)</text><text x="572.4" y="237.8" text-anchor="middle" class="ti">Te (at.%)</text><text x="0.8" y="232" class="pl">(b)</text><text x="223.6" y="232" class="pl">(c)</text><text x="445.6" y="232" class="pl">(d)</text><text x="220.6" y="9.6" class="pl">(a)</text>
</svg>
</body></html>
